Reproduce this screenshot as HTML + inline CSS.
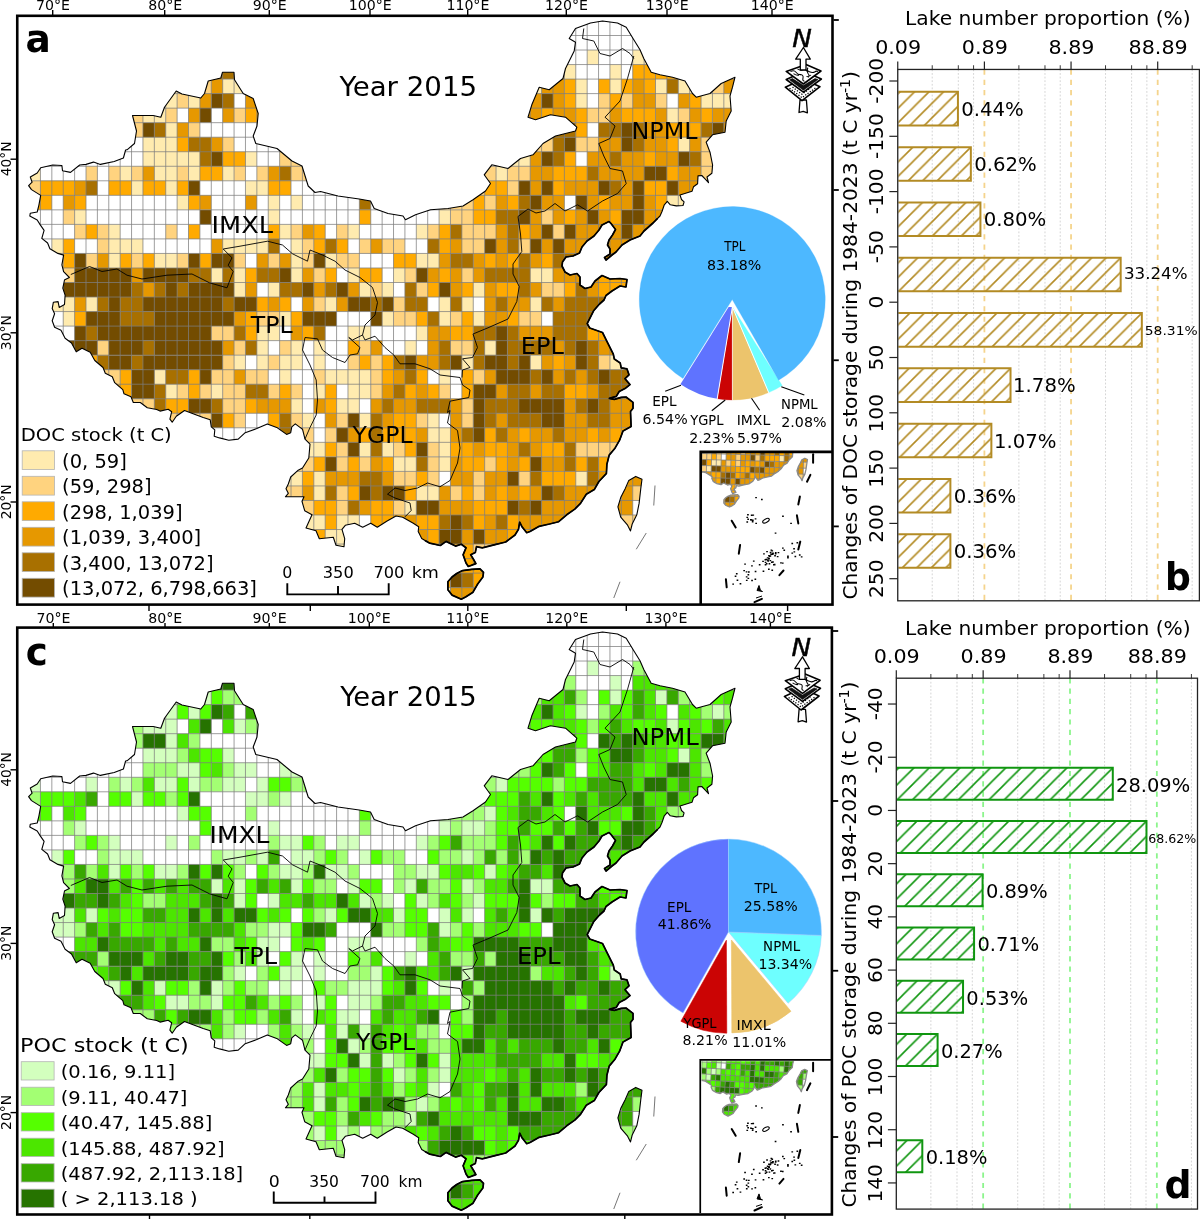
<!DOCTYPE html>
<html><head><meta charset="utf-8"><title>Lake DOC and POC stock maps</title>
<style>html,body{margin:0;padding:0;background:#fff}svg{display:block}text{font-family:"DejaVu Sans","Liberation Sans",sans-serif}</style></head>
<body><svg width="1200" height="1219" viewBox="0 0 1200 1219">
<rect width="1200" height="1219" fill="#fff"/>
<clipPath id="cpa"><path d="M28.6 185.6 L32.1 182.2 L30.3 177.0 L37.2 173.0 L40.7 167.8 L52.7 165.0 L61.9 165.5 L62.5 170.7 L70.5 172.4 L79.7 165.0 L86.0 164.4 L93.5 162.1 L100.4 164.4 L114.2 161.5 L123.4 158.0 L125.6 150.0 L127.0 149.8 L134.5 143.5 L136.5 131.0 L132.5 115.5 L153.2 115.5 L160.8 117.2 L164.5 107.2 L176.2 91.0 L182.0 94.0 L200.8 98.0 L204.5 93.5 L208.2 81.0 L220.8 78.0 L222.5 72.2 L234.0 72.2 L234.5 79.8 L243.2 93.5 L253.2 98.5 L258.2 113.5 L257.0 126.0 L253.2 136.0 L255.8 143.5 L277.0 148.5 L292.0 161.0 L302.0 166.0 L308.2 186.0 L315.0 192.5 L320.5 191.5 L338.0 196.0 L359.2 199.0 L370.5 201.0 L374.2 208.5 L388.0 213.5 L403.0 216.0 L405.5 219.8 L415.5 214.8 L430.5 209.8 L448.0 208.5 L463.0 206.0 L473.0 199.8 L485.5 191.0 L490.5 183.5 L484.2 174.8 L491.8 164.8 L508.0 168.5 L520.5 158.5 L533.0 154.8 L543.0 143.5 L555.5 136.0 L575.5 131.0 L576.8 127.2 L565.5 117.2 L550.5 114.8 L535.5 119.8 L528.0 117.2 L531.8 104.8 L539.2 87.2 L549.2 89.8 L563.0 78.5 L565.5 68.5 L574.2 51.0 L575.5 42.2 L569.2 38.5 L575.5 28.5 L590.5 23.0 L602.5 21.0 L617.5 23.0 L626.2 27.2 L633.8 39.8 L640.0 49.8 L643.8 58.5 L651.2 72.2 L660.0 74.8 L672.5 77.2 L685.0 81.0 L692.5 93.5 L696.2 97.2 L710.0 93.5 L721.2 83.5 L735.0 77.2 L732.5 87.2 L730.0 96.0 L731.2 111.0 L726.2 121.0 L725.0 132.2 L712.5 134.8 L706.2 142.2 L710.0 152.2 L712.6 165.0 L711.9 173.3 L707.0 177.0 L708.5 182.6 L705.5 179.3 L701.8 175.5 L698.0 175.9 L697.6 183.8 L693.5 186.8 L692.0 191.3 L680.0 195.0 L681.5 199.5 L684.1 201.8 L683.0 205.5 L676.3 205.9 L670.3 204.8 L667.3 201.4 L664.3 204.8 L662.0 211.5 L660.0 216.0 L657.5 218.5 L653.0 223.0 L644.0 231.0 L640.0 236.0 L630.0 240.0 L622.0 245.0 L616.0 252.0 L612.0 255.0 L606.0 260.0 L604.5 257.5 L610.0 254.0 L610.0 249.0 L607.5 245.0 L609.0 240.0 L612.5 235.0 L615.5 229.5 L611.0 223.5 L609.0 221.5 L602.0 225.0 L599.0 230.0 L594.0 236.0 L587.0 241.0 L582.0 247.0 L579.5 253.0 L573.0 256.0 L566.0 257.0 L562.5 262.0 L562.0 266.0 L565.0 272.0 L570.0 275.0 L577.0 273.5 L580.0 277.0 L580.0 285.0 L585.0 288.5 L591.0 287.0 L595.0 281.0 L602.0 275.5 L610.0 279.0 L620.0 278.5 L627.0 279.5 L626.0 287.0 L620.0 286.0 L612.0 291.0 L606.0 295.5 L604.0 300.0 L599.5 304.0 L593.6 310.8 L590.7 316.7 L587.2 323.6 L589.7 328.0 L602.5 332.5 L607.4 342.3 L613.3 354.1 L614.3 359.0 L620.2 363.0 L621.2 367.9 L627.0 368.9 L629.0 374.8 L625.0 378.7 L630.0 384.6 L625.0 388.6 L619.2 391.5 L616.3 396.4 L609.4 398.4 L614.3 399.4 L621.2 397.4 L626.0 397.0 L633.0 402.4 L633.0 408.3 L630.5 411.5 L631.1 426.4 L623.0 431.0 L619.6 440.2 L615.0 448.2 L609.2 455.1 L606.9 464.3 L606.4 473.5 L598.9 481.5 L594.3 489.6 L586.3 494.2 L580.5 503.4 L574.8 509.1 L566.7 514.8 L558.7 521.7 L549.5 524.0 L539.2 526.3 L530.0 531.5 L526.7 532.7 L522.0 526.8 L519.7 522.2 L518.5 529.2 L515.0 535.0 L505.7 542.0 L494.0 544.9 L482.3 547.8 L476.5 546.7 L475.3 552.5 L470.7 554.8 L473.6 559.5 L475.9 563.6 L468.3 566.5 L466.0 563.0 L463.1 554.8 L466.0 547.8 L461.3 544.3 L455.5 546.1 L446.2 541.4 L440.3 545.5 L429.8 543.2 L425.0 540.5 L421.7 538.5 L418.2 531.5 L418.7 526.7 L413.3 523.3 L402.7 517.3 L396.0 516.0 L386.7 521.3 L377.3 527.3 L370.7 523.3 L362.7 527.3 L354.7 523.3 L345.3 525.3 L342.0 529.3 L344.7 538.7 L344.0 546.7 L336.0 545.3 L333.3 537.3 L319.3 538.7 L316.0 530.7 L306.0 528.0 L312.0 514.7 L304.7 510.7 L302.0 501.3 L304.0 496.7 L289.5 496.8 L285.4 496.8 L288.3 493.3 L286.0 488.7 L288.3 484.0 L290.7 477.0 L297.7 470.6 L302.5 468.0 L308.8 458.0 L310.0 444.2 L305.0 439.2 L302.5 429.2 L300.0 427.4 L295.3 423.9 L291.8 426.8 L290.7 432.7 L286.6 434.4 L276.7 427.4 L267.3 423.9 L256.8 428.6 L245.2 432.7 L238.2 439.1 L228.8 440.2 L219.5 437.9 L214.2 436.2 L214.8 429.8 L211.3 426.8 L210.2 419.8 L203.2 417.5 L193.8 414.0 L184.5 410.5 L176.3 416.3 L172.2 422.2 L169.9 419.2 L171.7 411.7 L168.2 409.3 L160.0 411.1 L156.7 409.5 L147.3 407.8 L140.3 402.5 L133.3 402.5 L131.0 396.7 L124.0 393.8 L122.8 389.7 L114.7 382.7 L112.3 376.8 L105.3 373.3 L103.0 367.5 L94.8 360.5 L90.2 352.3 L82.0 348.2 L76.2 351.8 L71.5 343.0 L65.1 338.3 L61.0 330.2 L54.6 327.2 L52.2 320.8 L54.6 313.8 L52.2 308.6 L53.4 302.2 L58.1 301.6 L59.2 307.4 L64.5 304.5 L65.1 295.2 L62.8 288.2 L64.5 280.0 L64.8 279.8 L69.4 277.5 L63.6 271.7 L61.9 264.8 L63.6 255.1 L57.9 253.4 L49.9 248.8 L47.6 243.0 L41.8 238.4 L44.1 230.4 L40.1 224.6 L37.2 220.0 L29.8 216.0 L30.3 213.2 L37.2 212.0 L38.9 205.1 L40.7 195.4 L31.5 189.6Z M456.7 573.5 L462.5 570.6 L471.8 569.4 L480.0 568.8 L483.5 572.3 L482.9 577.0 L477.7 584.0 L473.0 592.2 L466.0 596.8 L461.3 599.2 L452.0 595.1 L447.9 589.8 L447.9 581.7 L452.0 577.0Z M635.7 476.4 L642.0 479.2 L640.8 488.4 L639.1 503.4 L636.8 514.8 L632.2 524.0 L630.5 530.9 L627.6 525.2 L620.7 517.1 L617.9 506.8 L620.7 497.6 L625.3 488.4 L628.8 480.4Z"/></clipPath>
<g id="cells_cpa" clip-path="url(#cpa)">
<path fill="#FFEBAF" d="M587.2 50.0h11.4v14.5h-11.4zM632.7 50.0h22.8v14.5h-22.8zM553.0 64.6h22.8v14.5h-22.8zM609.9 64.6h11.4v14.5h-11.4zM165.7 79.1h22.8v14.5h-22.8zM222.7 79.1h22.8v14.5h-22.8zM530.2 79.1h11.4v14.5h-11.4zM575.8 79.1h11.4v14.5h-11.4zM609.9 79.1h11.4v14.5h-11.4zM655.5 79.1h11.4v14.5h-11.4zM678.3 79.1h22.8v14.5h-22.8zM165.7 93.6h11.4v14.5h-11.4zM188.5 93.6h11.4v14.5h-11.4zM575.8 93.6h11.4v14.5h-11.4zM701.1 93.6h34.2v14.5h-34.2zM143.0 108.1h22.8v14.5h-22.8zM666.9 108.1h11.4v14.5h-11.4zM165.7 122.7h11.4v14.5h-11.4zM143.0 137.2h34.2v14.5h-34.2zM678.3 137.2h11.4v14.5h-11.4zM143.0 151.7h57.0v14.5h-57.0zM245.5 151.7h11.4v14.5h-11.4zM507.4 151.7h22.8v14.5h-22.8zM29.1 166.3h11.4v14.5h-11.4zM120.2 166.3h11.4v14.5h-11.4zM154.3 166.3h22.8v14.5h-22.8zM188.5 166.3h11.4v14.5h-11.4zM222.7 166.3h11.4v14.5h-11.4zM496.0 166.3h11.4v14.5h-11.4zM131.6 180.8h11.4v14.5h-11.4zM165.7 180.8h11.4v14.5h-11.4zM245.5 180.8h22.8v14.5h-22.8zM177.1 195.3h11.4v14.5h-11.4zM268.2 195.3h11.4v14.5h-11.4zM291.0 195.3h11.4v14.5h-11.4zM666.9 195.3h22.8v14.5h-22.8zM74.6 209.9h11.4v14.5h-11.4zM268.2 209.9h11.4v14.5h-11.4zM439.1 209.9h11.4v14.5h-11.4zM108.8 224.4h11.4v14.5h-11.4zM279.6 224.4h11.4v14.5h-11.4zM348.0 224.4h11.4v14.5h-11.4zM416.3 224.4h11.4v14.5h-11.4zM51.8 238.9h11.4v14.5h-11.4zM108.8 238.9h34.2v14.5h-34.2zM222.7 238.9h45.6v14.5h-45.6zM291.0 238.9h11.4v14.5h-11.4zM51.8 253.4h11.4v14.5h-11.4zM108.8 253.4h11.4v14.5h-11.4zM154.3 253.4h22.8v14.5h-22.8zM291.0 253.4h11.4v14.5h-11.4zM325.2 253.4h11.4v14.5h-11.4zM416.3 253.4h22.8v14.5h-22.8zM211.3 268.0h11.4v14.5h-11.4zM234.1 268.0h11.4v14.5h-11.4zM291.0 268.0h11.4v14.5h-11.4zM348.0 268.0h11.4v14.5h-11.4zM393.5 268.0h11.4v14.5h-11.4zM530.2 268.0h22.8v14.5h-22.8zM234.1 282.5h11.4v14.5h-11.4zM268.2 282.5h11.4v14.5h-11.4zM359.4 282.5h11.4v14.5h-11.4zM382.1 282.5h11.4v14.5h-11.4zM473.3 282.5h11.4v14.5h-11.4zM51.8 297.0h22.8v14.5h-22.8zM86.0 297.0h11.4v14.5h-11.4zM325.2 297.0h11.4v14.5h-11.4zM439.1 297.0h11.4v14.5h-11.4zM461.9 297.0h11.4v14.5h-11.4zM530.2 297.0h11.4v14.5h-11.4zM63.2 311.6h11.4v14.5h-11.4zM279.6 311.6h11.4v14.5h-11.4zM382.1 311.6h11.4v14.5h-11.4zM439.1 311.6h11.4v14.5h-11.4zM473.3 311.6h11.4v14.5h-11.4zM256.9 326.1h22.8v14.5h-22.8zM348.0 326.1h22.8v14.5h-22.8zM416.3 326.1h11.4v14.5h-11.4zM256.9 340.6h11.4v14.5h-11.4zM291.0 340.6h11.4v14.5h-11.4zM313.8 340.6h11.4v14.5h-11.4zM404.9 340.6h11.4v14.5h-11.4zM484.7 340.6h11.4v14.5h-11.4zM234.1 355.2h11.4v14.5h-11.4zM256.9 355.2h11.4v14.5h-11.4zM279.6 355.2h22.8v14.5h-22.8zM313.8 355.2h11.4v14.5h-11.4zM461.9 355.2h11.4v14.5h-11.4zM530.2 355.2h11.4v14.5h-11.4zM609.9 355.2h22.8v14.5h-22.8zM154.3 369.7h11.4v14.5h-11.4zM279.6 369.7h11.4v14.5h-11.4zM325.2 369.7h45.6v14.5h-45.6zM439.1 369.7h11.4v14.5h-11.4zM165.7 384.2h11.4v14.5h-11.4zM211.3 384.2h11.4v14.5h-11.4zM313.8 384.2h11.4v14.5h-11.4zM348.0 384.2h22.8v14.5h-22.8zM291.0 398.8h11.4v14.5h-11.4zM336.6 398.8h22.8v14.5h-22.8zM302.4 413.3h11.4v14.5h-11.4zM359.4 413.3h11.4v14.5h-11.4zM427.7 413.3h11.4v14.5h-11.4zM427.7 427.8h22.8v14.5h-22.8zM302.4 442.3h22.8v14.5h-22.8zM359.4 442.3h11.4v14.5h-11.4zM382.1 442.3h11.4v14.5h-11.4zM439.1 442.3h11.4v14.5h-11.4zM393.5 456.9h22.8v14.5h-22.8zM439.1 456.9h11.4v14.5h-11.4zM279.6 471.4h22.8v14.5h-22.8zM313.8 471.4h11.4v14.5h-11.4zM575.8 471.4h11.4v14.5h-11.4zM313.8 485.9h11.4v14.5h-11.4zM416.3 485.9h22.8v14.5h-22.8zM404.9 500.5h11.4v14.5h-11.4zM302.4 515.0h22.8v14.5h-22.8zM336.6 515.0h22.8v14.5h-22.8zM325.2 529.5h22.8v14.5h-22.8zM336.6 544.0h11.4v14.5h-11.4zM439.1 587.6h11.4v14.5h-11.4z"/>
<path fill="#FFD37F" d="M199.9 79.1h11.4v14.5h-11.4zM712.5 79.1h11.4v14.5h-11.4zM177.1 93.6h11.4v14.5h-11.4zM598.5 93.6h11.4v14.5h-11.4zM621.3 93.6h11.4v14.5h-11.4zM655.5 93.6h11.4v14.5h-11.4zM131.6 108.1h11.4v14.5h-11.4zM165.7 108.1h11.4v14.5h-11.4zM234.1 108.1h11.4v14.5h-11.4zM587.2 108.1h22.8v14.5h-22.8zM678.3 108.1h11.4v14.5h-11.4zM131.6 122.7h11.4v14.5h-11.4zM188.5 122.7h11.4v14.5h-11.4zM222.7 137.2h11.4v14.5h-11.4zM530.2 137.2h22.8v14.5h-22.8zM575.8 137.2h22.8v14.5h-22.8zM701.1 137.2h11.4v14.5h-11.4zM279.6 151.7h22.8v14.5h-22.8zM701.1 151.7h11.4v14.5h-11.4zM86.0 166.3h11.4v14.5h-11.4zM108.8 166.3h11.4v14.5h-11.4zM131.6 166.3h11.4v14.5h-11.4zM177.1 166.3h11.4v14.5h-11.4zM234.1 166.3h11.4v14.5h-11.4zM256.9 166.3h11.4v14.5h-11.4zM291.0 166.3h22.8v14.5h-22.8zM484.7 166.3h11.4v14.5h-11.4zM507.4 166.3h22.8v14.5h-22.8zM701.1 166.3h11.4v14.5h-11.4zM29.1 180.8h11.4v14.5h-11.4zM473.3 180.8h11.4v14.5h-11.4zM507.4 180.8h11.4v14.5h-11.4zM439.1 195.3h34.2v14.5h-34.2zM484.7 195.3h11.4v14.5h-11.4zM63.2 209.9h11.4v14.5h-11.4zM450.5 209.9h22.8v14.5h-22.8zM541.6 209.9h11.4v14.5h-11.4zM74.6 224.4h11.4v14.5h-11.4zM97.4 224.4h11.4v14.5h-11.4zM165.7 224.4h11.4v14.5h-11.4zM291.0 224.4h11.4v14.5h-11.4zM336.6 224.4h11.4v14.5h-11.4zM427.7 224.4h11.4v14.5h-11.4zM461.9 224.4h34.2v14.5h-34.2zM553.0 224.4h11.4v14.5h-11.4zM97.4 238.9h11.4v14.5h-11.4zM302.4 238.9h11.4v14.5h-11.4zM359.4 238.9h11.4v14.5h-11.4zM382.1 238.9h22.8v14.5h-22.8zM461.9 238.9h22.8v14.5h-22.8zM518.8 238.9h11.4v14.5h-11.4zM86.0 253.4h11.4v14.5h-11.4zM131.6 253.4h11.4v14.5h-11.4zM177.1 253.4h11.4v14.5h-11.4zM234.1 253.4h11.4v14.5h-11.4zM268.2 253.4h11.4v14.5h-11.4zM302.4 253.4h11.4v14.5h-11.4zM336.6 253.4h22.8v14.5h-22.8zM63.2 268.0h11.4v14.5h-11.4zM313.8 268.0h11.4v14.5h-11.4zM404.9 268.0h11.4v14.5h-11.4zM461.9 268.0h11.4v14.5h-11.4zM370.8 282.5h11.4v14.5h-11.4zM416.3 282.5h11.4v14.5h-11.4zM541.6 282.5h22.8v14.5h-22.8zM313.8 297.0h11.4v14.5h-11.4zM393.5 297.0h11.4v14.5h-11.4zM256.9 311.6h22.8v14.5h-22.8zM393.5 311.6h22.8v14.5h-22.8zM450.5 311.6h11.4v14.5h-11.4zM518.8 311.6h22.8v14.5h-22.8zM211.3 326.1h22.8v14.5h-22.8zM97.4 340.6h11.4v14.5h-11.4zM234.1 340.6h11.4v14.5h-11.4zM279.6 340.6h11.4v14.5h-11.4zM359.4 340.6h11.4v14.5h-11.4zM450.5 340.6h22.8v14.5h-22.8zM222.7 355.2h11.4v14.5h-11.4zM268.2 355.2h11.4v14.5h-11.4zM348.0 355.2h11.4v14.5h-11.4zM370.8 355.2h11.4v14.5h-11.4zM598.5 355.2h11.4v14.5h-11.4zM97.4 369.7h22.8v14.5h-22.8zM211.3 369.7h22.8v14.5h-22.8zM245.5 369.7h22.8v14.5h-22.8zM313.8 369.7h11.4v14.5h-11.4zM370.8 369.7h11.4v14.5h-11.4zM473.3 369.7h11.4v14.5h-11.4zM177.1 384.2h11.4v14.5h-11.4zM199.9 384.2h11.4v14.5h-11.4zM222.7 384.2h22.8v14.5h-22.8zM268.2 384.2h11.4v14.5h-11.4zM291.0 384.2h11.4v14.5h-11.4zM370.8 384.2h11.4v14.5h-11.4zM439.1 384.2h11.4v14.5h-11.4zM131.6 398.8h22.8v14.5h-22.8zM222.7 398.8h22.8v14.5h-22.8zM461.9 398.8h11.4v14.5h-11.4zM165.7 413.3h45.6v14.5h-45.6zM234.1 413.3h11.4v14.5h-11.4zM291.0 413.3h11.4v14.5h-11.4zM336.6 413.3h11.4v14.5h-11.4zM416.3 413.3h11.4v14.5h-11.4zM461.9 413.3h11.4v14.5h-11.4zM302.4 427.8h11.4v14.5h-11.4zM325.2 427.8h11.4v14.5h-11.4zM336.6 442.3h11.4v14.5h-11.4zM393.5 442.3h11.4v14.5h-11.4zM427.7 442.3h11.4v14.5h-11.4zM575.8 442.3h45.6v14.5h-45.6zM291.0 456.9h22.8v14.5h-22.8zM336.6 456.9h11.4v14.5h-11.4zM359.4 456.9h11.4v14.5h-11.4zM427.7 456.9h11.4v14.5h-11.4zM484.7 456.9h11.4v14.5h-11.4zM393.5 471.4h22.8v14.5h-22.8zM427.7 471.4h11.4v14.5h-11.4zM473.3 471.4h11.4v14.5h-11.4zM518.8 471.4h11.4v14.5h-11.4zM279.6 485.9h22.8v14.5h-22.8zM336.6 485.9h11.4v14.5h-11.4zM450.5 485.9h11.4v14.5h-11.4zM473.3 485.9h11.4v14.5h-11.4zM632.7 485.9h11.4v14.5h-11.4zM302.4 500.5h11.4v14.5h-11.4zM336.6 500.5h11.4v14.5h-11.4zM393.5 500.5h11.4v14.5h-11.4zM621.3 515.0h22.8v14.5h-22.8zM473.3 544.0h22.8v14.5h-22.8z"/>
<path fill="#FFAA00" d="M632.7 64.6h45.6v14.5h-45.6zM564.4 79.1h11.4v14.5h-11.4zM598.5 79.1h11.4v14.5h-11.4zM621.3 79.1h11.4v14.5h-11.4zM644.1 79.1h11.4v14.5h-11.4zM564.4 93.6h11.4v14.5h-11.4zM609.9 93.6h11.4v14.5h-11.4zM689.7 93.6h11.4v14.5h-11.4zM245.5 108.1h22.8v14.5h-22.8zM541.6 108.1h11.4v14.5h-11.4zM575.8 108.1h11.4v14.5h-11.4zM621.3 108.1h34.2v14.5h-34.2zM701.1 108.1h11.4v14.5h-11.4zM575.8 122.7h11.4v14.5h-11.4zM666.9 122.7h34.2v14.5h-34.2zM177.1 137.2h11.4v14.5h-11.4zM666.9 137.2h11.4v14.5h-11.4zM222.7 151.7h22.8v14.5h-22.8zM564.4 151.7h11.4v14.5h-11.4zM644.1 151.7h11.4v14.5h-11.4zM199.9 166.3h22.8v14.5h-22.8zM553.0 166.3h34.2v14.5h-34.2zM666.9 166.3h11.4v14.5h-11.4zM40.4 180.8h34.2v14.5h-34.2zM108.8 180.8h22.8v14.5h-22.8zM143.0 180.8h22.8v14.5h-22.8zM177.1 180.8h11.4v14.5h-11.4zM268.2 180.8h22.8v14.5h-22.8zM484.7 180.8h22.8v14.5h-22.8zM553.0 180.8h11.4v14.5h-11.4zM644.1 180.8h22.8v14.5h-22.8zM29.1 195.3h22.8v14.5h-22.8zM74.6 195.3h11.4v14.5h-11.4zM188.5 195.3h11.4v14.5h-11.4zM473.3 195.3h11.4v14.5h-11.4zM507.4 195.3h11.4v14.5h-11.4zM598.5 195.3h11.4v14.5h-11.4zM655.5 195.3h11.4v14.5h-11.4zM359.4 209.9h11.4v14.5h-11.4zM473.3 209.9h22.8v14.5h-22.8zM564.4 209.9h11.4v14.5h-11.4zM609.9 209.9h11.4v14.5h-11.4zM86.0 224.4h11.4v14.5h-11.4zM188.5 224.4h11.4v14.5h-11.4zM268.2 224.4h11.4v14.5h-11.4zM313.8 224.4h11.4v14.5h-11.4zM439.1 224.4h11.4v14.5h-11.4zM518.8 224.4h11.4v14.5h-11.4zM63.2 238.9h11.4v14.5h-11.4zM313.8 238.9h11.4v14.5h-11.4zM336.6 238.9h11.4v14.5h-11.4zM439.1 238.9h11.4v14.5h-11.4zM63.2 253.4h11.4v14.5h-11.4zM120.2 253.4h11.4v14.5h-11.4zM143.0 253.4h11.4v14.5h-11.4zM199.9 253.4h11.4v14.5h-11.4zM393.5 253.4h22.8v14.5h-22.8zM484.7 253.4h11.4v14.5h-11.4zM507.4 253.4h11.4v14.5h-11.4zM541.6 253.4h11.4v14.5h-11.4zM245.5 268.0h11.4v14.5h-11.4zM325.2 268.0h11.4v14.5h-11.4zM359.4 268.0h22.8v14.5h-22.8zM439.1 268.0h11.4v14.5h-11.4zM598.5 268.0h34.2v14.5h-34.2zM427.7 282.5h11.4v14.5h-11.4zM461.9 282.5h11.4v14.5h-11.4zM496.0 282.5h22.8v14.5h-22.8zM564.4 282.5h11.4v14.5h-11.4zM598.5 282.5h34.2v14.5h-34.2zM256.9 297.0h11.4v14.5h-11.4zM279.6 297.0h11.4v14.5h-11.4zM74.6 311.6h11.4v14.5h-11.4zM245.5 311.6h11.4v14.5h-11.4zM291.0 311.6h11.4v14.5h-11.4zM416.3 311.6h11.4v14.5h-11.4zM461.9 311.6h11.4v14.5h-11.4zM507.4 311.6h11.4v14.5h-11.4zM245.5 326.1h11.4v14.5h-11.4zM302.4 326.1h11.4v14.5h-11.4zM450.5 326.1h22.8v14.5h-22.8zM587.2 326.1h22.8v14.5h-22.8zM348.0 340.6h11.4v14.5h-11.4zM86.0 355.2h11.4v14.5h-11.4zM359.4 355.2h11.4v14.5h-11.4zM382.1 355.2h11.4v14.5h-11.4zM553.0 355.2h11.4v14.5h-11.4zM120.2 369.7h11.4v14.5h-11.4zM188.5 369.7h11.4v14.5h-11.4zM382.1 369.7h11.4v14.5h-11.4zM416.3 369.7h11.4v14.5h-11.4zM461.9 369.7h11.4v14.5h-11.4zM108.8 384.2h22.8v14.5h-22.8zM188.5 384.2h11.4v14.5h-11.4zM279.6 384.2h11.4v14.5h-11.4zM325.2 384.2h11.4v14.5h-11.4zM404.9 384.2h11.4v14.5h-11.4zM427.7 384.2h11.4v14.5h-11.4zM461.9 384.2h11.4v14.5h-11.4zM564.4 384.2h22.8v14.5h-22.8zM165.7 398.8h22.8v14.5h-22.8zM245.5 398.8h11.4v14.5h-11.4zM325.2 398.8h11.4v14.5h-11.4zM222.7 413.3h11.4v14.5h-11.4zM268.2 413.3h11.4v14.5h-11.4zM393.5 413.3h22.8v14.5h-22.8zM359.4 427.8h11.4v14.5h-11.4zM382.1 427.8h34.2v14.5h-34.2zM484.7 427.8h11.4v14.5h-11.4zM518.8 427.8h11.4v14.5h-11.4zM587.2 427.8h11.4v14.5h-11.4zM609.9 427.8h22.8v14.5h-22.8zM325.2 442.3h11.4v14.5h-11.4zM404.9 442.3h11.4v14.5h-11.4zM450.5 442.3h22.8v14.5h-22.8zM484.7 442.3h22.8v14.5h-22.8zM541.6 442.3h22.8v14.5h-22.8zM313.8 456.9h11.4v14.5h-11.4zM348.0 456.9h11.4v14.5h-11.4zM382.1 456.9h11.4v14.5h-11.4zM461.9 456.9h22.8v14.5h-22.8zM496.0 456.9h11.4v14.5h-11.4zM518.8 456.9h11.4v14.5h-11.4zM575.8 456.9h11.4v14.5h-11.4zM598.5 456.9h11.4v14.5h-11.4zM302.4 471.4h11.4v14.5h-11.4zM416.3 471.4h11.4v14.5h-11.4zM541.6 471.4h34.2v14.5h-34.2zM348.0 485.9h11.4v14.5h-11.4zM404.9 485.9h11.4v14.5h-11.4zM461.9 485.9h11.4v14.5h-11.4zM496.0 485.9h11.4v14.5h-11.4zM518.8 485.9h11.4v14.5h-11.4zM313.8 500.5h22.8v14.5h-22.8zM370.8 500.5h22.8v14.5h-22.8zM473.3 500.5h34.2v14.5h-34.2zM325.2 515.0h11.4v14.5h-11.4zM370.8 515.0h34.2v14.5h-34.2zM416.3 515.0h22.8v14.5h-22.8zM473.3 515.0h11.4v14.5h-11.4zM507.4 515.0h11.4v14.5h-11.4zM313.8 529.5h11.4v14.5h-11.4zM427.7 529.5h11.4v14.5h-11.4zM507.4 529.5h22.8v14.5h-22.8zM450.5 544.0h22.8v14.5h-22.8zM450.5 558.6h34.2v14.5h-34.2zM439.1 573.1h11.4v14.5h-11.4zM473.3 573.1h11.4v14.5h-11.4z"/>
<path fill="#E69800" d="M211.3 79.1h11.4v14.5h-11.4zM541.6 79.1h22.8v14.5h-22.8zM632.7 79.1h11.4v14.5h-11.4zM723.8 79.1h11.4v14.5h-11.4zM199.9 93.6h11.4v14.5h-11.4zM245.5 93.6h11.4v14.5h-11.4zM530.2 93.6h11.4v14.5h-11.4zM553.0 93.6h11.4v14.5h-11.4zM632.7 93.6h22.8v14.5h-22.8zM678.3 93.6h11.4v14.5h-11.4zM188.5 108.1h11.4v14.5h-11.4zM222.7 108.1h11.4v14.5h-11.4zM518.8 108.1h22.8v14.5h-22.8zM553.0 108.1h22.8v14.5h-22.8zM609.9 108.1h11.4v14.5h-11.4zM655.5 108.1h11.4v14.5h-11.4zM689.7 108.1h11.4v14.5h-11.4zM712.5 108.1h22.8v14.5h-22.8zM177.1 122.7h11.4v14.5h-11.4zM644.1 122.7h22.8v14.5h-22.8zM723.8 122.7h11.4v14.5h-11.4zM211.3 137.2h11.4v14.5h-11.4zM598.5 137.2h22.8v14.5h-22.8zM644.1 137.2h22.8v14.5h-22.8zM689.7 137.2h11.4v14.5h-11.4zM530.2 151.7h11.4v14.5h-11.4zM587.2 151.7h22.8v14.5h-22.8zM621.3 151.7h22.8v14.5h-22.8zM655.5 151.7h22.8v14.5h-22.8zM143.0 166.3h11.4v14.5h-11.4zM268.2 166.3h11.4v14.5h-11.4zM530.2 166.3h22.8v14.5h-22.8zM598.5 166.3h45.6v14.5h-45.6zM678.3 166.3h22.8v14.5h-22.8zM74.6 180.8h11.4v14.5h-11.4zM530.2 180.8h11.4v14.5h-11.4zM564.4 180.8h34.2v14.5h-34.2zM621.3 180.8h11.4v14.5h-11.4zM678.3 180.8h22.8v14.5h-22.8zM63.2 195.3h11.4v14.5h-11.4zM199.9 195.3h11.4v14.5h-11.4zM245.5 195.3h11.4v14.5h-11.4zM496.0 195.3h11.4v14.5h-11.4zM541.6 195.3h22.8v14.5h-22.8zM587.2 195.3h11.4v14.5h-11.4zM609.9 195.3h22.8v14.5h-22.8zM644.1 195.3h11.4v14.5h-11.4zM530.2 209.9h11.4v14.5h-11.4zM553.0 209.9h11.4v14.5h-11.4zM575.8 209.9h11.4v14.5h-11.4zM598.5 209.9h11.4v14.5h-11.4zM644.1 209.9h22.8v14.5h-22.8zM302.4 224.4h11.4v14.5h-11.4zM496.0 224.4h11.4v14.5h-11.4zM530.2 224.4h11.4v14.5h-11.4zM575.8 224.4h45.6v14.5h-45.6zM632.7 224.4h22.8v14.5h-22.8zM211.3 238.9h11.4v14.5h-11.4zM370.8 238.9h11.4v14.5h-11.4zM450.5 238.9h11.4v14.5h-11.4zM496.0 238.9h11.4v14.5h-11.4zM541.6 238.9h11.4v14.5h-11.4zM564.4 238.9h22.8v14.5h-22.8zM598.5 238.9h34.2v14.5h-34.2zM97.4 253.4h11.4v14.5h-11.4zM256.9 253.4h11.4v14.5h-11.4zM279.6 253.4h11.4v14.5h-11.4zM439.1 253.4h11.4v14.5h-11.4zM473.3 253.4h11.4v14.5h-11.4zM496.0 253.4h11.4v14.5h-11.4zM530.2 253.4h11.4v14.5h-11.4zM598.5 253.4h22.8v14.5h-22.8zM131.6 268.0h11.4v14.5h-11.4zM302.4 268.0h11.4v14.5h-11.4zM427.7 268.0h11.4v14.5h-11.4zM450.5 268.0h11.4v14.5h-11.4zM473.3 268.0h11.4v14.5h-11.4zM553.0 268.0h45.6v14.5h-45.6zM143.0 282.5h11.4v14.5h-11.4zM245.5 282.5h11.4v14.5h-11.4zM313.8 282.5h11.4v14.5h-11.4zM348.0 282.5h11.4v14.5h-11.4zM450.5 282.5h11.4v14.5h-11.4zM484.7 282.5h11.4v14.5h-11.4zM530.2 282.5h11.4v14.5h-11.4zM587.2 282.5h11.4v14.5h-11.4zM74.6 297.0h11.4v14.5h-11.4zM268.2 297.0h11.4v14.5h-11.4zM302.4 297.0h11.4v14.5h-11.4zM336.6 297.0h11.4v14.5h-11.4zM484.7 297.0h11.4v14.5h-11.4zM507.4 297.0h22.8v14.5h-22.8zM553.0 297.0h11.4v14.5h-11.4zM234.1 311.6h11.4v14.5h-11.4zM484.7 311.6h22.8v14.5h-22.8zM291.0 326.1h11.4v14.5h-11.4zM427.7 326.1h22.8v14.5h-22.8zM518.8 326.1h34.2v14.5h-34.2zM222.7 340.6h11.4v14.5h-11.4zM370.8 340.6h11.4v14.5h-11.4zM427.7 340.6h11.4v14.5h-11.4zM553.0 340.6h11.4v14.5h-11.4zM598.5 340.6h22.8v14.5h-22.8zM416.3 355.2h22.8v14.5h-22.8zM541.6 355.2h11.4v14.5h-11.4zM564.4 355.2h11.4v14.5h-11.4zM234.1 369.7h11.4v14.5h-11.4zM393.5 369.7h11.4v14.5h-11.4zM484.7 369.7h11.4v14.5h-11.4zM553.0 369.7h11.4v14.5h-11.4zM575.8 369.7h11.4v14.5h-11.4zM382.1 384.2h11.4v14.5h-11.4zM416.3 384.2h11.4v14.5h-11.4zM496.0 384.2h11.4v14.5h-11.4zM530.2 384.2h11.4v14.5h-11.4zM587.2 384.2h11.4v14.5h-11.4zM256.9 398.8h34.2v14.5h-34.2zM313.8 398.8h11.4v14.5h-11.4zM370.8 398.8h11.4v14.5h-11.4zM393.5 398.8h22.8v14.5h-22.8zM450.5 398.8h11.4v14.5h-11.4zM564.4 398.8h11.4v14.5h-11.4zM609.9 398.8h22.8v14.5h-22.8zM325.2 413.3h11.4v14.5h-11.4zM382.1 413.3h11.4v14.5h-11.4zM450.5 413.3h11.4v14.5h-11.4zM496.0 413.3h11.4v14.5h-11.4zM564.4 413.3h22.8v14.5h-22.8zM609.9 413.3h22.8v14.5h-22.8zM348.0 427.8h11.4v14.5h-11.4zM416.3 427.8h11.4v14.5h-11.4zM450.5 427.8h11.4v14.5h-11.4zM507.4 427.8h11.4v14.5h-11.4zM530.2 427.8h22.8v14.5h-22.8zM564.4 427.8h22.8v14.5h-22.8zM598.5 427.8h11.4v14.5h-11.4zM473.3 442.3h11.4v14.5h-11.4zM507.4 442.3h11.4v14.5h-11.4zM530.2 442.3h11.4v14.5h-11.4zM370.8 456.9h11.4v14.5h-11.4zM450.5 456.9h11.4v14.5h-11.4zM507.4 456.9h11.4v14.5h-11.4zM541.6 456.9h22.8v14.5h-22.8zM325.2 471.4h34.2v14.5h-34.2zM382.1 471.4h11.4v14.5h-11.4zM450.5 471.4h22.8v14.5h-22.8zM484.7 471.4h22.8v14.5h-22.8zM598.5 471.4h11.4v14.5h-11.4zM621.3 471.4h22.8v14.5h-22.8zM302.4 485.9h11.4v14.5h-11.4zM439.1 485.9h11.4v14.5h-11.4zM484.7 485.9h11.4v14.5h-11.4zM507.4 485.9h11.4v14.5h-11.4zM530.2 485.9h11.4v14.5h-11.4zM564.4 485.9h34.2v14.5h-34.2zM621.3 485.9h11.4v14.5h-11.4zM359.4 500.5h11.4v14.5h-11.4zM439.1 500.5h34.2v14.5h-34.2zM541.6 500.5h45.6v14.5h-45.6zM609.9 500.5h22.8v14.5h-22.8zM404.9 515.0h11.4v14.5h-11.4zM484.7 515.0h11.4v14.5h-11.4zM518.8 515.0h45.6v14.5h-45.6zM416.3 529.5h11.4v14.5h-11.4zM461.9 529.5h11.4v14.5h-11.4zM484.7 529.5h22.8v14.5h-22.8zM450.5 587.6h34.2v14.5h-34.2z"/>
<path fill="#A87000" d="M211.3 64.6h22.8v14.5h-22.8zM666.9 79.1h11.4v14.5h-11.4zM222.7 93.6h11.4v14.5h-11.4zM154.3 122.7h11.4v14.5h-11.4zM553.0 122.7h22.8v14.5h-22.8zM598.5 122.7h22.8v14.5h-22.8zM632.7 122.7h11.4v14.5h-11.4zM701.1 122.7h11.4v14.5h-11.4zM188.5 137.2h22.8v14.5h-22.8zM553.0 137.2h11.4v14.5h-11.4zM632.7 137.2h11.4v14.5h-11.4zM199.9 151.7h11.4v14.5h-11.4zM553.0 151.7h11.4v14.5h-11.4zM609.9 151.7h11.4v14.5h-11.4zM689.7 151.7h11.4v14.5h-11.4zM279.6 166.3h11.4v14.5h-11.4zM587.2 166.3h11.4v14.5h-11.4zM86.0 180.8h11.4v14.5h-11.4zM609.9 180.8h11.4v14.5h-11.4zM359.4 195.3h11.4v14.5h-11.4zM518.8 195.3h11.4v14.5h-11.4zM496.0 209.9h22.8v14.5h-22.8zM450.5 224.4h11.4v14.5h-11.4zM507.4 224.4h11.4v14.5h-11.4zM268.2 238.9h11.4v14.5h-11.4zM325.2 238.9h11.4v14.5h-11.4zM427.7 238.9h11.4v14.5h-11.4zM507.4 238.9h11.4v14.5h-11.4zM450.5 253.4h22.8v14.5h-22.8zM518.8 253.4h11.4v14.5h-11.4zM553.0 253.4h22.8v14.5h-22.8zM188.5 268.0h22.8v14.5h-22.8zM222.7 268.0h11.4v14.5h-11.4zM256.9 268.0h22.8v14.5h-22.8zM484.7 268.0h45.6v14.5h-45.6zM131.6 282.5h11.4v14.5h-11.4zM154.3 282.5h11.4v14.5h-11.4zM177.1 282.5h11.4v14.5h-11.4zM279.6 282.5h22.8v14.5h-22.8zM325.2 282.5h11.4v14.5h-11.4zM404.9 282.5h11.4v14.5h-11.4zM518.8 282.5h11.4v14.5h-11.4zM575.8 282.5h11.4v14.5h-11.4zM97.4 297.0h11.4v14.5h-11.4zM120.2 297.0h22.8v14.5h-22.8zM222.7 297.0h11.4v14.5h-11.4zM370.8 297.0h11.4v14.5h-11.4zM404.9 297.0h22.8v14.5h-22.8zM450.5 297.0h11.4v14.5h-11.4zM496.0 297.0h11.4v14.5h-11.4zM541.6 297.0h11.4v14.5h-11.4zM564.4 297.0h45.6v14.5h-45.6zM120.2 311.6h34.2v14.5h-34.2zM427.7 311.6h11.4v14.5h-11.4zM553.0 311.6h45.6v14.5h-45.6zM86.0 326.1h11.4v14.5h-11.4zM234.1 326.1h11.4v14.5h-11.4zM313.8 326.1h11.4v14.5h-11.4zM473.3 326.1h22.8v14.5h-22.8zM507.4 326.1h11.4v14.5h-11.4zM553.0 326.1h34.2v14.5h-34.2zM143.0 340.6h11.4v14.5h-11.4zM245.5 340.6h11.4v14.5h-11.4zM439.1 340.6h11.4v14.5h-11.4zM473.3 340.6h11.4v14.5h-11.4zM507.4 340.6h45.6v14.5h-45.6zM564.4 340.6h11.4v14.5h-11.4zM587.2 340.6h11.4v14.5h-11.4zM97.4 355.2h11.4v14.5h-11.4zM131.6 355.2h11.4v14.5h-11.4zM393.5 355.2h11.4v14.5h-11.4zM439.1 355.2h11.4v14.5h-11.4zM473.3 355.2h11.4v14.5h-11.4zM507.4 355.2h11.4v14.5h-11.4zM587.2 355.2h11.4v14.5h-11.4zM165.7 369.7h22.8v14.5h-22.8zM404.9 369.7h11.4v14.5h-11.4zM530.2 369.7h11.4v14.5h-11.4zM564.4 369.7h11.4v14.5h-11.4zM587.2 369.7h11.4v14.5h-11.4zM609.9 369.7h22.8v14.5h-22.8zM154.3 384.2h11.4v14.5h-11.4zM245.5 384.2h22.8v14.5h-22.8zM393.5 384.2h11.4v14.5h-11.4zM507.4 384.2h22.8v14.5h-22.8zM541.6 384.2h22.8v14.5h-22.8zM598.5 384.2h34.2v14.5h-34.2zM154.3 398.8h11.4v14.5h-11.4zM211.3 398.8h11.4v14.5h-11.4zM382.1 398.8h11.4v14.5h-11.4zM416.3 398.8h34.2v14.5h-34.2zM484.7 398.8h34.2v14.5h-34.2zM575.8 398.8h11.4v14.5h-11.4zM598.5 398.8h11.4v14.5h-11.4zM279.6 413.3h11.4v14.5h-11.4zM370.8 413.3h11.4v14.5h-11.4zM484.7 413.3h11.4v14.5h-11.4zM507.4 413.3h34.2v14.5h-34.2zM587.2 413.3h22.8v14.5h-22.8zM279.6 427.8h11.4v14.5h-11.4zM370.8 427.8h11.4v14.5h-11.4zM461.9 427.8h11.4v14.5h-11.4zM496.0 427.8h11.4v14.5h-11.4zM553.0 427.8h11.4v14.5h-11.4zM370.8 442.3h11.4v14.5h-11.4zM518.8 442.3h11.4v14.5h-11.4zM564.4 442.3h11.4v14.5h-11.4zM416.3 456.9h11.4v14.5h-11.4zM564.4 456.9h11.4v14.5h-11.4zM587.2 456.9h11.4v14.5h-11.4zM359.4 471.4h22.8v14.5h-22.8zM530.2 471.4h11.4v14.5h-11.4zM587.2 471.4h11.4v14.5h-11.4zM325.2 485.9h11.4v14.5h-11.4zM370.8 485.9h11.4v14.5h-11.4zM553.0 485.9h11.4v14.5h-11.4zM348.0 500.5h11.4v14.5h-11.4zM518.8 500.5h11.4v14.5h-11.4zM439.1 515.0h11.4v14.5h-11.4zM461.9 515.0h11.4v14.5h-11.4zM496.0 515.0h11.4v14.5h-11.4zM461.9 573.1h11.4v14.5h-11.4z"/>
<path fill="#734C00" d="M211.3 93.6h11.4v14.5h-11.4zM541.6 93.6h11.4v14.5h-11.4zM199.9 108.1h11.4v14.5h-11.4zM143.0 122.7h11.4v14.5h-11.4zM621.3 122.7h11.4v14.5h-11.4zM712.5 122.7h11.4v14.5h-11.4zM564.4 137.2h11.4v14.5h-11.4zM621.3 137.2h11.4v14.5h-11.4zM211.3 151.7h11.4v14.5h-11.4zM541.6 151.7h11.4v14.5h-11.4zM678.3 151.7h11.4v14.5h-11.4zM644.1 166.3h22.8v14.5h-22.8zM188.5 180.8h11.4v14.5h-11.4zM518.8 180.8h11.4v14.5h-11.4zM541.6 180.8h11.4v14.5h-11.4zM598.5 180.8h11.4v14.5h-11.4zM632.7 180.8h11.4v14.5h-11.4zM666.9 180.8h11.4v14.5h-11.4zM530.2 195.3h11.4v14.5h-11.4zM575.8 195.3h11.4v14.5h-11.4zM632.7 195.3h11.4v14.5h-11.4zM199.9 209.9h11.4v14.5h-11.4zM518.8 209.9h11.4v14.5h-11.4zM587.2 209.9h11.4v14.5h-11.4zM621.3 209.9h22.8v14.5h-22.8zM541.6 224.4h11.4v14.5h-11.4zM564.4 224.4h11.4v14.5h-11.4zM621.3 224.4h11.4v14.5h-11.4zM484.7 238.9h11.4v14.5h-11.4zM530.2 238.9h11.4v14.5h-11.4zM553.0 238.9h11.4v14.5h-11.4zM74.6 253.4h11.4v14.5h-11.4zM188.5 253.4h11.4v14.5h-11.4zM211.3 253.4h22.8v14.5h-22.8zM313.8 253.4h11.4v14.5h-11.4zM74.6 268.0h57.0v14.5h-57.0zM143.0 268.0h45.6v14.5h-45.6zM279.6 268.0h11.4v14.5h-11.4zM416.3 268.0h11.4v14.5h-11.4zM63.2 282.5h68.3v14.5h-68.3zM165.7 282.5h11.4v14.5h-11.4zM188.5 282.5h45.6v14.5h-45.6zM302.4 282.5h11.4v14.5h-11.4zM336.6 282.5h11.4v14.5h-11.4zM439.1 282.5h11.4v14.5h-11.4zM108.8 297.0h11.4v14.5h-11.4zM143.0 297.0h79.7v14.5h-79.7zM234.1 297.0h22.8v14.5h-22.8zM348.0 297.0h22.8v14.5h-22.8zM382.1 297.0h11.4v14.5h-11.4zM86.0 311.6h34.2v14.5h-34.2zM154.3 311.6h79.7v14.5h-79.7zM302.4 311.6h34.2v14.5h-34.2zM370.8 311.6h11.4v14.5h-11.4zM74.6 326.1h11.4v14.5h-11.4zM97.4 326.1h113.9v14.5h-113.9zM496.0 326.1h11.4v14.5h-11.4zM63.2 340.6h34.2v14.5h-34.2zM108.8 340.6h34.2v14.5h-34.2zM154.3 340.6h68.3v14.5h-68.3zM496.0 340.6h11.4v14.5h-11.4zM575.8 340.6h11.4v14.5h-11.4zM108.8 355.2h22.8v14.5h-22.8zM143.0 355.2h79.7v14.5h-79.7zM404.9 355.2h11.4v14.5h-11.4zM450.5 355.2h11.4v14.5h-11.4zM484.7 355.2h22.8v14.5h-22.8zM518.8 355.2h11.4v14.5h-11.4zM575.8 355.2h11.4v14.5h-11.4zM131.6 369.7h22.8v14.5h-22.8zM199.9 369.7h11.4v14.5h-11.4zM496.0 369.7h34.2v14.5h-34.2zM541.6 369.7h11.4v14.5h-11.4zM598.5 369.7h11.4v14.5h-11.4zM131.6 384.2h22.8v14.5h-22.8zM473.3 384.2h22.8v14.5h-22.8zM188.5 398.8h22.8v14.5h-22.8zM473.3 398.8h11.4v14.5h-11.4zM518.8 398.8h45.6v14.5h-45.6zM587.2 398.8h11.4v14.5h-11.4zM211.3 413.3h11.4v14.5h-11.4zM348.0 413.3h11.4v14.5h-11.4zM473.3 413.3h11.4v14.5h-11.4zM541.6 413.3h22.8v14.5h-22.8zM336.6 427.8h11.4v14.5h-11.4zM473.3 427.8h11.4v14.5h-11.4zM348.0 442.3h11.4v14.5h-11.4zM416.3 442.3h11.4v14.5h-11.4zM325.2 456.9h11.4v14.5h-11.4zM530.2 456.9h11.4v14.5h-11.4zM507.4 471.4h11.4v14.5h-11.4zM359.4 485.9h11.4v14.5h-11.4zM382.1 485.9h22.8v14.5h-22.8zM541.6 485.9h11.4v14.5h-11.4zM416.3 500.5h22.8v14.5h-22.8zM507.4 500.5h11.4v14.5h-11.4zM530.2 500.5h11.4v14.5h-11.4zM450.5 515.0h11.4v14.5h-11.4zM439.1 529.5h22.8v14.5h-22.8zM473.3 529.5h11.4v14.5h-11.4zM450.5 573.1h11.4v14.5h-11.4z"/>
<path fill="none" stroke="#7d7d7d" stroke-width="0.75" vector-effect="non-scaling-stroke" d="M17.66 15.0v600M29.05 15.0v600M40.44 15.0v600M51.83 15.0v600M63.22 15.0v600M74.61 15.0v600M86.00 15.0v600M97.39 15.0v600M108.78 15.0v600M120.17 15.0v600M131.56 15.0v600M142.95 15.0v600M154.34 15.0v600M165.73 15.0v600M177.12 15.0v600M188.51 15.0v600M199.90 15.0v600M211.29 15.0v600M222.68 15.0v600M234.07 15.0v600M245.46 15.0v600M256.85 15.0v600M268.24 15.0v600M279.63 15.0v600M291.02 15.0v600M302.41 15.0v600M313.80 15.0v600M325.19 15.0v600M336.58 15.0v600M347.97 15.0v600M359.36 15.0v600M370.75 15.0v600M382.14 15.0v600M393.53 15.0v600M404.92 15.0v600M416.31 15.0v600M427.70 15.0v600M439.09 15.0v600M450.48 15.0v600M461.87 15.0v600M473.26 15.0v600M484.65 15.0v600M496.04 15.0v600M507.43 15.0v600M518.82 15.0v600M530.21 15.0v600M541.60 15.0v600M552.99 15.0v600M564.38 15.0v600M575.77 15.0v600M587.16 15.0v600M598.55 15.0v600M609.94 15.0v600M621.33 15.0v600M632.72 15.0v600M644.11 15.0v600M655.50 15.0v600M666.89 15.0v600M678.28 15.0v600M689.67 15.0v600M701.06 15.0v600M712.45 15.0v600M723.84 15.0v600M735.23 15.0v600M746.62 15.0v600M758.01 15.0v600M769.40 15.0v600M780.79 15.0v600M792.18 15.0v600M803.57 15.0v600M814.96 15.0v600M826.35 15.0v600M837.74 15.0v600M17 20.97h816M17 35.50h816M17 50.03h816M17 64.56h816M17 79.09h816M17 93.62h816M17 108.15h816M17 122.68h816M17 137.21h816M17 151.74h816M17 166.27h816M17 180.80h816M17 195.33h816M17 209.86h816M17 224.39h816M17 238.92h816M17 253.45h816M17 267.98h816M17 282.51h816M17 297.04h816M17 311.57h816M17 326.10h816M17 340.63h816M17 355.16h816M17 369.69h816M17 384.22h816M17 398.75h816M17 413.28h816M17 427.81h816M17 442.34h816M17 456.87h816M17 471.40h816M17 485.93h816M17 500.46h816M17 514.99h816M17 529.52h816M17 544.05h816M17 558.58h816M17 573.11h816M17 587.64h816M17 602.17h816M17 616.70h816"/>
</g>
<path fill="none" stroke="#000" stroke-width="1.1" stroke-linejoin="round" d="M28.6 185.6 L32.1 182.2 L30.3 177.0 L37.2 173.0 L40.7 167.8 L52.7 165.0 L61.9 165.5 L62.5 170.7 L70.5 172.4 L79.7 165.0 L86.0 164.4 L93.5 162.1 L100.4 164.4 L114.2 161.5 L123.4 158.0 L125.6 150.0 L127.0 149.8 L134.5 143.5 L136.5 131.0 L132.5 115.5 L153.2 115.5 L160.8 117.2 L164.5 107.2 L176.2 91.0 L182.0 94.0 L200.8 98.0 L204.5 93.5 L208.2 81.0 L220.8 78.0 L222.5 72.2 L234.0 72.2 L234.5 79.8 L243.2 93.5 L253.2 98.5 L258.2 113.5 L257.0 126.0 L253.2 136.0 L255.8 143.5 L277.0 148.5 L292.0 161.0 L302.0 166.0 L308.2 186.0 L315.0 192.5 L320.5 191.5 L338.0 196.0 L359.2 199.0 L370.5 201.0 L374.2 208.5 L388.0 213.5 L403.0 216.0 L405.5 219.8 L415.5 214.8 L430.5 209.8 L448.0 208.5 L463.0 206.0 L473.0 199.8 L485.5 191.0 L490.5 183.5 L484.2 174.8 L491.8 164.8 L508.0 168.5 L520.5 158.5 L533.0 154.8 L543.0 143.5 L555.5 136.0 L575.5 131.0 L576.8 127.2 L565.5 117.2 L550.5 114.8 L535.5 119.8 L528.0 117.2 L531.8 104.8 L539.2 87.2 L549.2 89.8 L563.0 78.5 L565.5 68.5 L574.2 51.0 L575.5 42.2 L569.2 38.5 L575.5 28.5 L590.5 23.0 L602.5 21.0 L617.5 23.0 L626.2 27.2 L633.8 39.8 L640.0 49.8 L643.8 58.5 L651.2 72.2 L660.0 74.8 L672.5 77.2 L685.0 81.0 L692.5 93.5 L696.2 97.2 L710.0 93.5 L721.2 83.5 L735.0 77.2 L732.5 87.2 L730.0 96.0 L731.2 111.0 L726.2 121.0 L725.0 132.2 L712.5 134.8 L706.2 142.2 L710.0 152.2 L712.6 165.0 L711.9 173.3 L707.0 177.0 L708.5 182.6 L705.5 179.3 L701.8 175.5 L698.0 175.9 L697.6 183.8 L693.5 186.8 L692.0 191.3 L680.0 195.0 L681.5 199.5 L684.1 201.8 L683.0 205.5 L676.3 205.9 L670.3 204.8 L667.3 201.4 L664.3 204.8 L662.0 211.5 L660.0 216.0 L657.5 218.5 L653.0 223.0 L644.0 231.0 L640.0 236.0 L630.0 240.0 L622.0 245.0 L616.0 252.0 L612.0 255.0 L606.0 260.0 L604.5 257.5 L610.0 254.0 L610.0 249.0 L607.5 245.0 L609.0 240.0 L612.5 235.0 L615.5 229.5 L611.0 223.5 L609.0 221.5 L602.0 225.0 L599.0 230.0 L594.0 236.0 L587.0 241.0 L582.0 247.0 L579.5 253.0 L573.0 256.0 L566.0 257.0 L562.5 262.0 L562.0 266.0 L565.0 272.0 L570.0 275.0 L577.0 273.5 L580.0 277.0 L580.0 285.0 L585.0 288.5 L591.0 287.0 L595.0 281.0 L602.0 275.5 L610.0 279.0 L620.0 278.5 L627.0 279.5 L626.0 287.0 L620.0 286.0 L612.0 291.0 L606.0 295.5 L604.0 300.0 L599.5 304.0 L593.6 310.8 L590.7 316.7 L587.2 323.6 L589.7 328.0 L602.5 332.5 L607.4 342.3 L613.3 354.1 L614.3 359.0 L620.2 363.0 L621.2 367.9 L627.0 368.9 L629.0 374.8 L625.0 378.7 L630.0 384.6 L625.0 388.6 L619.2 391.5 L616.3 396.4 L609.4 398.4 L614.3 399.4 L621.2 397.4 L626.0 397.0 L633.0 402.4 L633.0 408.3 L630.5 411.5 L631.1 426.4 L623.0 431.0 L619.6 440.2 L615.0 448.2 L609.2 455.1 L606.9 464.3 L606.4 473.5 L598.9 481.5 L594.3 489.6 L586.3 494.2 L580.5 503.4 L574.8 509.1 L566.7 514.8 L558.7 521.7 L549.5 524.0 L539.2 526.3 L530.0 531.5 L526.7 532.7 L522.0 526.8 L519.7 522.2 L518.5 529.2 L515.0 535.0 L505.7 542.0 L494.0 544.9 L482.3 547.8 L476.5 546.7 L475.3 552.5 L470.7 554.8 L473.6 559.5 L475.9 563.6 L468.3 566.5 L466.0 563.0 L463.1 554.8 L466.0 547.8 L461.3 544.3 L455.5 546.1 L446.2 541.4 L440.3 545.5 L429.8 543.2 L425.0 540.5 L421.7 538.5 L418.2 531.5 L418.7 526.7 L413.3 523.3 L402.7 517.3 L396.0 516.0 L386.7 521.3 L377.3 527.3 L370.7 523.3 L362.7 527.3 L354.7 523.3 L345.3 525.3 L342.0 529.3 L344.7 538.7 L344.0 546.7 L336.0 545.3 L333.3 537.3 L319.3 538.7 L316.0 530.7 L306.0 528.0 L312.0 514.7 L304.7 510.7 L302.0 501.3 L304.0 496.7 L289.5 496.8 L285.4 496.8 L288.3 493.3 L286.0 488.7 L288.3 484.0 L290.7 477.0 L297.7 470.6 L302.5 468.0 L308.8 458.0 L310.0 444.2 L305.0 439.2 L302.5 429.2 L300.0 427.4 L295.3 423.9 L291.8 426.8 L290.7 432.7 L286.6 434.4 L276.7 427.4 L267.3 423.9 L256.8 428.6 L245.2 432.7 L238.2 439.1 L228.8 440.2 L219.5 437.9 L214.2 436.2 L214.8 429.8 L211.3 426.8 L210.2 419.8 L203.2 417.5 L193.8 414.0 L184.5 410.5 L176.3 416.3 L172.2 422.2 L169.9 419.2 L171.7 411.7 L168.2 409.3 L160.0 411.1 L156.7 409.5 L147.3 407.8 L140.3 402.5 L133.3 402.5 L131.0 396.7 L124.0 393.8 L122.8 389.7 L114.7 382.7 L112.3 376.8 L105.3 373.3 L103.0 367.5 L94.8 360.5 L90.2 352.3 L82.0 348.2 L76.2 351.8 L71.5 343.0 L65.1 338.3 L61.0 330.2 L54.6 327.2 L52.2 320.8 L54.6 313.8 L52.2 308.6 L53.4 302.2 L58.1 301.6 L59.2 307.4 L64.5 304.5 L65.1 295.2 L62.8 288.2 L64.5 280.0 L64.8 279.8 L69.4 277.5 L63.6 271.7 L61.9 264.8 L63.6 255.1 L57.9 253.4 L49.9 248.8 L47.6 243.0 L41.8 238.4 L44.1 230.4 L40.1 224.6 L37.2 220.0 L29.8 216.0 L30.3 213.2 L37.2 212.0 L38.9 205.1 L40.7 195.4 L31.5 189.6Z M456.7 573.5 L462.5 570.6 L471.8 569.4 L480.0 568.8 L483.5 572.3 L482.9 577.0 L477.7 584.0 L473.0 592.2 L466.0 596.8 L461.3 599.2 L452.0 595.1 L447.9 589.8 L447.9 581.7 L452.0 577.0Z M635.7 476.4 L642.0 479.2 L640.8 488.4 L639.1 503.4 L636.8 514.8 L632.2 524.0 L630.5 530.9 L627.6 525.2 L620.7 517.1 L617.9 506.8 L620.7 497.6 L625.3 488.4 L628.8 480.4Z"/>
<path fill="none" stroke="#000" stroke-width="0.9" stroke-linejoin="round" d="M70.8 274.5 L89.5 266.5 L102.0 271.5 L117.0 269.0 L127.0 275.2 L142.0 279.0 L167.0 275.2 L192.0 274.0 L209.5 282.8 L227.0 287.8 L233.2 271.5 L228.2 265.2 L232.0 257.8 L223.2 249.0 L240.0 246.2 L267.5 241.2 L282.5 245.0 L292.5 253.8 L307.5 261.2 L310.0 250.0 L322.5 255.0 L335.0 261.2 L345.0 270.0 L360.0 277.5 L372.5 287.5 L377.5 302.5 L375.0 315.0 L365.0 325.0 L362.5 335.0 L352.5 340.0 L348.8 337.5 L360.0 347.5 L357.5 353.8 L350.0 355.0 L345.0 362.5 L332.5 357.5 L322.5 350.0 L317.5 338.8 L305.0 337.5 L302.5 350.0 L310.0 365.0 L316.2 380.0 L317.5 400.0 L316.2 415.0 L310.0 427.5 L305.0 439.0 M362.5 335.0 L365.0 340.0 L375.0 336.2 L385.0 347.5 L393.8 355.0 L400.0 363.8 L415.0 363.8 L430.0 368.8 L440.0 375.0 L460.0 377.5 L462.5 385.0 L470.0 390.0 L468.8 397.5 L450.0 401.2 L447.5 412.5 L450.0 410.5 L447.5 423.0 L457.5 430.5 L460.0 448.0 L457.5 463.0 L450.0 480.5 L440.0 486.8 L427.5 483.0 L417.5 488.0 L405.0 490.5 L395.0 488.0 L387.5 494.2 L395.0 498.0 L410.0 503.0 L411.2 510.5 L405.0 516.8 M528.0 209.0 L518.0 216.5 L520.5 234.0 L521.8 251.5 L513.0 264.0 L513.0 274.0 L519.2 286.5 L516.8 301.5 L508.0 319.0 L488.0 327.8 L473.0 334.0 L477.5 347.5 L472.5 357.5 L462.5 358.8 L470.0 367.5 L462.5 370.0 L462.0 377.5 M633.8 56.0 L627.5 78.5 L620.0 101.0 L605.0 117.2 L615.0 126.0 L610.0 138.5 L598.8 143.5 L603.8 156.0 L610.0 168.5 L622.5 171.0 L626.2 183.5 L617.5 193.5 L602.5 201.0 L587.5 211.0 L577.5 204.8 L565.0 211.0 L555.0 203.5 L545.0 211.0 L536.0 213.0 L528.0 209.0 M583.8 28.5 L582.5 38.5 L593.8 41.0 L600.0 53.5 L610.0 56.0 L622.5 48.5 L630.0 53.5 L633.8 58.5"/>
<path fill="none" stroke="#000" stroke-width="1.7" stroke-linejoin="round" d="M657.5 218.5 L653.0 223.0 L644.0 231.0 L640.0 236.0 L630.0 240.0 L622.0 245.0 L616.0 252.0 L612.0 255.0 L606.0 260.0 L604.5 257.5 L610.0 254.0 L610.0 249.0 L607.5 245.0 L609.0 240.0 L612.5 235.0 L615.5 229.5 L611.0 223.5 L609.0 221.5 L602.0 225.0 L599.0 230.0 L594.0 236.0 L587.0 241.0 L582.0 247.0 L579.5 253.0 L573.0 256.0 L566.0 257.0 L562.5 262.0 L562.0 266.0 L565.0 272.0 L570.0 275.0 L577.0 273.5 L580.0 277.0 L580.0 285.0 L585.0 288.5 L591.0 287.0 L595.0 281.0 L602.0 275.5 L610.0 279.0 L620.0 278.5 L627.0 279.5 L626.0 287.0 L620.0 286.0 L612.0 291.0 L606.0 295.5 L604.0 300.0 L599.5 304.0 L593.6 310.8 L590.7 316.7 L587.2 323.6 L589.7 328.0 L602.5 332.5 L607.4 342.3 L613.3 354.1 L614.3 359.0 L620.2 363.0 L621.2 367.9 L627.0 368.9 L629.0 374.8 L625.0 378.7 L630.0 384.6 L625.0 388.6 L619.2 391.5 L616.3 396.4 L609.4 398.4 L614.3 399.4 L621.2 397.4 L626.0 397.0 L633.0 402.4 L633.0 408.3 L630.5 411.5 L631.1 426.4 L623.0 431.0 L619.6 440.2 L615.0 448.2 L609.2 455.1 L606.9 464.3 L606.4 473.5 L598.9 481.5 L594.3 489.6 L586.3 494.2 L580.5 503.4 L574.8 509.1 L566.7 514.8 L558.7 521.7 L549.5 524.0 L539.2 526.3 L530.0 531.5 L526.7 532.7 L522.0 526.8 L519.7 522.2 L518.5 529.2 L515.0 535.0 L505.7 542.0 L494.0 544.9 L482.3 547.8 L476.5 546.7 L475.3 552.5 L470.7 554.8 L473.6 559.5 L475.9 563.6 L468.3 566.5 L466.0 563.0 L463.1 554.8 L466.0 547.8 L461.3 544.3 L455.5 546.1 L446.2 541.4 L440.3 545.5 L429.8 543.2 L425.0 540.5 M456.7 573.5 L462.5 570.6 L471.8 569.4 L480.0 568.8 L483.5 572.3 L482.9 577.0 L477.7 584.0 L473.0 592.2 L466.0 596.8 L461.3 599.2 L452.0 595.1 L447.9 589.8 L447.9 581.7 L452.0 577.0Z"/>
<line x1="655.00" y1="485.50" x2="653.75" y2="505.50" stroke="#666" stroke-width="0.90"/>
<line x1="646.25" y1="533.00" x2="636.25" y2="549.25" stroke="#666" stroke-width="0.90"/>
<line x1="620.00" y1="581.75" x2="613.75" y2="598.00" stroke="#666" stroke-width="0.90"/>
<path d="M732.40 307.00 L717.21 398.75 A93.00 93.00 0 0 0 732.40 400.00 Z" fill="#CB0404" stroke="#CB0404" stroke-width="0.30" stroke-linejoin="round"/>
<path d="M732.40 307.00 L732.40 400.00 A93.00 93.00 0 0 0 768.74 392.61 Z" fill="#ECC46C" stroke="#ECC46C" stroke-width="0.30" stroke-linejoin="round"/>
<path d="M732.40 307.00 L768.74 392.61 A93.00 93.00 0 0 0 782.23 385.52 Z" fill="#6EFFFF" stroke="#6EFFFF" stroke-width="0.30" stroke-linejoin="round"/>
<path d="M732.40 307.00 L728.63 307.00 L680.43 384.13 A93.0 93.0 0 0 0 717.21 398.75 Z" fill="#5F73FF"/>
<line x1="732.40" y1="307.00" x2="717.13" y2="399.24" stroke="#fff" stroke-width="1.00"/>
<line x1="732.40" y1="307.00" x2="732.40" y2="400.50" stroke="#fff" stroke-width="0.70"/>
<line x1="732.40" y1="307.00" x2="768.93" y2="393.07" stroke="#fff" stroke-width="1.00"/>
<path d="M732.25 299.60 L778.61 380.22 A93.00 93.00 0 1 0 682.97 378.47 Z" fill="#4DB8FF" stroke="#4DB8FF" stroke-width="0.30" stroke-linejoin="round"/>
<text x="724.31" y="251.00" font-size="13.30" textLength="21.20" lengthAdjust="spacingAndGlyphs" fill="#000">TPL</text>
<text x="707.08" y="269.50" font-size="13.30" textLength="54.18" lengthAdjust="spacingAndGlyphs" fill="#000">83.18%</text>
<text x="652.21" y="405.80" font-size="13.60" textLength="24.32" lengthAdjust="spacingAndGlyphs" fill="#000">EPL</text>
<text x="642.58" y="423.70" font-size="13.60" textLength="45.03" lengthAdjust="spacingAndGlyphs" fill="#000">6.54%</text>
<text x="690.27" y="425.00" font-size="13.60" textLength="33.25" lengthAdjust="spacingAndGlyphs" fill="#000">YGPL</text>
<text x="689.21" y="443.00" font-size="13.60" textLength="45.10" lengthAdjust="spacingAndGlyphs" fill="#000">2.23%</text>
<text x="736.67" y="425.00" font-size="13.60" textLength="33.53" lengthAdjust="spacingAndGlyphs" fill="#000">IMXL</text>
<text x="736.94" y="443.00" font-size="13.60" textLength="44.86" lengthAdjust="spacingAndGlyphs" fill="#000">5.97%</text>
<text x="781.04" y="409.20" font-size="13.60" textLength="36.67" lengthAdjust="spacingAndGlyphs" fill="#000">NPML</text>
<text x="781.30" y="427.00" font-size="13.60" textLength="45.21" lengthAdjust="spacingAndGlyphs" fill="#000">2.08%</text>
<line x1="681.00" y1="385.30" x2="665.20" y2="391.30" stroke="#000" stroke-width="1.10"/>
<line x1="725.20" y1="400.00" x2="711.80" y2="410.80" stroke="#000" stroke-width="1.10"/>
<line x1="751.50" y1="398.30" x2="759.70" y2="410.30" stroke="#000" stroke-width="1.10"/>
<line x1="781.30" y1="386.70" x2="804.30" y2="395.00" stroke="#000" stroke-width="1.10"/>
<rect x="700.70" y="451.80" width="132" height="152.8" fill="#fff" stroke="none"/>
<clipPath id="ibcpa"><rect x="701.70" y="452.80" width="130.5" height="151.5"/></clipPath>
<g clip-path="url(#ibcpa)"><g transform="rotate(1.50 702 453.50) translate(534.750,258.812) scale(0.4250,0.4130)">
<use href="#cells_cpa"/>
<path fill="none" stroke="#8a8a8a" stroke-width="1.3" vector-effect="non-scaling-stroke" stroke-linejoin="round" d="M657.5 218.5 L653.0 223.0 L644.0 231.0 L640.0 236.0 L630.0 240.0 L622.0 245.0 L616.0 252.0 L612.0 255.0 L606.0 260.0 L604.5 257.5 L610.0 254.0 L610.0 249.0 L607.5 245.0 L609.0 240.0 L612.5 235.0 L615.5 229.5 L611.0 223.5 L609.0 221.5 L602.0 225.0 L599.0 230.0 L594.0 236.0 L587.0 241.0 L582.0 247.0 L579.5 253.0 L573.0 256.0 L566.0 257.0 L562.5 262.0 L562.0 266.0 L565.0 272.0 L570.0 275.0 L577.0 273.5 L580.0 277.0 L580.0 285.0 L585.0 288.5 L591.0 287.0 L595.0 281.0 L602.0 275.5 L610.0 279.0 L620.0 278.5 L627.0 279.5 L626.0 287.0 L620.0 286.0 L612.0 291.0 L606.0 295.5 L604.0 300.0 L599.5 304.0 L593.6 310.8 L590.7 316.7 L587.2 323.6 L589.7 328.0 L602.5 332.5 L607.4 342.3 L613.3 354.1 L614.3 359.0 L620.2 363.0 L621.2 367.9 L627.0 368.9 L629.0 374.8 L625.0 378.7 L630.0 384.6 L625.0 388.6 L619.2 391.5 L616.3 396.4 L609.4 398.4 L614.3 399.4 L621.2 397.4 L626.0 397.0 L633.0 402.4 L633.0 408.3 L630.5 411.5 L631.1 426.4 L623.0 431.0 L619.6 440.2 L615.0 448.2 L609.2 455.1 L606.9 464.3 L606.4 473.5 L598.9 481.5 L594.3 489.6 L586.3 494.2 L580.5 503.4 L574.8 509.1 L566.7 514.8 L558.7 521.7 L549.5 524.0 L539.2 526.3 L530.0 531.5 L526.7 532.7 L522.0 526.8 L519.7 522.2 L518.5 529.2 L515.0 535.0 L505.7 542.0 L494.0 544.9 L482.3 547.8 L476.5 546.7 L475.3 552.5 L470.7 554.8 L473.6 559.5 L475.9 563.6 L468.3 566.5 L466.0 563.0 L463.1 554.8 L466.0 547.8 L461.3 544.3 L455.5 546.1 L446.2 541.4 L440.3 545.5 L429.8 543.2 L425.0 540.5 L421.7 538.5 L418.2 531.5 L418.7 526.7 L413.3 523.3 L402.7 517.3 L396.0 516.0 L386.7 521.3 M456.7 573.5 L462.5 570.6 L471.8 569.4 L480.0 568.8 L483.5 572.3 L482.9 577.0 L477.7 584.0 L473.0 592.2 L466.0 596.8 L461.3 599.2 L452.0 595.1 L447.9 589.8 L447.9 581.7 L452.0 577.0Z M635.7 476.4 L642.0 479.2 L640.8 488.4 L639.1 503.4 L636.8 514.8 L632.2 524.0 L630.5 530.9 L627.6 525.2 L620.7 517.1 L617.9 506.8 L620.7 497.6 L625.3 488.4 L628.8 480.4Z"/>
</g></g>
<line x1="813.10" y1="454.30" x2="813.10" y2="462.80" stroke="#000" stroke-width="2.00" stroke-linecap="round"/>
<line x1="810.40" y1="474.90" x2="807.00" y2="481.70" stroke="#000" stroke-width="2.00" stroke-linecap="round"/>
<line x1="799.90" y1="496.50" x2="798.30" y2="504.50" stroke="#000" stroke-width="2.00" stroke-linecap="round"/>
<line x1="796.90" y1="515.30" x2="798.30" y2="523.40" stroke="#000" stroke-width="2.00" stroke-linecap="round"/>
<line x1="800.30" y1="541.60" x2="798.30" y2="549.60" stroke="#000" stroke-width="2.00" stroke-linecap="round"/>
<line x1="783.50" y1="570.50" x2="779.40" y2="575.20" stroke="#000" stroke-width="2.00" stroke-linecap="round"/>
<line x1="731.70" y1="520.70" x2="735.70" y2="527.40" stroke="#000" stroke-width="2.00" stroke-linecap="round"/>
<line x1="740.10" y1="544.90" x2="738.80" y2="553.70" stroke="#000" stroke-width="2.00" stroke-linecap="round"/>
<line x1="725.90" y1="579.20" x2="726.70" y2="587.30" stroke="#000" stroke-width="2.00" stroke-linecap="round"/>
<line x1="754.50" y1="602.10" x2="761.90" y2="598.80" stroke="#000" stroke-width="2.00" stroke-linecap="round"/>
<path fill="#000" d="M755.2 496.9h1.7v1.4h-1.7zM761.0 498.8h1.7v1.4h-1.7zM782.1 515.6h1.7v1.4h-1.7zM790.2 522.7h1.7v1.4h-1.7zM774.7 532.4h1.7v1.4h-1.7zM750.0 519.0h1.7v1.4h-1.7zM754.7 518.2h1.7v1.4h-1.7zM750.6 519.3h1.7v1.4h-1.7zM747.3 518.6h1.7v1.4h-1.7zM751.8 521.1h1.7v1.4h-1.7zM746.4 516.7h1.7v1.4h-1.7zM746.4 521.3h1.7v1.4h-1.7zM752.4 514.4h1.7v1.4h-1.7zM755.3 522.7h1.7v1.4h-1.7zM752.0 519.5h1.7v1.4h-1.7zM747.1 514.1h1.7v1.4h-1.7zM750.8 514.5h1.7v1.4h-1.7zM744.2 563.4h1.7v1.4h-1.7zM762.6 570.6h1.7v1.4h-1.7zM768.6 563.0h1.7v1.4h-1.7zM774.2 555.1h1.7v1.4h-1.7zM800.8 556.2h1.7v1.4h-1.7zM774.8 553.0h1.7v1.4h-1.7zM747.5 574.0h1.7v1.4h-1.7zM764.7 564.1h1.7v1.4h-1.7zM796.5 542.1h1.7v1.4h-1.7zM754.7 570.8h1.7v1.4h-1.7zM791.4 542.8h1.7v1.4h-1.7zM776.8 555.9h1.7v1.4h-1.7zM739.6 583.0h1.7v1.4h-1.7zM774.9 552.0h1.7v1.4h-1.7zM736.6 579.6h1.7v1.4h-1.7zM748.0 571.3h1.7v1.4h-1.7zM751.1 565.2h1.7v1.4h-1.7zM768.3 558.2h1.7v1.4h-1.7zM745.9 579.7h1.7v1.4h-1.7zM780.1 562.2h1.7v1.4h-1.7zM747.5 577.7h1.7v1.4h-1.7zM768.0 568.5h1.7v1.4h-1.7zM745.8 576.2h1.7v1.4h-1.7zM752.9 560.4h1.7v1.4h-1.7zM743.3 569.9h1.7v1.4h-1.7zM769.5 559.9h1.7v1.4h-1.7zM791.4 552.4h1.7v1.4h-1.7zM782.0 547.4h1.7v1.4h-1.7zM793.2 548.0h1.7v1.4h-1.7zM751.2 579.8h1.7v1.4h-1.7zM754.5 578.6h1.7v1.4h-1.7zM770.3 553.6h1.7v1.4h-1.7zM745.7 571.2h1.7v1.4h-1.7zM773.8 563.8h1.7v1.4h-1.7zM768.1 555.1h1.7v1.4h-1.7zM772.0 552.7h1.7v1.4h-1.7zM773.8 564.0h1.7v1.4h-1.7zM758.8 564.1h1.7v1.4h-1.7zM734.7 575.6h1.7v1.4h-1.7zM735.9 573.0h1.7v1.4h-1.7zM764.5 559.1h1.7v1.4h-1.7zM794.5 555.8h1.7v1.4h-1.7zM777.6 551.9h1.7v1.4h-1.7zM732.3 583.4h1.7v1.4h-1.7zM783.4 549.5h1.7v1.4h-1.7zM773.0 564.0h1.7v1.4h-1.7zM762.2 560.7h1.7v1.4h-1.7zM771.4 569.5h1.7v1.4h-1.7zM781.9 562.4h1.7v1.4h-1.7zM787.1 555.6h1.7v1.4h-1.7zM793.5 551.2h1.7v1.4h-1.7zM787.1 557.0h1.7v1.4h-1.7zM771.0 561.6h1.7v1.4h-1.7zM765.8 563.1h1.7v1.4h-1.7zM798.9 554.3h1.7v1.4h-1.7zM766.9 559.3h1.7v1.4h-1.7zM768.8 555.2h1.7v1.4h-1.7zM771.4 550.2h1.7v1.4h-1.7zM770.5 549.4h1.7v1.4h-1.7zM769.0 555.7h1.7v1.4h-1.7zM765.3 558.8h1.7v1.4h-1.7zM768.0 557.6h1.7v1.4h-1.7zM772.2 552.6h1.7v1.4h-1.7zM763.1 553.2h1.7v1.4h-1.7zM769.8 551.8h1.7v1.4h-1.7zM764.7 561.7h1.7v1.4h-1.7zM769.6 555.2h1.7v1.4h-1.7zM771.9 553.6h1.7v1.4h-1.7zM769.7 551.8h1.7v1.4h-1.7zM767.3 560.3h1.7v1.4h-1.7zM772.1 561.3h1.7v1.4h-1.7zM766.8 557.2h1.7v1.4h-1.7zM766.2 550.9h1.7v1.4h-1.7z"/>
<ellipse cx="766" cy="520.7" rx="3.6" ry="1.7" transform="rotate(-28 766 520.7)" fill="none" stroke="#000" stroke-width="1.1"/>
<path d="M757 590.5 l2 -5 l1.5 5 l2 1z M756 598.0 l6 -2" fill="#000" stroke="#000" stroke-width="1"/>
<path d="M700.70 604.50V451.90H832.5" fill="none" stroke="#000" stroke-width="2.60"/>
<rect x="17.25" y="15.80" width="815.25" height="588.80" fill="none" stroke="#000" stroke-width="2.6"/>
<line x1="52.70" y1="10.00" x2="52.70" y2="15.00" stroke="#000" stroke-width="1.40"/>
<line x1="164.70" y1="10.00" x2="164.70" y2="15.00" stroke="#000" stroke-width="1.40"/>
<line x1="269.30" y1="10.00" x2="269.30" y2="15.00" stroke="#000" stroke-width="1.40"/>
<line x1="370.00" y1="10.00" x2="370.00" y2="15.00" stroke="#000" stroke-width="1.40"/>
<line x1="467.70" y1="10.00" x2="467.70" y2="15.00" stroke="#000" stroke-width="1.40"/>
<line x1="566.30" y1="10.00" x2="566.30" y2="15.00" stroke="#000" stroke-width="1.40"/>
<line x1="667.00" y1="10.00" x2="667.00" y2="15.00" stroke="#000" stroke-width="1.40"/>
<line x1="772.00" y1="10.00" x2="772.00" y2="15.00" stroke="#000" stroke-width="1.40"/>
<text x="36.07" y="10.20" font-size="13.20" textLength="33.97" lengthAdjust="spacingAndGlyphs" fill="#000">70°E</text>
<text x="148.18" y="10.20" font-size="13.20" textLength="33.97" lengthAdjust="spacingAndGlyphs" fill="#000">80°E</text>
<text x="252.81" y="10.20" font-size="13.20" textLength="33.97" lengthAdjust="spacingAndGlyphs" fill="#000">90°E</text>
<text x="348.71" y="10.20" font-size="13.20" textLength="42.96" lengthAdjust="spacingAndGlyphs" fill="#000">100°E</text>
<text x="446.41" y="10.20" font-size="13.20" textLength="42.96" lengthAdjust="spacingAndGlyphs" fill="#000">110°E</text>
<text x="545.01" y="10.20" font-size="13.20" textLength="42.96" lengthAdjust="spacingAndGlyphs" fill="#000">120°E</text>
<text x="645.71" y="10.20" font-size="13.20" textLength="42.96" lengthAdjust="spacingAndGlyphs" fill="#000">130°E</text>
<text x="750.71" y="10.20" font-size="13.20" textLength="42.96" lengthAdjust="spacingAndGlyphs" fill="#000">140°E</text>
<line x1="149.00" y1="605.00" x2="149.00" y2="611.00" stroke="#000" stroke-width="1.40"/>
<line x1="310.30" y1="605.00" x2="310.30" y2="611.00" stroke="#000" stroke-width="1.40"/>
<line x1="467.80" y1="605.00" x2="467.80" y2="611.00" stroke="#000" stroke-width="1.40"/>
<line x1="626.30" y1="605.00" x2="626.30" y2="611.00" stroke="#000" stroke-width="1.40"/>
<line x1="787.60" y1="605.00" x2="787.60" y2="611.00" stroke="#000" stroke-width="1.40"/>
<line x1="10.50" y1="159.20" x2="16.50" y2="159.20" stroke="#000" stroke-width="1.40"/>
<text transform="translate(11.40,176.22) rotate(-90)" font-size="13.20" textLength="34.74" lengthAdjust="spacingAndGlyphs">40°N</text>
<line x1="10.50" y1="332.80" x2="16.50" y2="332.80" stroke="#000" stroke-width="1.40"/>
<text transform="translate(11.40,350.25) rotate(-90)" font-size="13.20" textLength="35.18" lengthAdjust="spacingAndGlyphs">30°N</text>
<line x1="10.50" y1="502.00" x2="16.50" y2="502.00" stroke="#000" stroke-width="1.40"/>
<text transform="translate(11.40,519.37) rotate(-90)" font-size="13.20" textLength="35.11" lengthAdjust="spacingAndGlyphs">20°N</text>
<line x1="833.50" y1="20.00" x2="838.80" y2="20.00" stroke="#000" stroke-width="1.80"/>
<line x1="833.50" y1="190.00" x2="838.80" y2="190.00" stroke="#000" stroke-width="1.80"/>
<line x1="833.50" y1="360.25" x2="838.80" y2="360.25" stroke="#000" stroke-width="1.80"/>
<line x1="833.50" y1="526.40" x2="838.80" y2="526.40" stroke="#000" stroke-width="1.80"/>
<text x="25.50" y="52.00" font-size="39.00" textLength="25.31" lengthAdjust="spacingAndGlyphs" font-weight="bold" fill="#000">a</text>
<text x="339.44" y="96.30" font-size="27.40" textLength="137.61" lengthAdjust="spacingAndGlyphs" fill="#000">Year 2015</text>
<text x="211.57" y="232.70" font-size="22.90" textLength="61.43" lengthAdjust="spacingAndGlyphs" fill="#000">IMXL</text>
<text x="250.82" y="332.70" font-size="22.90" textLength="41.91" lengthAdjust="spacingAndGlyphs" fill="#000">TPL</text>
<text x="352.62" y="443.00" font-size="22.90" textLength="59.90" lengthAdjust="spacingAndGlyphs" fill="#000">YGPL</text>
<text x="520.72" y="353.50" font-size="22.90" textLength="43.08" lengthAdjust="spacingAndGlyphs" fill="#000">EPL</text>
<text x="631.49" y="139.25" font-size="22.90" textLength="66.04" lengthAdjust="spacingAndGlyphs" fill="#000">NPML</text>
<text x="20.75" y="441.10" font-size="17.60" textLength="150.99" lengthAdjust="spacingAndGlyphs" fill="#000">DOC stock (t C)</text>
<rect x="22.2" y="450.8" width="32.3" height="18.8" fill="#FFEBAF" stroke="#b4b4b4" stroke-width="0.8"/>
<rect x="22.2" y="476.3" width="32.3" height="18.8" fill="#FFD37F" stroke="#b4b4b4" stroke-width="0.8"/>
<rect x="22.2" y="501.8" width="32.3" height="18.8" fill="#FFAA00" stroke="#b4b4b4" stroke-width="0.8"/>
<rect x="22.2" y="527.3" width="32.3" height="18.8" fill="#E69800" stroke="#b4b4b4" stroke-width="0.8"/>
<rect x="22.2" y="552.8" width="32.3" height="18.8" fill="#A87000" stroke="#b4b4b4" stroke-width="0.8"/>
<rect x="22.2" y="578.3" width="32.3" height="18.8" fill="#734C00" stroke="#b4b4b4" stroke-width="0.8"/>
<text x="62.09" y="467.90" font-size="19.10" textLength="64.76" lengthAdjust="spacingAndGlyphs" fill="#000">(0, 59]</text>
<text x="62.09" y="493.30" font-size="19.10" textLength="89.54" lengthAdjust="spacingAndGlyphs" fill="#000">(59, 298]</text>
<text x="62.09" y="518.70" font-size="19.10" textLength="120.52" lengthAdjust="spacingAndGlyphs" fill="#000">(298, 1,039]</text>
<text x="62.09" y="544.10" font-size="19.10" textLength="139.11" lengthAdjust="spacingAndGlyphs" fill="#000">(1,039, 3,400]</text>
<text x="62.09" y="569.50" font-size="19.10" textLength="151.50" lengthAdjust="spacingAndGlyphs" fill="#000">(3,400, 13,072]</text>
<text x="62.09" y="594.90" font-size="19.10" textLength="194.87" lengthAdjust="spacingAndGlyphs" fill="#000">(13,072, 6,798,663]</text>
<path d="M287.3 583.3V594.4H388.7V583.3 M338.0 586.0V594.4" fill="none" stroke="#000" stroke-width="1.9"/>
<text x="282.27" y="577.50" font-size="15.80" textLength="10.08" lengthAdjust="spacingAndGlyphs" fill="#000">0</text>
<text x="322.78" y="577.50" font-size="15.80" textLength="30.95" lengthAdjust="spacingAndGlyphs" fill="#000">350</text>
<text x="373.40" y="577.50" font-size="15.80" textLength="30.93" lengthAdjust="spacingAndGlyphs" fill="#000">700</text>
<text x="411.72" y="577.50" font-size="15.80" textLength="27.24" lengthAdjust="spacingAndGlyphs" fill="#000">km</text>
<g transform="translate(0,0.00)" stroke="#000" fill="#fff" stroke-linejoin="round">
<path d="M800 100 L799 112.5 L803.2 111.3 L807.4 112.8 L806.4 100Z" stroke-width="1.3"/>
<path d="M785.3 87.2 L803 79 L820 86.7 L802 100.7Z" stroke-width="1.6"/>
<path d="M789.5 88.2 L802 97.6 L816 87.6 M792.5 87 L802 94.3 L812.5 86.6" fill="none" stroke-width="1.2" stroke-dasharray="1.3 1.5"/>
<path d="M786.2 79.5 L804 71.5 L821.4 79 L803.4 92.1Z" stroke-width="1.6"/>
<path d="M789.5 79.8 L803.4 90.2 L818 79.6 L815 78.6 L803.4 85.6 L792.5 78.6Z" fill="#111" stroke-width="0.6"/>
<path d="M786.2 71.4 L806 64.6 L821 71 L803.4 84Z" stroke-width="1.6"/>
<path d="M790.5 71.6 Q794 69.6 796 72.2 T800.5 74.6 Q803.8 75.2 803 78 T804.5 81.2 M808 67.6 Q806.2 70.4 809.4 71.8 T814.6 72 Q816.5 70.5 818 71.5 M797.5 68.8 Q800 70.8 803.5 69.8 T808 73.5 Q810 75.5 808 77.5 M793.5 73.6 Q796.5 75.8 799 75.2 M811 75 Q809.5 76.5 806.5 76.5" fill="none" stroke-width="1.05"/>
<path d="M803.4 47.5 L810.3 59.2 L806 59.2 L806 70 L800.3 70 L800.3 59.2 L795.7 59.2Z" stroke-width="1.3"/>
</g>
<text x="792.3" y="46.90" font-size="24.5" font-style="italic" textLength="19.6" lengthAdjust="spacingAndGlyphs" stroke="#000" stroke-width="0.45">N</text>
<clipPath id="cpc"><path d="M28.6 796.6 L32.1 793.2 L30.3 788.0 L37.2 784.0 L40.7 778.8 L52.7 776.0 L61.9 776.5 L62.5 781.7 L70.5 783.4 L79.7 776.0 L86.0 775.4 L93.5 773.1 L100.4 775.4 L114.2 772.5 L123.4 769.0 L125.6 761.0 L127.0 760.8 L134.5 754.5 L136.5 742.0 L132.5 726.5 L153.2 726.5 L160.8 728.2 L164.5 718.2 L176.2 702.0 L182.0 705.0 L200.8 709.0 L204.5 704.5 L208.2 692.0 L220.8 689.0 L222.5 683.2 L234.0 683.2 L234.5 690.8 L243.2 704.5 L253.2 709.5 L258.2 724.5 L257.0 737.0 L253.2 747.0 L255.8 754.5 L277.0 759.5 L292.0 772.0 L302.0 777.0 L308.2 797.0 L315.0 803.5 L320.5 802.5 L338.0 807.0 L359.2 810.0 L370.5 812.0 L374.2 819.5 L388.0 824.5 L403.0 827.0 L405.5 830.8 L415.5 825.8 L430.5 820.8 L448.0 819.5 L463.0 817.0 L473.0 810.8 L485.5 802.0 L490.5 794.5 L484.2 785.8 L491.8 775.8 L508.0 779.5 L520.5 769.5 L533.0 765.8 L543.0 754.5 L555.5 747.0 L575.5 742.0 L576.8 738.2 L565.5 728.2 L550.5 725.8 L535.5 730.8 L528.0 728.2 L531.8 715.8 L539.2 698.2 L549.2 700.8 L563.0 689.5 L565.5 679.5 L574.2 662.0 L575.5 653.2 L569.2 649.5 L575.5 639.5 L590.5 634.0 L602.5 632.0 L617.5 634.0 L626.2 638.2 L633.8 650.8 L640.0 660.8 L643.8 669.5 L651.2 683.2 L660.0 685.8 L672.5 688.2 L685.0 692.0 L692.5 704.5 L696.2 708.2 L710.0 704.5 L721.2 694.5 L735.0 688.2 L732.5 698.2 L730.0 707.0 L731.2 722.0 L726.2 732.0 L725.0 743.2 L712.5 745.8 L706.2 753.2 L710.0 763.2 L712.6 776.0 L711.9 784.3 L707.0 788.0 L708.5 793.6 L705.5 790.3 L701.8 786.5 L698.0 786.9 L697.6 794.8 L693.5 797.8 L692.0 802.3 L680.0 806.0 L681.5 810.5 L684.1 812.8 L683.0 816.5 L676.3 816.9 L670.3 815.8 L667.3 812.4 L664.3 815.8 L662.0 822.5 L660.0 827.0 L657.5 829.5 L653.0 834.0 L644.0 842.0 L640.0 847.0 L630.0 851.0 L622.0 856.0 L616.0 863.0 L612.0 866.0 L606.0 871.0 L604.5 868.5 L610.0 865.0 L610.0 860.0 L607.5 856.0 L609.0 851.0 L612.5 846.0 L615.5 840.5 L611.0 834.5 L609.0 832.5 L602.0 836.0 L599.0 841.0 L594.0 847.0 L587.0 852.0 L582.0 858.0 L579.5 864.0 L573.0 867.0 L566.0 868.0 L562.5 873.0 L562.0 877.0 L565.0 883.0 L570.0 886.0 L577.0 884.5 L580.0 888.0 L580.0 896.0 L585.0 899.5 L591.0 898.0 L595.0 892.0 L602.0 886.5 L610.0 890.0 L620.0 889.5 L627.0 890.5 L626.0 898.0 L620.0 897.0 L612.0 902.0 L606.0 906.5 L604.0 911.0 L599.5 915.0 L593.6 921.8 L590.7 927.7 L587.2 934.6 L589.7 939.0 L602.5 943.5 L607.4 953.3 L613.3 965.1 L614.3 970.0 L620.2 974.0 L621.2 978.9 L627.0 979.9 L629.0 985.8 L625.0 989.7 L630.0 995.6 L625.0 999.6 L619.2 1002.5 L616.3 1007.4 L609.4 1009.4 L614.3 1010.4 L621.2 1008.4 L626.0 1008.0 L633.0 1013.4 L633.0 1019.3 L630.5 1022.5 L631.1 1037.4 L623.0 1042.0 L619.6 1051.2 L615.0 1059.2 L609.2 1066.1 L606.9 1075.3 L606.4 1084.5 L598.9 1092.5 L594.3 1100.6 L586.3 1105.2 L580.5 1114.4 L574.8 1120.1 L566.7 1125.8 L558.7 1132.7 L549.5 1135.0 L539.2 1137.3 L530.0 1142.5 L526.7 1143.7 L522.0 1137.8 L519.7 1133.2 L518.5 1140.2 L515.0 1146.0 L505.7 1153.0 L494.0 1155.9 L482.3 1158.8 L476.5 1157.7 L475.3 1163.5 L470.7 1165.8 L473.6 1170.5 L475.9 1174.6 L468.3 1177.5 L466.0 1174.0 L463.1 1165.8 L466.0 1158.8 L461.3 1155.3 L455.5 1157.1 L446.2 1152.4 L440.3 1156.5 L429.8 1154.2 L425.0 1151.5 L421.7 1149.5 L418.2 1142.5 L418.7 1137.7 L413.3 1134.3 L402.7 1128.3 L396.0 1127.0 L386.7 1132.3 L377.3 1138.3 L370.7 1134.3 L362.7 1138.3 L354.7 1134.3 L345.3 1136.3 L342.0 1140.3 L344.7 1149.7 L344.0 1157.7 L336.0 1156.3 L333.3 1148.3 L319.3 1149.7 L316.0 1141.7 L306.0 1139.0 L312.0 1125.7 L304.7 1121.7 L302.0 1112.3 L304.0 1107.7 L289.5 1107.8 L285.4 1107.8 L288.3 1104.3 L286.0 1099.7 L288.3 1095.0 L290.7 1088.0 L297.7 1081.6 L302.5 1079.0 L308.8 1069.0 L310.0 1055.2 L305.0 1050.2 L302.5 1040.2 L300.0 1038.4 L295.3 1034.9 L291.8 1037.8 L290.7 1043.7 L286.6 1045.4 L276.7 1038.4 L267.3 1034.9 L256.8 1039.6 L245.2 1043.7 L238.2 1050.1 L228.8 1051.2 L219.5 1048.9 L214.2 1047.2 L214.8 1040.8 L211.3 1037.8 L210.2 1030.8 L203.2 1028.5 L193.8 1025.0 L184.5 1021.5 L176.3 1027.3 L172.2 1033.2 L169.9 1030.2 L171.7 1022.7 L168.2 1020.3 L160.0 1022.1 L156.7 1020.5 L147.3 1018.8 L140.3 1013.5 L133.3 1013.5 L131.0 1007.7 L124.0 1004.8 L122.8 1000.7 L114.7 993.7 L112.3 987.8 L105.3 984.3 L103.0 978.5 L94.8 971.5 L90.2 963.3 L82.0 959.2 L76.2 962.8 L71.5 954.0 L65.1 949.3 L61.0 941.2 L54.6 938.2 L52.2 931.8 L54.6 924.8 L52.2 919.6 L53.4 913.2 L58.1 912.6 L59.2 918.4 L64.5 915.5 L65.1 906.2 L62.8 899.2 L64.5 891.0 L64.8 890.8 L69.4 888.5 L63.6 882.7 L61.9 875.8 L63.6 866.1 L57.9 864.4 L49.9 859.8 L47.6 854.0 L41.8 849.4 L44.1 841.4 L40.1 835.6 L37.2 831.0 L29.8 827.0 L30.3 824.2 L37.2 823.0 L38.9 816.1 L40.7 806.4 L31.5 800.6Z M456.7 1184.5 L462.5 1181.6 L471.8 1180.4 L480.0 1179.8 L483.5 1183.3 L482.9 1188.0 L477.7 1195.0 L473.0 1203.2 L466.0 1207.8 L461.3 1210.2 L452.0 1206.1 L447.9 1200.8 L447.9 1192.7 L452.0 1188.0Z M635.7 1087.4 L642.0 1090.2 L640.8 1099.4 L639.1 1114.4 L636.8 1125.8 L632.2 1135.0 L630.5 1141.9 L627.6 1136.2 L620.7 1128.1 L617.9 1117.8 L620.7 1108.6 L625.3 1099.4 L628.8 1091.4Z"/></clipPath>
<g id="cells_cpc" clip-path="url(#cpc)">
<path fill="#D3FFBE" d="M587.2 661.0h11.4v14.5h-11.4zM609.9 675.6h11.4v14.5h-11.4zM165.7 690.1h22.8v14.5h-22.8zM199.9 690.1h11.4v14.5h-11.4zM609.9 690.1h11.4v14.5h-11.4zM655.5 690.1h11.4v14.5h-11.4zM165.7 704.6h11.4v14.5h-11.4zM188.5 704.6h11.4v14.5h-11.4zM575.8 704.6h11.4v14.5h-11.4zM712.5 704.6h11.4v14.5h-11.4zM143.0 719.1h34.2v14.5h-34.2zM234.1 719.1h11.4v14.5h-11.4zM666.9 719.1h11.4v14.5h-11.4zM165.7 733.7h11.4v14.5h-11.4zM143.0 748.2h34.2v14.5h-34.2zM222.7 748.2h11.4v14.5h-11.4zM678.3 748.2h11.4v14.5h-11.4zM177.1 762.7h22.8v14.5h-22.8zM234.1 762.7h22.8v14.5h-22.8zM279.6 762.7h22.8v14.5h-22.8zM29.1 777.3h11.4v14.5h-11.4zM86.0 777.3h11.4v14.5h-11.4zM120.2 777.3h11.4v14.5h-11.4zM154.3 777.3h22.8v14.5h-22.8zM188.5 777.3h11.4v14.5h-11.4zM222.7 777.3h22.8v14.5h-22.8zM256.9 777.3h11.4v14.5h-11.4zM496.0 777.3h11.4v14.5h-11.4zM131.6 791.8h11.4v14.5h-11.4zM245.5 791.8h22.8v14.5h-22.8zM279.6 791.8h11.4v14.5h-11.4zM177.1 806.3h11.4v14.5h-11.4zM484.7 806.3h11.4v14.5h-11.4zM74.6 820.9h11.4v14.5h-11.4zM268.2 820.9h11.4v14.5h-11.4zM439.1 820.9h11.4v14.5h-11.4zM461.9 820.9h22.8v14.5h-22.8zM108.8 835.4h11.4v14.5h-11.4zM165.7 835.4h11.4v14.5h-11.4zM279.6 835.4h22.8v14.5h-22.8zM336.6 835.4h22.8v14.5h-22.8zM416.3 835.4h11.4v14.5h-11.4zM51.8 849.9h11.4v14.5h-11.4zM108.8 849.9h34.2v14.5h-34.2zM222.7 849.9h22.8v14.5h-22.8zM256.9 849.9h11.4v14.5h-11.4zM291.0 849.9h22.8v14.5h-22.8zM359.4 849.9h11.4v14.5h-11.4zM461.9 849.9h11.4v14.5h-11.4zM51.8 864.5h11.4v14.5h-11.4zM108.8 864.5h11.4v14.5h-11.4zM154.3 864.5h22.8v14.5h-22.8zM279.6 864.5h22.8v14.5h-22.8zM325.2 864.5h22.8v14.5h-22.8zM416.3 864.5h22.8v14.5h-22.8zM484.7 864.5h11.4v14.5h-11.4zM211.3 879.0h11.4v14.5h-11.4zM234.1 879.0h11.4v14.5h-11.4zM291.0 879.0h11.4v14.5h-11.4zM348.0 879.0h11.4v14.5h-11.4zM404.9 879.0h11.4v14.5h-11.4zM461.9 879.0h11.4v14.5h-11.4zM530.2 879.0h22.8v14.5h-22.8zM234.1 893.5h11.4v14.5h-11.4zM268.2 893.5h11.4v14.5h-11.4zM359.4 893.5h11.4v14.5h-11.4zM382.1 893.5h11.4v14.5h-11.4zM416.3 893.5h11.4v14.5h-11.4zM473.3 893.5h11.4v14.5h-11.4zM51.8 908.0h22.8v14.5h-22.8zM86.0 908.0h11.4v14.5h-11.4zM325.2 908.0h11.4v14.5h-11.4zM393.5 908.0h11.4v14.5h-11.4zM439.1 908.0h11.4v14.5h-11.4zM461.9 908.0h11.4v14.5h-11.4zM530.2 908.0h11.4v14.5h-11.4zM51.8 922.6h22.8v14.5h-22.8zM268.2 922.6h22.8v14.5h-22.8zM439.1 922.6h11.4v14.5h-11.4zM256.9 937.1h22.8v14.5h-22.8zM348.0 937.1h22.8v14.5h-22.8zM256.9 951.6h11.4v14.5h-11.4zM291.0 951.6h11.4v14.5h-11.4zM313.8 951.6h11.4v14.5h-11.4zM404.9 951.6h11.4v14.5h-11.4zM234.1 966.2h11.4v14.5h-11.4zM279.6 966.2h22.8v14.5h-22.8zM313.8 966.2h11.4v14.5h-11.4zM370.8 966.2h11.4v14.5h-11.4zM461.9 966.2h11.4v14.5h-11.4zM609.9 966.2h22.8v14.5h-22.8zM97.4 980.7h22.8v14.5h-22.8zM154.3 980.7h11.4v14.5h-11.4zM211.3 980.7h11.4v14.5h-11.4zM279.6 980.7h11.4v14.5h-11.4zM348.0 980.7h34.2v14.5h-34.2zM439.1 980.7h11.4v14.5h-11.4zM165.7 995.2h22.8v14.5h-22.8zM211.3 995.2h11.4v14.5h-11.4zM313.8 995.2h11.4v14.5h-11.4zM348.0 995.2h22.8v14.5h-22.8zM291.0 1009.8h11.4v14.5h-11.4zM336.6 1009.8h22.8v14.5h-22.8zM234.1 1024.3h11.4v14.5h-11.4zM302.4 1024.3h11.4v14.5h-11.4zM336.6 1024.3h11.4v14.5h-11.4zM359.4 1024.3h11.4v14.5h-11.4zM348.0 1038.8h11.4v14.5h-11.4zM302.4 1053.3h22.8v14.5h-22.8zM359.4 1053.3h11.4v14.5h-11.4zM382.1 1053.3h11.4v14.5h-11.4zM439.1 1053.3h11.4v14.5h-11.4zM393.5 1067.9h11.4v14.5h-11.4zM439.1 1067.9h11.4v14.5h-11.4zM313.8 1082.4h11.4v14.5h-11.4zM427.7 1082.4h11.4v14.5h-11.4zM313.8 1096.9h11.4v14.5h-11.4zM416.3 1096.9h11.4v14.5h-11.4zM404.9 1111.5h11.4v14.5h-11.4zM313.8 1126.0h11.4v14.5h-11.4zM336.6 1126.0h11.4v14.5h-11.4z"/>
<path fill="#A3FF73" d="M632.7 661.0h22.8v14.5h-22.8zM553.0 675.6h22.8v14.5h-22.8zM222.7 690.1h22.8v14.5h-22.8zM530.2 690.1h11.4v14.5h-11.4zM575.8 690.1h11.4v14.5h-11.4zM678.3 690.1h22.8v14.5h-22.8zM598.5 704.6h11.4v14.5h-11.4zM701.1 704.6h11.4v14.5h-11.4zM723.8 704.6h11.4v14.5h-11.4zM131.6 719.1h11.4v14.5h-11.4zM245.5 719.1h22.8v14.5h-22.8zM587.2 719.1h11.4v14.5h-11.4zM131.6 733.7h11.4v14.5h-11.4zM188.5 733.7h11.4v14.5h-11.4zM177.1 748.2h11.4v14.5h-11.4zM575.8 748.2h11.4v14.5h-11.4zM701.1 748.2h11.4v14.5h-11.4zM143.0 762.7h34.2v14.5h-34.2zM222.7 762.7h11.4v14.5h-11.4zM507.4 762.7h22.8v14.5h-22.8zM701.1 762.7h11.4v14.5h-11.4zM108.8 777.3h11.4v14.5h-11.4zM131.6 777.3h11.4v14.5h-11.4zM199.9 777.3h22.8v14.5h-22.8zM291.0 777.3h22.8v14.5h-22.8zM484.7 777.3h11.4v14.5h-11.4zM553.0 777.3h11.4v14.5h-11.4zM29.1 791.8h11.4v14.5h-11.4zM165.7 791.8h11.4v14.5h-11.4zM268.2 791.8h11.4v14.5h-11.4zM473.3 791.8h11.4v14.5h-11.4zM245.5 806.3h11.4v14.5h-11.4zM439.1 806.3h45.6v14.5h-45.6zM666.9 806.3h22.8v14.5h-22.8zM63.2 820.9h11.4v14.5h-11.4zM359.4 820.9h11.4v14.5h-11.4zM450.5 820.9h11.4v14.5h-11.4zM484.7 820.9h11.4v14.5h-11.4zM74.6 835.4h11.4v14.5h-11.4zM97.4 835.4h11.4v14.5h-11.4zM188.5 835.4h11.4v14.5h-11.4zM268.2 835.4h11.4v14.5h-11.4zM313.8 835.4h11.4v14.5h-11.4zM427.7 835.4h11.4v14.5h-11.4zM461.9 835.4h34.2v14.5h-34.2zM97.4 849.9h11.4v14.5h-11.4zM211.3 849.9h11.4v14.5h-11.4zM245.5 849.9h11.4v14.5h-11.4zM313.8 849.9h11.4v14.5h-11.4zM336.6 849.9h11.4v14.5h-11.4zM382.1 849.9h22.8v14.5h-22.8zM439.1 849.9h22.8v14.5h-22.8zM473.3 849.9h11.4v14.5h-11.4zM496.0 849.9h11.4v14.5h-11.4zM518.8 849.9h11.4v14.5h-11.4zM63.2 864.5h11.4v14.5h-11.4zM86.0 864.5h11.4v14.5h-11.4zM131.6 864.5h11.4v14.5h-11.4zM177.1 864.5h11.4v14.5h-11.4zM234.1 864.5h11.4v14.5h-11.4zM268.2 864.5h11.4v14.5h-11.4zM302.4 864.5h11.4v14.5h-11.4zM348.0 864.5h11.4v14.5h-11.4zM393.5 864.5h22.8v14.5h-22.8zM63.2 879.0h11.4v14.5h-11.4zM313.8 879.0h22.8v14.5h-22.8zM393.5 879.0h11.4v14.5h-11.4zM427.7 879.0h22.8v14.5h-22.8zM473.3 879.0h11.4v14.5h-11.4zM143.0 893.5h22.8v14.5h-22.8zM370.8 893.5h11.4v14.5h-11.4zM427.7 893.5h11.4v14.5h-11.4zM461.9 893.5h11.4v14.5h-11.4zM541.6 893.5h11.4v14.5h-11.4zM313.8 908.0h11.4v14.5h-11.4zM74.6 922.6h11.4v14.5h-11.4zM245.5 922.6h22.8v14.5h-22.8zM382.1 922.6h22.8v14.5h-22.8zM450.5 922.6h11.4v14.5h-11.4zM473.3 922.6h11.4v14.5h-11.4zM211.3 937.1h22.8v14.5h-22.8zM416.3 937.1h11.4v14.5h-11.4zM97.4 951.6h11.4v14.5h-11.4zM234.1 951.6h11.4v14.5h-11.4zM359.4 951.6h11.4v14.5h-11.4zM450.5 951.6h22.8v14.5h-22.8zM484.7 951.6h11.4v14.5h-11.4zM222.7 966.2h11.4v14.5h-11.4zM256.9 966.2h11.4v14.5h-11.4zM348.0 966.2h22.8v14.5h-22.8zM530.2 966.2h11.4v14.5h-11.4zM188.5 980.7h11.4v14.5h-11.4zM222.7 980.7h11.4v14.5h-11.4zM245.5 980.7h22.8v14.5h-22.8zM325.2 980.7h22.8v14.5h-22.8zM473.3 980.7h11.4v14.5h-11.4zM188.5 995.2h22.8v14.5h-22.8zM268.2 995.2h11.4v14.5h-11.4zM291.0 995.2h11.4v14.5h-11.4zM370.8 995.2h11.4v14.5h-11.4zM461.9 995.2h11.4v14.5h-11.4zM131.6 1009.8h22.8v14.5h-22.8zM222.7 1009.8h11.4v14.5h-11.4zM256.9 1009.8h11.4v14.5h-11.4zM461.9 1009.8h11.4v14.5h-11.4zM165.7 1024.3h45.6v14.5h-45.6zM222.7 1024.3h11.4v14.5h-11.4zM268.2 1024.3h11.4v14.5h-11.4zM291.0 1024.3h11.4v14.5h-11.4zM416.3 1024.3h22.8v14.5h-22.8zM302.4 1038.8h11.4v14.5h-11.4zM359.4 1038.8h11.4v14.5h-11.4zM427.7 1038.8h22.8v14.5h-22.8zM393.5 1053.3h11.4v14.5h-11.4zM291.0 1067.9h22.8v14.5h-22.8zM336.6 1067.9h11.4v14.5h-11.4zM404.9 1067.9h11.4v14.5h-11.4zM427.7 1067.9h11.4v14.5h-11.4zM279.6 1082.4h22.8v14.5h-22.8zM393.5 1082.4h11.4v14.5h-11.4zM575.8 1082.4h11.4v14.5h-11.4zM279.6 1096.9h22.8v14.5h-22.8zM336.6 1096.9h11.4v14.5h-11.4zM404.9 1096.9h11.4v14.5h-11.4zM427.7 1096.9h11.4v14.5h-11.4zM632.7 1096.9h11.4v14.5h-11.4zM302.4 1111.5h11.4v14.5h-11.4zM336.6 1111.5h11.4v14.5h-11.4zM382.1 1111.5h22.8v14.5h-22.8zM302.4 1126.0h11.4v14.5h-11.4zM348.0 1126.0h11.4v14.5h-11.4zM370.8 1126.0h34.2v14.5h-34.2zM621.3 1126.0h22.8v14.5h-22.8zM313.8 1140.5h34.2v14.5h-34.2zM416.3 1140.5h11.4v14.5h-11.4zM336.6 1155.0h11.4v14.5h-11.4zM473.3 1155.0h22.8v14.5h-22.8z"/>
<path fill="#55FF00" d="M211.3 690.1h11.4v14.5h-11.4zM598.5 690.1h11.4v14.5h-11.4zM621.3 690.1h11.4v14.5h-11.4zM712.5 690.1h11.4v14.5h-11.4zM177.1 704.6h11.4v14.5h-11.4zM199.9 704.6h11.4v14.5h-11.4zM564.4 704.6h11.4v14.5h-11.4zM621.3 704.6h11.4v14.5h-11.4zM655.5 704.6h11.4v14.5h-11.4zM689.7 704.6h11.4v14.5h-11.4zM518.8 719.1h34.2v14.5h-34.2zM575.8 719.1h11.4v14.5h-11.4zM598.5 719.1h11.4v14.5h-11.4zM632.7 719.1h22.8v14.5h-22.8zM678.3 719.1h11.4v14.5h-11.4zM701.1 719.1h11.4v14.5h-11.4zM575.8 733.7h11.4v14.5h-11.4zM666.9 733.7h22.8v14.5h-22.8zM199.9 748.2h22.8v14.5h-22.8zM530.2 748.2h22.8v14.5h-22.8zM587.2 748.2h11.4v14.5h-11.4zM666.9 748.2h11.4v14.5h-11.4zM199.9 762.7h11.4v14.5h-11.4zM530.2 762.7h11.4v14.5h-11.4zM564.4 762.7h11.4v14.5h-11.4zM587.2 762.7h11.4v14.5h-11.4zM644.1 762.7h11.4v14.5h-11.4zM177.1 777.3h11.4v14.5h-11.4zM268.2 777.3h22.8v14.5h-22.8zM507.4 777.3h45.6v14.5h-45.6zM564.4 777.3h22.8v14.5h-22.8zM701.1 777.3h11.4v14.5h-11.4zM40.4 791.8h34.2v14.5h-34.2zM108.8 791.8h22.8v14.5h-22.8zM143.0 791.8h22.8v14.5h-22.8zM177.1 791.8h11.4v14.5h-11.4zM484.7 791.8h34.2v14.5h-34.2zM553.0 791.8h11.4v14.5h-11.4zM29.1 806.3h22.8v14.5h-22.8zM74.6 806.3h11.4v14.5h-11.4zM188.5 806.3h22.8v14.5h-22.8zM359.4 806.3h11.4v14.5h-11.4zM496.0 806.3h11.4v14.5h-11.4zM553.0 806.3h11.4v14.5h-11.4zM621.3 806.3h11.4v14.5h-11.4zM199.9 820.9h11.4v14.5h-11.4zM496.0 820.9h22.8v14.5h-22.8zM530.2 820.9h22.8v14.5h-22.8zM564.4 820.9h11.4v14.5h-11.4zM598.5 820.9h22.8v14.5h-22.8zM86.0 835.4h11.4v14.5h-11.4zM302.4 835.4h11.4v14.5h-11.4zM439.1 835.4h11.4v14.5h-11.4zM496.0 835.4h11.4v14.5h-11.4zM518.8 835.4h11.4v14.5h-11.4zM553.0 835.4h11.4v14.5h-11.4zM63.2 849.9h11.4v14.5h-11.4zM325.2 849.9h11.4v14.5h-11.4zM370.8 849.9h11.4v14.5h-11.4zM427.7 849.9h11.4v14.5h-11.4zM120.2 864.5h11.4v14.5h-11.4zM143.0 864.5h11.4v14.5h-11.4zM199.9 864.5h11.4v14.5h-11.4zM222.7 864.5h11.4v14.5h-11.4zM256.9 864.5h11.4v14.5h-11.4zM439.1 864.5h11.4v14.5h-11.4zM473.3 864.5h11.4v14.5h-11.4zM496.0 864.5h11.4v14.5h-11.4zM131.6 879.0h11.4v14.5h-11.4zM245.5 879.0h11.4v14.5h-11.4zM302.4 879.0h11.4v14.5h-11.4zM359.4 879.0h22.8v14.5h-22.8zM450.5 879.0h11.4v14.5h-11.4zM598.5 879.0h11.4v14.5h-11.4zM131.6 893.5h11.4v14.5h-11.4zM245.5 893.5h11.4v14.5h-11.4zM404.9 893.5h11.4v14.5h-11.4zM450.5 893.5h11.4v14.5h-11.4zM484.7 893.5h34.2v14.5h-34.2zM530.2 893.5h11.4v14.5h-11.4zM553.0 893.5h22.8v14.5h-22.8zM609.9 893.5h22.8v14.5h-22.8zM97.4 908.0h11.4v14.5h-11.4zM120.2 908.0h22.8v14.5h-22.8zM256.9 908.0h11.4v14.5h-11.4zM279.6 908.0h11.4v14.5h-11.4zM302.4 908.0h11.4v14.5h-11.4zM336.6 908.0h11.4v14.5h-11.4zM404.9 908.0h22.8v14.5h-22.8zM120.2 922.6h22.8v14.5h-22.8zM291.0 922.6h11.4v14.5h-11.4zM404.9 922.6h22.8v14.5h-22.8zM461.9 922.6h11.4v14.5h-11.4zM518.8 922.6h22.8v14.5h-22.8zM245.5 937.1h11.4v14.5h-11.4zM291.0 937.1h11.4v14.5h-11.4zM313.8 937.1h11.4v14.5h-11.4zM450.5 937.1h22.8v14.5h-22.8zM598.5 937.1h11.4v14.5h-11.4zM222.7 951.6h11.4v14.5h-11.4zM279.6 951.6h11.4v14.5h-11.4zM348.0 951.6h11.4v14.5h-11.4zM86.0 966.2h11.4v14.5h-11.4zM268.2 966.2h11.4v14.5h-11.4zM382.1 966.2h11.4v14.5h-11.4zM598.5 966.2h11.4v14.5h-11.4zM120.2 980.7h11.4v14.5h-11.4zM165.7 980.7h22.8v14.5h-22.8zM234.1 980.7h11.4v14.5h-11.4zM313.8 980.7h11.4v14.5h-11.4zM382.1 980.7h11.4v14.5h-11.4zM416.3 980.7h11.4v14.5h-11.4zM154.3 995.2h11.4v14.5h-11.4zM222.7 995.2h22.8v14.5h-22.8zM279.6 995.2h11.4v14.5h-11.4zM325.2 995.2h11.4v14.5h-11.4zM427.7 995.2h22.8v14.5h-22.8zM575.8 995.2h11.4v14.5h-11.4zM165.7 1009.8h11.4v14.5h-11.4zM234.1 1009.8h22.8v14.5h-22.8zM325.2 1009.8h11.4v14.5h-11.4zM450.5 1009.8h11.4v14.5h-11.4zM393.5 1024.3h11.4v14.5h-11.4zM450.5 1024.3h22.8v14.5h-22.8zM325.2 1038.8h11.4v14.5h-11.4zM382.1 1038.8h34.2v14.5h-34.2zM609.9 1038.8h22.8v14.5h-22.8zM325.2 1053.3h22.8v14.5h-22.8zM404.9 1053.3h11.4v14.5h-11.4zM427.7 1053.3h11.4v14.5h-11.4zM575.8 1053.3h22.8v14.5h-22.8zM348.0 1067.9h22.8v14.5h-22.8zM382.1 1067.9h11.4v14.5h-11.4zM484.7 1067.9h11.4v14.5h-11.4zM348.0 1082.4h11.4v14.5h-11.4zM404.9 1082.4h11.4v14.5h-11.4zM473.3 1082.4h11.4v14.5h-11.4zM348.0 1096.9h11.4v14.5h-11.4zM450.5 1096.9h11.4v14.5h-11.4zM473.3 1096.9h11.4v14.5h-11.4zM313.8 1111.5h22.8v14.5h-22.8zM370.8 1111.5h11.4v14.5h-11.4zM325.2 1126.0h11.4v14.5h-11.4zM416.3 1126.0h11.4v14.5h-11.4zM473.3 1126.0h22.8v14.5h-22.8zM507.4 1126.0h11.4v14.5h-11.4zM484.7 1140.5h11.4v14.5h-11.4zM507.4 1140.5h22.8v14.5h-22.8zM450.5 1155.0h22.8v14.5h-22.8zM439.1 1198.6h11.4v14.5h-11.4z"/>
<path fill="#4CE600" d="M632.7 675.6h45.6v14.5h-45.6zM541.6 690.1h22.8v14.5h-22.8zM644.1 690.1h11.4v14.5h-11.4zM723.8 690.1h11.4v14.5h-11.4zM530.2 704.6h11.4v14.5h-11.4zM553.0 704.6h11.4v14.5h-11.4zM609.9 704.6h11.4v14.5h-11.4zM644.1 704.6h11.4v14.5h-11.4zM678.3 704.6h11.4v14.5h-11.4zM188.5 719.1h11.4v14.5h-11.4zM222.7 719.1h11.4v14.5h-11.4zM553.0 719.1h22.8v14.5h-22.8zM621.3 719.1h11.4v14.5h-11.4zM655.5 719.1h11.4v14.5h-11.4zM689.7 719.1h11.4v14.5h-11.4zM723.8 719.1h11.4v14.5h-11.4zM177.1 733.7h11.4v14.5h-11.4zM644.1 733.7h22.8v14.5h-22.8zM689.7 733.7h11.4v14.5h-11.4zM723.8 733.7h11.4v14.5h-11.4zM188.5 748.2h11.4v14.5h-11.4zM598.5 748.2h11.4v14.5h-11.4zM644.1 748.2h22.8v14.5h-22.8zM689.7 748.2h11.4v14.5h-11.4zM211.3 762.7h11.4v14.5h-11.4zM598.5 762.7h11.4v14.5h-11.4zM632.7 762.7h11.4v14.5h-11.4zM655.5 762.7h11.4v14.5h-11.4zM689.7 762.7h11.4v14.5h-11.4zM143.0 777.3h11.4v14.5h-11.4zM632.7 777.3h11.4v14.5h-11.4zM666.9 777.3h11.4v14.5h-11.4zM689.7 777.3h11.4v14.5h-11.4zM74.6 791.8h11.4v14.5h-11.4zM530.2 791.8h11.4v14.5h-11.4zM564.4 791.8h11.4v14.5h-11.4zM587.2 791.8h11.4v14.5h-11.4zM644.1 791.8h22.8v14.5h-22.8zM678.3 791.8h22.8v14.5h-22.8zM63.2 806.3h11.4v14.5h-11.4zM507.4 806.3h11.4v14.5h-11.4zM541.6 806.3h11.4v14.5h-11.4zM587.2 806.3h34.2v14.5h-34.2zM655.5 806.3h11.4v14.5h-11.4zM655.5 820.9h11.4v14.5h-11.4zM530.2 835.4h11.4v14.5h-11.4zM598.5 849.9h34.2v14.5h-34.2zM97.4 864.5h11.4v14.5h-11.4zM450.5 864.5h22.8v14.5h-22.8zM507.4 864.5h11.4v14.5h-11.4zM541.6 864.5h11.4v14.5h-11.4zM598.5 864.5h22.8v14.5h-22.8zM74.6 879.0h11.4v14.5h-11.4zM108.8 879.0h11.4v14.5h-11.4zM154.3 879.0h11.4v14.5h-11.4zM177.1 879.0h11.4v14.5h-11.4zM222.7 879.0h11.4v14.5h-11.4zM268.2 879.0h11.4v14.5h-11.4zM484.7 879.0h22.8v14.5h-22.8zM587.2 879.0h11.4v14.5h-11.4zM609.9 879.0h22.8v14.5h-22.8zM120.2 893.5h11.4v14.5h-11.4zM165.7 893.5h34.2v14.5h-34.2zM279.6 893.5h22.8v14.5h-22.8zM313.8 893.5h22.8v14.5h-22.8zM348.0 893.5h11.4v14.5h-11.4zM439.1 893.5h11.4v14.5h-11.4zM598.5 893.5h11.4v14.5h-11.4zM74.6 908.0h11.4v14.5h-11.4zM108.8 908.0h11.4v14.5h-11.4zM165.7 908.0h22.8v14.5h-22.8zM199.9 908.0h11.4v14.5h-11.4zM222.7 908.0h11.4v14.5h-11.4zM268.2 908.0h11.4v14.5h-11.4zM370.8 908.0h22.8v14.5h-22.8zM450.5 908.0h11.4v14.5h-11.4zM484.7 908.0h11.4v14.5h-11.4zM507.4 908.0h11.4v14.5h-11.4zM97.4 922.6h11.4v14.5h-11.4zM143.0 922.6h45.6v14.5h-45.6zM234.1 922.6h11.4v14.5h-11.4zM484.7 922.6h34.2v14.5h-34.2zM74.6 937.1h22.8v14.5h-22.8zM154.3 937.1h11.4v14.5h-11.4zM177.1 937.1h22.8v14.5h-22.8zM234.1 937.1h11.4v14.5h-11.4zM302.4 937.1h11.4v14.5h-11.4zM439.1 937.1h11.4v14.5h-11.4zM587.2 937.1h11.4v14.5h-11.4zM143.0 951.6h11.4v14.5h-11.4zM245.5 951.6h11.4v14.5h-11.4zM370.8 951.6h11.4v14.5h-11.4zM427.7 951.6h11.4v14.5h-11.4zM598.5 951.6h22.8v14.5h-22.8zM97.4 966.2h11.4v14.5h-11.4zM131.6 966.2h11.4v14.5h-11.4zM416.3 966.2h22.8v14.5h-22.8zM541.6 966.2h22.8v14.5h-22.8zM143.0 980.7h11.4v14.5h-11.4zM393.5 980.7h11.4v14.5h-11.4zM143.0 995.2h11.4v14.5h-11.4zM256.9 995.2h11.4v14.5h-11.4zM404.9 995.2h22.8v14.5h-22.8zM564.4 995.2h11.4v14.5h-11.4zM211.3 1009.8h11.4v14.5h-11.4zM268.2 1009.8h11.4v14.5h-11.4zM313.8 1009.8h11.4v14.5h-11.4zM370.8 1009.8h11.4v14.5h-11.4zM393.5 1009.8h22.8v14.5h-22.8zM211.3 1024.3h11.4v14.5h-11.4zM279.6 1024.3h11.4v14.5h-11.4zM325.2 1024.3h11.4v14.5h-11.4zM382.1 1024.3h11.4v14.5h-11.4zM404.9 1024.3h11.4v14.5h-11.4zM279.6 1038.8h11.4v14.5h-11.4zM416.3 1038.8h11.4v14.5h-11.4zM450.5 1038.8h11.4v14.5h-11.4zM484.7 1038.8h11.4v14.5h-11.4zM507.4 1038.8h11.4v14.5h-11.4zM587.2 1038.8h11.4v14.5h-11.4zM450.5 1053.3h45.6v14.5h-45.6zM541.6 1053.3h22.8v14.5h-22.8zM598.5 1053.3h22.8v14.5h-22.8zM313.8 1067.9h11.4v14.5h-11.4zM416.3 1067.9h11.4v14.5h-11.4zM450.5 1067.9h34.2v14.5h-34.2zM496.0 1067.9h11.4v14.5h-11.4zM518.8 1067.9h11.4v14.5h-11.4zM302.4 1082.4h11.4v14.5h-11.4zM325.2 1082.4h22.8v14.5h-22.8zM359.4 1082.4h11.4v14.5h-11.4zM382.1 1082.4h11.4v14.5h-11.4zM416.3 1082.4h11.4v14.5h-11.4zM461.9 1082.4h11.4v14.5h-11.4zM518.8 1082.4h11.4v14.5h-11.4zM541.6 1082.4h34.2v14.5h-34.2zM302.4 1096.9h11.4v14.5h-11.4zM439.1 1096.9h11.4v14.5h-11.4zM461.9 1096.9h11.4v14.5h-11.4zM496.0 1096.9h11.4v14.5h-11.4zM518.8 1096.9h22.8v14.5h-22.8zM575.8 1096.9h22.8v14.5h-22.8zM359.4 1111.5h11.4v14.5h-11.4zM439.1 1111.5h68.3v14.5h-68.3zM404.9 1126.0h11.4v14.5h-11.4zM427.7 1126.0h11.4v14.5h-11.4zM496.0 1126.0h11.4v14.5h-11.4zM496.0 1140.5h11.4v14.5h-11.4zM450.5 1169.6h34.2v14.5h-34.2zM439.1 1184.1h11.4v14.5h-11.4zM473.3 1184.1h11.4v14.5h-11.4zM450.5 1198.6h34.2v14.5h-34.2z"/>
<path fill="#38A800" d="M564.4 690.1h11.4v14.5h-11.4zM632.7 690.1h11.4v14.5h-11.4zM666.9 690.1h11.4v14.5h-11.4zM222.7 704.6h11.4v14.5h-11.4zM245.5 704.6h11.4v14.5h-11.4zM632.7 704.6h11.4v14.5h-11.4zM609.9 719.1h11.4v14.5h-11.4zM712.5 719.1h11.4v14.5h-11.4zM553.0 733.7h22.8v14.5h-22.8zM609.9 733.7h11.4v14.5h-11.4zM632.7 733.7h11.4v14.5h-11.4zM553.0 748.2h22.8v14.5h-22.8zM632.7 748.2h11.4v14.5h-11.4zM553.0 762.7h11.4v14.5h-11.4zM609.9 762.7h22.8v14.5h-22.8zM587.2 777.3h45.6v14.5h-45.6zM678.3 777.3h11.4v14.5h-11.4zM86.0 791.8h11.4v14.5h-11.4zM518.8 791.8h11.4v14.5h-11.4zM575.8 791.8h11.4v14.5h-11.4zM598.5 791.8h34.2v14.5h-34.2zM518.8 806.3h22.8v14.5h-22.8zM644.1 806.3h11.4v14.5h-11.4zM518.8 820.9h11.4v14.5h-11.4zM553.0 820.9h11.4v14.5h-11.4zM575.8 820.9h11.4v14.5h-11.4zM644.1 820.9h11.4v14.5h-11.4zM450.5 835.4h11.4v14.5h-11.4zM507.4 835.4h11.4v14.5h-11.4zM575.8 835.4h45.6v14.5h-45.6zM632.7 835.4h22.8v14.5h-22.8zM268.2 849.9h11.4v14.5h-11.4zM484.7 849.9h11.4v14.5h-11.4zM507.4 849.9h11.4v14.5h-11.4zM541.6 849.9h11.4v14.5h-11.4zM564.4 849.9h22.8v14.5h-22.8zM74.6 864.5h11.4v14.5h-11.4zM518.8 864.5h22.8v14.5h-22.8zM120.2 879.0h11.4v14.5h-11.4zM143.0 879.0h11.4v14.5h-11.4zM165.7 879.0h11.4v14.5h-11.4zM188.5 879.0h22.8v14.5h-22.8zM256.9 879.0h11.4v14.5h-11.4zM279.6 879.0h11.4v14.5h-11.4zM416.3 879.0h11.4v14.5h-11.4zM507.4 879.0h11.4v14.5h-11.4zM553.0 879.0h34.2v14.5h-34.2zM74.6 893.5h22.8v14.5h-22.8zM108.8 893.5h11.4v14.5h-11.4zM199.9 893.5h11.4v14.5h-11.4zM222.7 893.5h11.4v14.5h-11.4zM302.4 893.5h11.4v14.5h-11.4zM575.8 893.5h22.8v14.5h-22.8zM143.0 908.0h22.8v14.5h-22.8zM496.0 908.0h11.4v14.5h-11.4zM553.0 908.0h11.4v14.5h-11.4zM86.0 922.6h11.4v14.5h-11.4zM108.8 922.6h11.4v14.5h-11.4zM188.5 922.6h45.6v14.5h-45.6zM325.2 922.6h11.4v14.5h-11.4zM427.7 922.6h11.4v14.5h-11.4zM587.2 922.6h11.4v14.5h-11.4zM108.8 937.1h45.6v14.5h-45.6zM165.7 937.1h11.4v14.5h-11.4zM427.7 937.1h11.4v14.5h-11.4zM518.8 937.1h34.2v14.5h-34.2zM63.2 951.6h34.2v14.5h-34.2zM154.3 951.6h11.4v14.5h-11.4zM188.5 951.6h22.8v14.5h-22.8zM439.1 951.6h11.4v14.5h-11.4zM473.3 951.6h11.4v14.5h-11.4zM530.2 951.6h34.2v14.5h-34.2zM587.2 951.6h11.4v14.5h-11.4zM108.8 966.2h11.4v14.5h-11.4zM188.5 966.2h11.4v14.5h-11.4zM393.5 966.2h11.4v14.5h-11.4zM439.1 966.2h11.4v14.5h-11.4zM564.4 966.2h11.4v14.5h-11.4zM587.2 966.2h11.4v14.5h-11.4zM461.9 980.7h11.4v14.5h-11.4zM553.0 980.7h11.4v14.5h-11.4zM575.8 980.7h22.8v14.5h-22.8zM609.9 980.7h22.8v14.5h-22.8zM108.8 995.2h34.2v14.5h-34.2zM245.5 995.2h11.4v14.5h-11.4zM382.1 995.2h22.8v14.5h-22.8zM587.2 995.2h45.6v14.5h-45.6zM154.3 1009.8h11.4v14.5h-11.4zM177.1 1009.8h11.4v14.5h-11.4zM279.6 1009.8h11.4v14.5h-11.4zM382.1 1009.8h11.4v14.5h-11.4zM416.3 1009.8h11.4v14.5h-11.4zM496.0 1009.8h11.4v14.5h-11.4zM564.4 1009.8h11.4v14.5h-11.4zM609.9 1009.8h22.8v14.5h-22.8zM348.0 1024.3h11.4v14.5h-11.4zM370.8 1024.3h11.4v14.5h-11.4zM484.7 1024.3h22.8v14.5h-22.8zM564.4 1024.3h22.8v14.5h-22.8zM598.5 1024.3h34.2v14.5h-34.2zM370.8 1038.8h11.4v14.5h-11.4zM496.0 1038.8h11.4v14.5h-11.4zM518.8 1038.8h34.2v14.5h-34.2zM564.4 1038.8h22.8v14.5h-22.8zM370.8 1053.3h11.4v14.5h-11.4zM496.0 1053.3h45.6v14.5h-45.6zM370.8 1067.9h11.4v14.5h-11.4zM507.4 1067.9h11.4v14.5h-11.4zM541.6 1067.9h22.8v14.5h-22.8zM575.8 1067.9h11.4v14.5h-11.4zM598.5 1067.9h11.4v14.5h-11.4zM370.8 1082.4h11.4v14.5h-11.4zM450.5 1082.4h11.4v14.5h-11.4zM484.7 1082.4h22.8v14.5h-22.8zM598.5 1082.4h11.4v14.5h-11.4zM621.3 1082.4h22.8v14.5h-22.8zM325.2 1096.9h11.4v14.5h-11.4zM370.8 1096.9h11.4v14.5h-11.4zM484.7 1096.9h11.4v14.5h-11.4zM564.4 1096.9h11.4v14.5h-11.4zM621.3 1096.9h11.4v14.5h-11.4zM348.0 1111.5h11.4v14.5h-11.4zM416.3 1111.5h11.4v14.5h-11.4zM541.6 1111.5h45.6v14.5h-45.6zM609.9 1111.5h22.8v14.5h-22.8zM439.1 1126.0h11.4v14.5h-11.4zM461.9 1126.0h11.4v14.5h-11.4zM518.8 1126.0h45.6v14.5h-45.6zM427.7 1140.5h11.4v14.5h-11.4zM461.9 1184.1h11.4v14.5h-11.4z"/>
<path fill="#267300" d="M211.3 675.6h22.8v14.5h-22.8zM211.3 704.6h11.4v14.5h-11.4zM541.6 704.6h11.4v14.5h-11.4zM199.9 719.1h11.4v14.5h-11.4zM143.0 733.7h22.8v14.5h-22.8zM598.5 733.7h11.4v14.5h-11.4zM621.3 733.7h11.4v14.5h-11.4zM701.1 733.7h22.8v14.5h-22.8zM609.9 748.2h22.8v14.5h-22.8zM541.6 762.7h11.4v14.5h-11.4zM666.9 762.7h22.8v14.5h-22.8zM644.1 777.3h22.8v14.5h-22.8zM188.5 791.8h11.4v14.5h-11.4zM541.6 791.8h11.4v14.5h-11.4zM632.7 791.8h11.4v14.5h-11.4zM666.9 791.8h11.4v14.5h-11.4zM575.8 806.3h11.4v14.5h-11.4zM632.7 806.3h11.4v14.5h-11.4zM587.2 820.9h11.4v14.5h-11.4zM621.3 820.9h22.8v14.5h-22.8zM541.6 835.4h11.4v14.5h-11.4zM564.4 835.4h11.4v14.5h-11.4zM621.3 835.4h11.4v14.5h-11.4zM530.2 849.9h11.4v14.5h-11.4zM553.0 849.9h11.4v14.5h-11.4zM188.5 864.5h11.4v14.5h-11.4zM211.3 864.5h11.4v14.5h-11.4zM313.8 864.5h11.4v14.5h-11.4zM553.0 864.5h22.8v14.5h-22.8zM86.0 879.0h22.8v14.5h-22.8zM518.8 879.0h11.4v14.5h-11.4zM63.2 893.5h11.4v14.5h-11.4zM97.4 893.5h11.4v14.5h-11.4zM211.3 893.5h11.4v14.5h-11.4zM336.6 893.5h11.4v14.5h-11.4zM518.8 893.5h11.4v14.5h-11.4zM188.5 908.0h11.4v14.5h-11.4zM211.3 908.0h11.4v14.5h-11.4zM234.1 908.0h22.8v14.5h-22.8zM348.0 908.0h22.8v14.5h-22.8zM518.8 908.0h11.4v14.5h-11.4zM541.6 908.0h11.4v14.5h-11.4zM564.4 908.0h45.6v14.5h-45.6zM302.4 922.6h22.8v14.5h-22.8zM370.8 922.6h11.4v14.5h-11.4zM553.0 922.6h34.2v14.5h-34.2zM97.4 937.1h11.4v14.5h-11.4zM199.9 937.1h11.4v14.5h-11.4zM473.3 937.1h45.6v14.5h-45.6zM553.0 937.1h34.2v14.5h-34.2zM108.8 951.6h34.2v14.5h-34.2zM165.7 951.6h22.8v14.5h-22.8zM211.3 951.6h11.4v14.5h-11.4zM496.0 951.6h34.2v14.5h-34.2zM564.4 951.6h22.8v14.5h-22.8zM120.2 966.2h11.4v14.5h-11.4zM143.0 966.2h45.6v14.5h-45.6zM199.9 966.2h22.8v14.5h-22.8zM404.9 966.2h11.4v14.5h-11.4zM450.5 966.2h11.4v14.5h-11.4zM473.3 966.2h57.0v14.5h-57.0zM575.8 966.2h11.4v14.5h-11.4zM131.6 980.7h11.4v14.5h-11.4zM199.9 980.7h11.4v14.5h-11.4zM404.9 980.7h11.4v14.5h-11.4zM484.7 980.7h68.3v14.5h-68.3zM564.4 980.7h11.4v14.5h-11.4zM598.5 980.7h11.4v14.5h-11.4zM473.3 995.2h91.1v14.5h-91.1zM188.5 1009.8h22.8v14.5h-22.8zM427.7 1009.8h11.4v14.5h-11.4zM473.3 1009.8h22.8v14.5h-22.8zM507.4 1009.8h57.0v14.5h-57.0zM575.8 1009.8h34.2v14.5h-34.2zM473.3 1024.3h11.4v14.5h-11.4zM507.4 1024.3h57.0v14.5h-57.0zM587.2 1024.3h11.4v14.5h-11.4zM336.6 1038.8h11.4v14.5h-11.4zM461.9 1038.8h22.8v14.5h-22.8zM553.0 1038.8h11.4v14.5h-11.4zM598.5 1038.8h11.4v14.5h-11.4zM348.0 1053.3h11.4v14.5h-11.4zM416.3 1053.3h11.4v14.5h-11.4zM564.4 1053.3h11.4v14.5h-11.4zM325.2 1067.9h11.4v14.5h-11.4zM530.2 1067.9h11.4v14.5h-11.4zM564.4 1067.9h11.4v14.5h-11.4zM587.2 1067.9h11.4v14.5h-11.4zM507.4 1082.4h11.4v14.5h-11.4zM530.2 1082.4h11.4v14.5h-11.4zM587.2 1082.4h11.4v14.5h-11.4zM359.4 1096.9h11.4v14.5h-11.4zM382.1 1096.9h22.8v14.5h-22.8zM507.4 1096.9h11.4v14.5h-11.4zM541.6 1096.9h22.8v14.5h-22.8zM427.7 1111.5h11.4v14.5h-11.4zM507.4 1111.5h34.2v14.5h-34.2zM450.5 1126.0h11.4v14.5h-11.4zM439.1 1140.5h45.6v14.5h-45.6zM450.5 1184.1h11.4v14.5h-11.4z"/>
<path fill="none" stroke="#7d7d7d" stroke-width="0.75" vector-effect="non-scaling-stroke" d="M17.66 626.0v600M29.05 626.0v600M40.44 626.0v600M51.83 626.0v600M63.22 626.0v600M74.61 626.0v600M86.00 626.0v600M97.39 626.0v600M108.78 626.0v600M120.17 626.0v600M131.56 626.0v600M142.95 626.0v600M154.34 626.0v600M165.73 626.0v600M177.12 626.0v600M188.51 626.0v600M199.90 626.0v600M211.29 626.0v600M222.68 626.0v600M234.07 626.0v600M245.46 626.0v600M256.85 626.0v600M268.24 626.0v600M279.63 626.0v600M291.02 626.0v600M302.41 626.0v600M313.80 626.0v600M325.19 626.0v600M336.58 626.0v600M347.97 626.0v600M359.36 626.0v600M370.75 626.0v600M382.14 626.0v600M393.53 626.0v600M404.92 626.0v600M416.31 626.0v600M427.70 626.0v600M439.09 626.0v600M450.48 626.0v600M461.87 626.0v600M473.26 626.0v600M484.65 626.0v600M496.04 626.0v600M507.43 626.0v600M518.82 626.0v600M530.21 626.0v600M541.60 626.0v600M552.99 626.0v600M564.38 626.0v600M575.77 626.0v600M587.16 626.0v600M598.55 626.0v600M609.94 626.0v600M621.33 626.0v600M632.72 626.0v600M644.11 626.0v600M655.50 626.0v600M666.89 626.0v600M678.28 626.0v600M689.67 626.0v600M701.06 626.0v600M712.45 626.0v600M723.84 626.0v600M735.23 626.0v600M746.62 626.0v600M758.01 626.0v600M769.40 626.0v600M780.79 626.0v600M792.18 626.0v600M803.57 626.0v600M814.96 626.0v600M826.35 626.0v600M837.74 626.0v600M17 631.97h816M17 646.50h816M17 661.03h816M17 675.56h816M17 690.09h816M17 704.62h816M17 719.15h816M17 733.68h816M17 748.21h816M17 762.74h816M17 777.27h816M17 791.80h816M17 806.33h816M17 820.86h816M17 835.39h816M17 849.92h816M17 864.45h816M17 878.98h816M17 893.51h816M17 908.04h816M17 922.57h816M17 937.10h816M17 951.63h816M17 966.16h816M17 980.69h816M17 995.22h816M17 1009.75h816M17 1024.28h816M17 1038.81h816M17 1053.34h816M17 1067.87h816M17 1082.40h816M17 1096.93h816M17 1111.46h816M17 1125.99h816M17 1140.52h816M17 1155.05h816M17 1169.58h816M17 1184.11h816M17 1198.64h816M17 1213.17h816M17 1227.70h816"/>
</g>
<path fill="none" stroke="#000" stroke-width="1.1" stroke-linejoin="round" d="M28.6 796.6 L32.1 793.2 L30.3 788.0 L37.2 784.0 L40.7 778.8 L52.7 776.0 L61.9 776.5 L62.5 781.7 L70.5 783.4 L79.7 776.0 L86.0 775.4 L93.5 773.1 L100.4 775.4 L114.2 772.5 L123.4 769.0 L125.6 761.0 L127.0 760.8 L134.5 754.5 L136.5 742.0 L132.5 726.5 L153.2 726.5 L160.8 728.2 L164.5 718.2 L176.2 702.0 L182.0 705.0 L200.8 709.0 L204.5 704.5 L208.2 692.0 L220.8 689.0 L222.5 683.2 L234.0 683.2 L234.5 690.8 L243.2 704.5 L253.2 709.5 L258.2 724.5 L257.0 737.0 L253.2 747.0 L255.8 754.5 L277.0 759.5 L292.0 772.0 L302.0 777.0 L308.2 797.0 L315.0 803.5 L320.5 802.5 L338.0 807.0 L359.2 810.0 L370.5 812.0 L374.2 819.5 L388.0 824.5 L403.0 827.0 L405.5 830.8 L415.5 825.8 L430.5 820.8 L448.0 819.5 L463.0 817.0 L473.0 810.8 L485.5 802.0 L490.5 794.5 L484.2 785.8 L491.8 775.8 L508.0 779.5 L520.5 769.5 L533.0 765.8 L543.0 754.5 L555.5 747.0 L575.5 742.0 L576.8 738.2 L565.5 728.2 L550.5 725.8 L535.5 730.8 L528.0 728.2 L531.8 715.8 L539.2 698.2 L549.2 700.8 L563.0 689.5 L565.5 679.5 L574.2 662.0 L575.5 653.2 L569.2 649.5 L575.5 639.5 L590.5 634.0 L602.5 632.0 L617.5 634.0 L626.2 638.2 L633.8 650.8 L640.0 660.8 L643.8 669.5 L651.2 683.2 L660.0 685.8 L672.5 688.2 L685.0 692.0 L692.5 704.5 L696.2 708.2 L710.0 704.5 L721.2 694.5 L735.0 688.2 L732.5 698.2 L730.0 707.0 L731.2 722.0 L726.2 732.0 L725.0 743.2 L712.5 745.8 L706.2 753.2 L710.0 763.2 L712.6 776.0 L711.9 784.3 L707.0 788.0 L708.5 793.6 L705.5 790.3 L701.8 786.5 L698.0 786.9 L697.6 794.8 L693.5 797.8 L692.0 802.3 L680.0 806.0 L681.5 810.5 L684.1 812.8 L683.0 816.5 L676.3 816.9 L670.3 815.8 L667.3 812.4 L664.3 815.8 L662.0 822.5 L660.0 827.0 L657.5 829.5 L653.0 834.0 L644.0 842.0 L640.0 847.0 L630.0 851.0 L622.0 856.0 L616.0 863.0 L612.0 866.0 L606.0 871.0 L604.5 868.5 L610.0 865.0 L610.0 860.0 L607.5 856.0 L609.0 851.0 L612.5 846.0 L615.5 840.5 L611.0 834.5 L609.0 832.5 L602.0 836.0 L599.0 841.0 L594.0 847.0 L587.0 852.0 L582.0 858.0 L579.5 864.0 L573.0 867.0 L566.0 868.0 L562.5 873.0 L562.0 877.0 L565.0 883.0 L570.0 886.0 L577.0 884.5 L580.0 888.0 L580.0 896.0 L585.0 899.5 L591.0 898.0 L595.0 892.0 L602.0 886.5 L610.0 890.0 L620.0 889.5 L627.0 890.5 L626.0 898.0 L620.0 897.0 L612.0 902.0 L606.0 906.5 L604.0 911.0 L599.5 915.0 L593.6 921.8 L590.7 927.7 L587.2 934.6 L589.7 939.0 L602.5 943.5 L607.4 953.3 L613.3 965.1 L614.3 970.0 L620.2 974.0 L621.2 978.9 L627.0 979.9 L629.0 985.8 L625.0 989.7 L630.0 995.6 L625.0 999.6 L619.2 1002.5 L616.3 1007.4 L609.4 1009.4 L614.3 1010.4 L621.2 1008.4 L626.0 1008.0 L633.0 1013.4 L633.0 1019.3 L630.5 1022.5 L631.1 1037.4 L623.0 1042.0 L619.6 1051.2 L615.0 1059.2 L609.2 1066.1 L606.9 1075.3 L606.4 1084.5 L598.9 1092.5 L594.3 1100.6 L586.3 1105.2 L580.5 1114.4 L574.8 1120.1 L566.7 1125.8 L558.7 1132.7 L549.5 1135.0 L539.2 1137.3 L530.0 1142.5 L526.7 1143.7 L522.0 1137.8 L519.7 1133.2 L518.5 1140.2 L515.0 1146.0 L505.7 1153.0 L494.0 1155.9 L482.3 1158.8 L476.5 1157.7 L475.3 1163.5 L470.7 1165.8 L473.6 1170.5 L475.9 1174.6 L468.3 1177.5 L466.0 1174.0 L463.1 1165.8 L466.0 1158.8 L461.3 1155.3 L455.5 1157.1 L446.2 1152.4 L440.3 1156.5 L429.8 1154.2 L425.0 1151.5 L421.7 1149.5 L418.2 1142.5 L418.7 1137.7 L413.3 1134.3 L402.7 1128.3 L396.0 1127.0 L386.7 1132.3 L377.3 1138.3 L370.7 1134.3 L362.7 1138.3 L354.7 1134.3 L345.3 1136.3 L342.0 1140.3 L344.7 1149.7 L344.0 1157.7 L336.0 1156.3 L333.3 1148.3 L319.3 1149.7 L316.0 1141.7 L306.0 1139.0 L312.0 1125.7 L304.7 1121.7 L302.0 1112.3 L304.0 1107.7 L289.5 1107.8 L285.4 1107.8 L288.3 1104.3 L286.0 1099.7 L288.3 1095.0 L290.7 1088.0 L297.7 1081.6 L302.5 1079.0 L308.8 1069.0 L310.0 1055.2 L305.0 1050.2 L302.5 1040.2 L300.0 1038.4 L295.3 1034.9 L291.8 1037.8 L290.7 1043.7 L286.6 1045.4 L276.7 1038.4 L267.3 1034.9 L256.8 1039.6 L245.2 1043.7 L238.2 1050.1 L228.8 1051.2 L219.5 1048.9 L214.2 1047.2 L214.8 1040.8 L211.3 1037.8 L210.2 1030.8 L203.2 1028.5 L193.8 1025.0 L184.5 1021.5 L176.3 1027.3 L172.2 1033.2 L169.9 1030.2 L171.7 1022.7 L168.2 1020.3 L160.0 1022.1 L156.7 1020.5 L147.3 1018.8 L140.3 1013.5 L133.3 1013.5 L131.0 1007.7 L124.0 1004.8 L122.8 1000.7 L114.7 993.7 L112.3 987.8 L105.3 984.3 L103.0 978.5 L94.8 971.5 L90.2 963.3 L82.0 959.2 L76.2 962.8 L71.5 954.0 L65.1 949.3 L61.0 941.2 L54.6 938.2 L52.2 931.8 L54.6 924.8 L52.2 919.6 L53.4 913.2 L58.1 912.6 L59.2 918.4 L64.5 915.5 L65.1 906.2 L62.8 899.2 L64.5 891.0 L64.8 890.8 L69.4 888.5 L63.6 882.7 L61.9 875.8 L63.6 866.1 L57.9 864.4 L49.9 859.8 L47.6 854.0 L41.8 849.4 L44.1 841.4 L40.1 835.6 L37.2 831.0 L29.8 827.0 L30.3 824.2 L37.2 823.0 L38.9 816.1 L40.7 806.4 L31.5 800.6Z M456.7 1184.5 L462.5 1181.6 L471.8 1180.4 L480.0 1179.8 L483.5 1183.3 L482.9 1188.0 L477.7 1195.0 L473.0 1203.2 L466.0 1207.8 L461.3 1210.2 L452.0 1206.1 L447.9 1200.8 L447.9 1192.7 L452.0 1188.0Z M635.7 1087.4 L642.0 1090.2 L640.8 1099.4 L639.1 1114.4 L636.8 1125.8 L632.2 1135.0 L630.5 1141.9 L627.6 1136.2 L620.7 1128.1 L617.9 1117.8 L620.7 1108.6 L625.3 1099.4 L628.8 1091.4Z"/>
<path fill="none" stroke="#000" stroke-width="0.9" stroke-linejoin="round" d="M70.8 885.5 L89.5 877.5 L102.0 882.5 L117.0 880.0 L127.0 886.2 L142.0 890.0 L167.0 886.2 L192.0 885.0 L209.5 893.8 L227.0 898.8 L233.2 882.5 L228.2 876.2 L232.0 868.8 L223.2 860.0 L240.0 857.2 L267.5 852.2 L282.5 856.0 L292.5 864.8 L307.5 872.2 L310.0 861.0 L322.5 866.0 L335.0 872.2 L345.0 881.0 L360.0 888.5 L372.5 898.5 L377.5 913.5 L375.0 926.0 L365.0 936.0 L362.5 946.0 L352.5 951.0 L348.8 948.5 L360.0 958.5 L357.5 964.8 L350.0 966.0 L345.0 973.5 L332.5 968.5 L322.5 961.0 L317.5 949.8 L305.0 948.5 L302.5 961.0 L310.0 976.0 L316.2 991.0 L317.5 1011.0 L316.2 1026.0 L310.0 1038.5 L305.0 1050.0 M362.5 946.0 L365.0 951.0 L375.0 947.2 L385.0 958.5 L393.8 966.0 L400.0 974.8 L415.0 974.8 L430.0 979.8 L440.0 986.0 L460.0 988.5 L462.5 996.0 L470.0 1001.0 L468.8 1008.5 L450.0 1012.2 L447.5 1023.5 L450.0 1021.5 L447.5 1034.0 L457.5 1041.5 L460.0 1059.0 L457.5 1074.0 L450.0 1091.5 L440.0 1097.8 L427.5 1094.0 L417.5 1099.0 L405.0 1101.5 L395.0 1099.0 L387.5 1105.2 L395.0 1109.0 L410.0 1114.0 L411.2 1121.5 L405.0 1127.8 M528.0 820.0 L518.0 827.5 L520.5 845.0 L521.8 862.5 L513.0 875.0 L513.0 885.0 L519.2 897.5 L516.8 912.5 L508.0 930.0 L488.0 938.8 L473.0 945.0 L477.5 958.5 L472.5 968.5 L462.5 969.8 L470.0 978.5 L462.5 981.0 L462.0 988.5 M633.8 667.0 L627.5 689.5 L620.0 712.0 L605.0 728.2 L615.0 737.0 L610.0 749.5 L598.8 754.5 L603.8 767.0 L610.0 779.5 L622.5 782.0 L626.2 794.5 L617.5 804.5 L602.5 812.0 L587.5 822.0 L577.5 815.8 L565.0 822.0 L555.0 814.5 L545.0 822.0 L536.0 824.0 L528.0 820.0 M583.8 639.5 L582.5 649.5 L593.8 652.0 L600.0 664.5 L610.0 667.0 L622.5 659.5 L630.0 664.5 L633.8 669.5"/>
<path fill="none" stroke="#000" stroke-width="1.7" stroke-linejoin="round" d="M657.5 829.5 L653.0 834.0 L644.0 842.0 L640.0 847.0 L630.0 851.0 L622.0 856.0 L616.0 863.0 L612.0 866.0 L606.0 871.0 L604.5 868.5 L610.0 865.0 L610.0 860.0 L607.5 856.0 L609.0 851.0 L612.5 846.0 L615.5 840.5 L611.0 834.5 L609.0 832.5 L602.0 836.0 L599.0 841.0 L594.0 847.0 L587.0 852.0 L582.0 858.0 L579.5 864.0 L573.0 867.0 L566.0 868.0 L562.5 873.0 L562.0 877.0 L565.0 883.0 L570.0 886.0 L577.0 884.5 L580.0 888.0 L580.0 896.0 L585.0 899.5 L591.0 898.0 L595.0 892.0 L602.0 886.5 L610.0 890.0 L620.0 889.5 L627.0 890.5 L626.0 898.0 L620.0 897.0 L612.0 902.0 L606.0 906.5 L604.0 911.0 L599.5 915.0 L593.6 921.8 L590.7 927.7 L587.2 934.6 L589.7 939.0 L602.5 943.5 L607.4 953.3 L613.3 965.1 L614.3 970.0 L620.2 974.0 L621.2 978.9 L627.0 979.9 L629.0 985.8 L625.0 989.7 L630.0 995.6 L625.0 999.6 L619.2 1002.5 L616.3 1007.4 L609.4 1009.4 L614.3 1010.4 L621.2 1008.4 L626.0 1008.0 L633.0 1013.4 L633.0 1019.3 L630.5 1022.5 L631.1 1037.4 L623.0 1042.0 L619.6 1051.2 L615.0 1059.2 L609.2 1066.1 L606.9 1075.3 L606.4 1084.5 L598.9 1092.5 L594.3 1100.6 L586.3 1105.2 L580.5 1114.4 L574.8 1120.1 L566.7 1125.8 L558.7 1132.7 L549.5 1135.0 L539.2 1137.3 L530.0 1142.5 L526.7 1143.7 L522.0 1137.8 L519.7 1133.2 L518.5 1140.2 L515.0 1146.0 L505.7 1153.0 L494.0 1155.9 L482.3 1158.8 L476.5 1157.7 L475.3 1163.5 L470.7 1165.8 L473.6 1170.5 L475.9 1174.6 L468.3 1177.5 L466.0 1174.0 L463.1 1165.8 L466.0 1158.8 L461.3 1155.3 L455.5 1157.1 L446.2 1152.4 L440.3 1156.5 L429.8 1154.2 L425.0 1151.5 M456.7 1184.5 L462.5 1181.6 L471.8 1180.4 L480.0 1179.8 L483.5 1183.3 L482.9 1188.0 L477.7 1195.0 L473.0 1203.2 L466.0 1207.8 L461.3 1210.2 L452.0 1206.1 L447.9 1200.8 L447.9 1192.7 L452.0 1188.0Z"/>
<line x1="655.00" y1="1096.50" x2="653.75" y2="1116.50" stroke="#666" stroke-width="0.90"/>
<line x1="646.25" y1="1144.00" x2="636.25" y2="1160.25" stroke="#666" stroke-width="0.90"/>
<line x1="620.00" y1="1192.75" x2="613.75" y2="1209.00" stroke="#666" stroke-width="0.90"/>
<path d="M728.50 932.00 L728.50 839.10 A92.90 92.90 0 0 0 683.03 1013.01 Z" fill="#5F73FF" stroke="#9fd0ff" stroke-width="0.50" stroke-linejoin="round"/>
<path d="M726.37 940.23 L680.90 1021.24 A92.90 92.90 0 0 0 726.78 1033.13 Z" fill="#CB0404" stroke="#CB0404" stroke-width="0.60" stroke-linejoin="round"/>
<path d="M731.42 939.98 L731.83 1032.88 A92.90 92.90 0 0 0 790.99 1011.27 Z" fill="#ECC46C" stroke="#ECC46C" stroke-width="0.60" stroke-linejoin="round"/>
<path d="M728.50 932.00 L788.08 1003.28 A92.90 92.90 0 0 0 821.34 935.38 Z" fill="#6EFFFF" stroke="#9fd0ff" stroke-width="0.50" stroke-linejoin="round"/>
<path d="M728.50 932.00 L821.34 935.38 A92.90 92.90 0 0 0 728.50 839.10 Z" fill="#4DB8FF" stroke="#9fd0ff" stroke-width="0.50" stroke-linejoin="round"/>
<text x="667.11" y="912.10" font-size="13.20" textLength="24.32" lengthAdjust="spacingAndGlyphs" fill="#000">EPL</text>
<text x="657.87" y="929.20" font-size="13.20" textLength="53.58" lengthAdjust="spacingAndGlyphs" fill="#000">41.86%</text>
<text x="754.46" y="892.80" font-size="13.20" textLength="22.75" lengthAdjust="spacingAndGlyphs" fill="#000">TPL</text>
<text x="743.71" y="910.50" font-size="13.20" textLength="53.94" lengthAdjust="spacingAndGlyphs" fill="#000">25.58%</text>
<text x="763.13" y="950.90" font-size="13.20" textLength="37.08" lengthAdjust="spacingAndGlyphs" fill="#000">NPML</text>
<text x="758.42" y="968.60" font-size="13.20" textLength="53.83" lengthAdjust="spacingAndGlyphs" fill="#000">13.34%</text>
<text x="683.56" y="1027.80" font-size="13.20" textLength="33.05" lengthAdjust="spacingAndGlyphs" fill="#000">YGPL</text>
<text x="682.58" y="1045.00" font-size="13.20" textLength="45.03" lengthAdjust="spacingAndGlyphs" fill="#000">8.21%</text>
<text x="736.55" y="1030.20" font-size="13.20" textLength="34.15" lengthAdjust="spacingAndGlyphs" fill="#000">IMXL</text>
<text x="732.21" y="1047.30" font-size="13.20" textLength="54.04" lengthAdjust="spacingAndGlyphs" fill="#000">11.01%</text>
<rect x="700.70" y="1060.20" width="132" height="152.8" fill="#fff" stroke="none"/>
<clipPath id="ibcpc"><rect x="701.70" y="1061.20" width="130.5" height="151.5"/></clipPath>
<g clip-path="url(#ibcpc)"><g transform="rotate(3.00 702 1061.90) translate(534.750,614.869) scale(0.4250,0.4130)">
<use href="#cells_cpc"/>
<path fill="none" stroke="#8a8a8a" stroke-width="1.3" vector-effect="non-scaling-stroke" stroke-linejoin="round" d="M657.5 829.5 L653.0 834.0 L644.0 842.0 L640.0 847.0 L630.0 851.0 L622.0 856.0 L616.0 863.0 L612.0 866.0 L606.0 871.0 L604.5 868.5 L610.0 865.0 L610.0 860.0 L607.5 856.0 L609.0 851.0 L612.5 846.0 L615.5 840.5 L611.0 834.5 L609.0 832.5 L602.0 836.0 L599.0 841.0 L594.0 847.0 L587.0 852.0 L582.0 858.0 L579.5 864.0 L573.0 867.0 L566.0 868.0 L562.5 873.0 L562.0 877.0 L565.0 883.0 L570.0 886.0 L577.0 884.5 L580.0 888.0 L580.0 896.0 L585.0 899.5 L591.0 898.0 L595.0 892.0 L602.0 886.5 L610.0 890.0 L620.0 889.5 L627.0 890.5 L626.0 898.0 L620.0 897.0 L612.0 902.0 L606.0 906.5 L604.0 911.0 L599.5 915.0 L593.6 921.8 L590.7 927.7 L587.2 934.6 L589.7 939.0 L602.5 943.5 L607.4 953.3 L613.3 965.1 L614.3 970.0 L620.2 974.0 L621.2 978.9 L627.0 979.9 L629.0 985.8 L625.0 989.7 L630.0 995.6 L625.0 999.6 L619.2 1002.5 L616.3 1007.4 L609.4 1009.4 L614.3 1010.4 L621.2 1008.4 L626.0 1008.0 L633.0 1013.4 L633.0 1019.3 L630.5 1022.5 L631.1 1037.4 L623.0 1042.0 L619.6 1051.2 L615.0 1059.2 L609.2 1066.1 L606.9 1075.3 L606.4 1084.5 L598.9 1092.5 L594.3 1100.6 L586.3 1105.2 L580.5 1114.4 L574.8 1120.1 L566.7 1125.8 L558.7 1132.7 L549.5 1135.0 L539.2 1137.3 L530.0 1142.5 L526.7 1143.7 L522.0 1137.8 L519.7 1133.2 L518.5 1140.2 L515.0 1146.0 L505.7 1153.0 L494.0 1155.9 L482.3 1158.8 L476.5 1157.7 L475.3 1163.5 L470.7 1165.8 L473.6 1170.5 L475.9 1174.6 L468.3 1177.5 L466.0 1174.0 L463.1 1165.8 L466.0 1158.8 L461.3 1155.3 L455.5 1157.1 L446.2 1152.4 L440.3 1156.5 L429.8 1154.2 L425.0 1151.5 L421.7 1149.5 L418.2 1142.5 L418.7 1137.7 L413.3 1134.3 L402.7 1128.3 L396.0 1127.0 L386.7 1132.3 M456.7 1184.5 L462.5 1181.6 L471.8 1180.4 L480.0 1179.8 L483.5 1183.3 L482.9 1188.0 L477.7 1195.0 L473.0 1203.2 L466.0 1207.8 L461.3 1210.2 L452.0 1206.1 L447.9 1200.8 L447.9 1192.7 L452.0 1188.0Z M635.7 1087.4 L642.0 1090.2 L640.8 1099.4 L639.1 1114.4 L636.8 1125.8 L632.2 1135.0 L630.5 1141.9 L627.6 1136.2 L620.7 1128.1 L617.9 1117.8 L620.7 1108.6 L625.3 1099.4 L628.8 1091.4Z"/>
</g></g>
<line x1="813.10" y1="1062.70" x2="813.10" y2="1071.20" stroke="#000" stroke-width="2.00" stroke-linecap="round"/>
<line x1="810.40" y1="1083.30" x2="807.00" y2="1090.10" stroke="#000" stroke-width="2.00" stroke-linecap="round"/>
<line x1="799.90" y1="1104.90" x2="798.30" y2="1112.90" stroke="#000" stroke-width="2.00" stroke-linecap="round"/>
<line x1="796.90" y1="1123.70" x2="798.30" y2="1131.80" stroke="#000" stroke-width="2.00" stroke-linecap="round"/>
<line x1="800.30" y1="1150.00" x2="798.30" y2="1158.00" stroke="#000" stroke-width="2.00" stroke-linecap="round"/>
<line x1="783.50" y1="1178.90" x2="779.40" y2="1183.60" stroke="#000" stroke-width="2.00" stroke-linecap="round"/>
<line x1="731.70" y1="1129.10" x2="735.70" y2="1135.80" stroke="#000" stroke-width="2.00" stroke-linecap="round"/>
<line x1="740.10" y1="1153.30" x2="738.80" y2="1162.10" stroke="#000" stroke-width="2.00" stroke-linecap="round"/>
<line x1="725.90" y1="1187.60" x2="726.70" y2="1195.70" stroke="#000" stroke-width="2.00" stroke-linecap="round"/>
<line x1="754.50" y1="1210.50" x2="761.90" y2="1207.20" stroke="#000" stroke-width="2.00" stroke-linecap="round"/>
<path fill="#000" d="M755.2 1105.3h1.7v1.4h-1.7zM761.0 1107.2h1.7v1.4h-1.7zM782.1 1124.0h1.7v1.4h-1.7zM790.2 1131.1h1.7v1.4h-1.7zM774.7 1140.8h1.7v1.4h-1.7zM750.0 1127.4h1.7v1.4h-1.7zM754.7 1126.6h1.7v1.4h-1.7zM750.6 1127.7h1.7v1.4h-1.7zM747.3 1127.0h1.7v1.4h-1.7zM751.8 1129.5h1.7v1.4h-1.7zM746.4 1125.1h1.7v1.4h-1.7zM746.4 1129.7h1.7v1.4h-1.7zM752.4 1122.8h1.7v1.4h-1.7zM755.3 1131.1h1.7v1.4h-1.7zM752.0 1127.9h1.7v1.4h-1.7zM747.1 1122.5h1.7v1.4h-1.7zM750.8 1122.9h1.7v1.4h-1.7zM744.2 1171.8h1.7v1.4h-1.7zM762.6 1179.0h1.7v1.4h-1.7zM768.6 1171.4h1.7v1.4h-1.7zM774.2 1163.5h1.7v1.4h-1.7zM800.8 1164.6h1.7v1.4h-1.7zM774.8 1161.4h1.7v1.4h-1.7zM747.5 1182.4h1.7v1.4h-1.7zM764.7 1172.5h1.7v1.4h-1.7zM796.5 1150.5h1.7v1.4h-1.7zM754.7 1179.2h1.7v1.4h-1.7zM791.4 1151.2h1.7v1.4h-1.7zM776.8 1164.3h1.7v1.4h-1.7zM739.6 1191.4h1.7v1.4h-1.7zM774.9 1160.4h1.7v1.4h-1.7zM736.6 1188.0h1.7v1.4h-1.7zM748.0 1179.7h1.7v1.4h-1.7zM751.1 1173.6h1.7v1.4h-1.7zM768.3 1166.6h1.7v1.4h-1.7zM745.9 1188.1h1.7v1.4h-1.7zM780.1 1170.6h1.7v1.4h-1.7zM747.5 1186.1h1.7v1.4h-1.7zM768.0 1176.9h1.7v1.4h-1.7zM745.8 1184.6h1.7v1.4h-1.7zM752.9 1168.8h1.7v1.4h-1.7zM743.3 1178.3h1.7v1.4h-1.7zM769.5 1168.3h1.7v1.4h-1.7zM791.4 1160.8h1.7v1.4h-1.7zM782.0 1155.8h1.7v1.4h-1.7zM793.2 1156.4h1.7v1.4h-1.7zM751.2 1188.2h1.7v1.4h-1.7zM754.5 1187.0h1.7v1.4h-1.7zM770.3 1162.0h1.7v1.4h-1.7zM745.7 1179.6h1.7v1.4h-1.7zM773.8 1172.2h1.7v1.4h-1.7zM768.1 1163.5h1.7v1.4h-1.7zM772.0 1161.1h1.7v1.4h-1.7zM773.8 1172.4h1.7v1.4h-1.7zM758.8 1172.5h1.7v1.4h-1.7zM734.7 1184.0h1.7v1.4h-1.7zM735.9 1181.4h1.7v1.4h-1.7zM764.5 1167.5h1.7v1.4h-1.7zM794.5 1164.2h1.7v1.4h-1.7zM777.6 1160.3h1.7v1.4h-1.7zM732.3 1191.8h1.7v1.4h-1.7zM783.4 1157.9h1.7v1.4h-1.7zM773.0 1172.4h1.7v1.4h-1.7zM762.2 1169.1h1.7v1.4h-1.7zM771.4 1177.9h1.7v1.4h-1.7zM781.9 1170.8h1.7v1.4h-1.7zM787.1 1164.0h1.7v1.4h-1.7zM793.5 1159.6h1.7v1.4h-1.7zM787.1 1165.4h1.7v1.4h-1.7zM771.0 1170.0h1.7v1.4h-1.7zM765.8 1171.5h1.7v1.4h-1.7zM798.9 1162.7h1.7v1.4h-1.7zM766.9 1167.7h1.7v1.4h-1.7zM768.8 1163.6h1.7v1.4h-1.7zM771.4 1158.6h1.7v1.4h-1.7zM770.5 1157.8h1.7v1.4h-1.7zM769.0 1164.1h1.7v1.4h-1.7zM765.3 1167.2h1.7v1.4h-1.7zM768.0 1166.0h1.7v1.4h-1.7zM772.2 1161.0h1.7v1.4h-1.7zM763.1 1161.6h1.7v1.4h-1.7zM769.8 1160.2h1.7v1.4h-1.7zM764.7 1170.1h1.7v1.4h-1.7zM769.6 1163.6h1.7v1.4h-1.7zM771.9 1162.0h1.7v1.4h-1.7zM769.7 1160.2h1.7v1.4h-1.7zM767.3 1168.7h1.7v1.4h-1.7zM772.1 1169.7h1.7v1.4h-1.7zM766.8 1165.6h1.7v1.4h-1.7zM766.2 1159.3h1.7v1.4h-1.7z"/>
<ellipse cx="766" cy="1129.1" rx="3.6" ry="1.7" transform="rotate(-28 766 1129.1)" fill="none" stroke="#000" stroke-width="1.1"/>
<path d="M757 1198.9 l2 -5 l1.5 5 l2 1z M756 1206.4 l6 -2" fill="#000" stroke="#000" stroke-width="1"/>
<path d="M700.25 1212.90V1059.85H832.5" fill="none" stroke="#000" stroke-width="1.70"/>
<rect x="17.25" y="627.60" width="814.65" height="586.90" fill="none" stroke="#000" stroke-width="2.6"/>
<line x1="53.30" y1="623.00" x2="53.30" y2="627.50" stroke="#000" stroke-width="1.40"/>
<line x1="165.00" y1="623.00" x2="165.00" y2="627.50" stroke="#000" stroke-width="1.40"/>
<line x1="269.30" y1="623.00" x2="269.30" y2="627.50" stroke="#000" stroke-width="1.40"/>
<line x1="369.30" y1="623.00" x2="369.30" y2="627.50" stroke="#000" stroke-width="1.40"/>
<line x1="467.80" y1="623.00" x2="467.80" y2="627.50" stroke="#000" stroke-width="1.40"/>
<line x1="566.80" y1="623.00" x2="566.80" y2="627.50" stroke="#000" stroke-width="1.40"/>
<line x1="665.90" y1="623.00" x2="665.90" y2="627.50" stroke="#000" stroke-width="1.40"/>
<line x1="770.40" y1="623.00" x2="770.40" y2="627.50" stroke="#000" stroke-width="1.40"/>
<text x="36.47" y="622.80" font-size="13.20" textLength="33.97" lengthAdjust="spacingAndGlyphs" fill="#000">70°E</text>
<text x="148.28" y="622.80" font-size="13.20" textLength="33.97" lengthAdjust="spacingAndGlyphs" fill="#000">80°E</text>
<text x="252.61" y="622.80" font-size="13.20" textLength="33.97" lengthAdjust="spacingAndGlyphs" fill="#000">90°E</text>
<text x="347.81" y="622.80" font-size="13.20" textLength="42.96" lengthAdjust="spacingAndGlyphs" fill="#000">100°E</text>
<text x="446.31" y="622.80" font-size="13.20" textLength="42.96" lengthAdjust="spacingAndGlyphs" fill="#000">110°E</text>
<text x="545.31" y="622.80" font-size="13.20" textLength="42.96" lengthAdjust="spacingAndGlyphs" fill="#000">120°E</text>
<text x="644.41" y="622.80" font-size="13.20" textLength="42.96" lengthAdjust="spacingAndGlyphs" fill="#000">130°E</text>
<text x="748.91" y="622.80" font-size="13.20" textLength="42.96" lengthAdjust="spacingAndGlyphs" fill="#000">140°E</text>
<line x1="149.50" y1="1215.00" x2="149.50" y2="1219.00" stroke="#000" stroke-width="1.40"/>
<line x1="309.80" y1="1215.00" x2="309.80" y2="1219.00" stroke="#000" stroke-width="1.40"/>
<line x1="468.00" y1="1215.00" x2="468.00" y2="1219.00" stroke="#000" stroke-width="1.40"/>
<line x1="624.80" y1="1215.00" x2="624.80" y2="1219.00" stroke="#000" stroke-width="1.40"/>
<line x1="785.00" y1="1215.00" x2="785.00" y2="1219.00" stroke="#000" stroke-width="1.40"/>
<line x1="10.50" y1="769.80" x2="16.50" y2="769.80" stroke="#000" stroke-width="1.40"/>
<text transform="translate(11.40,786.82) rotate(-90)" font-size="13.20" textLength="34.74" lengthAdjust="spacingAndGlyphs">40°N</text>
<line x1="10.50" y1="943.40" x2="16.50" y2="943.40" stroke="#000" stroke-width="1.40"/>
<text transform="translate(11.40,960.85) rotate(-90)" font-size="13.20" textLength="35.18" lengthAdjust="spacingAndGlyphs">30°N</text>
<line x1="10.50" y1="1112.60" x2="16.50" y2="1112.60" stroke="#000" stroke-width="1.40"/>
<text transform="translate(11.40,1129.97) rotate(-90)" font-size="13.20" textLength="35.11" lengthAdjust="spacingAndGlyphs">20°N</text>
<line x1="832.80" y1="631.00" x2="838.20" y2="631.00" stroke="#000" stroke-width="1.80"/>
<line x1="832.80" y1="801.00" x2="838.20" y2="801.00" stroke="#000" stroke-width="1.80"/>
<line x1="832.80" y1="970.75" x2="838.20" y2="970.75" stroke="#000" stroke-width="1.80"/>
<line x1="832.80" y1="1137.00" x2="838.20" y2="1137.00" stroke="#000" stroke-width="1.80"/>
<text x="25.81" y="665.00" font-size="39.00" textLength="22.02" lengthAdjust="spacingAndGlyphs" font-weight="bold" fill="#000">c</text>
<text x="340.14" y="706.25" font-size="27.40" textLength="136.45" lengthAdjust="spacingAndGlyphs" fill="#000">Year 2015</text>
<text x="209.63" y="843.00" font-size="22.90" textLength="59.87" lengthAdjust="spacingAndGlyphs" fill="#000">IMXL</text>
<text x="234.62" y="963.75" font-size="22.90" textLength="42.40" lengthAdjust="spacingAndGlyphs" fill="#000">TPL</text>
<text x="356.37" y="1050.25" font-size="22.90" textLength="58.66" lengthAdjust="spacingAndGlyphs" fill="#000">YGPL</text>
<text x="516.94" y="963.75" font-size="22.90" textLength="43.61" lengthAdjust="spacingAndGlyphs" fill="#000">EPL</text>
<text x="631.44" y="744.50" font-size="22.90" textLength="67.33" lengthAdjust="spacingAndGlyphs" fill="#000">NPML</text>
<text x="20.08" y="1051.90" font-size="20.00" textLength="168.65" lengthAdjust="spacingAndGlyphs" fill="#000">POC stock (t C)</text>
<rect x="21.2" y="1061.7" width="32.9" height="18.3" fill="#D3FFBE" stroke="#b4b4b4" stroke-width="0.8"/>
<rect x="21.2" y="1087.2" width="32.9" height="18.3" fill="#A3FF73" stroke="#b4b4b4" stroke-width="0.8"/>
<rect x="21.2" y="1112.7" width="32.9" height="18.3" fill="#55FF00" stroke="#b4b4b4" stroke-width="0.8"/>
<rect x="21.2" y="1138.2" width="32.9" height="18.3" fill="#4CE600" stroke="#b4b4b4" stroke-width="0.8"/>
<rect x="21.2" y="1163.7" width="32.9" height="18.3" fill="#38A800" stroke="#b4b4b4" stroke-width="0.8"/>
<rect x="21.2" y="1189.2" width="32.9" height="18.3" fill="#267300" stroke="#b4b4b4" stroke-width="0.8"/>
<text x="60.74" y="1078.30" font-size="17.70" textLength="114.33" lengthAdjust="spacingAndGlyphs" fill="#000">(0.16, 9.11]</text>
<text x="60.74" y="1103.70" font-size="17.70" textLength="126.72" lengthAdjust="spacingAndGlyphs" fill="#000">(9.11, 40.47]</text>
<text x="60.74" y="1129.10" font-size="17.70" textLength="151.50" lengthAdjust="spacingAndGlyphs" fill="#000">(40.47, 145.88]</text>
<text x="60.74" y="1154.50" font-size="17.70" textLength="163.90" lengthAdjust="spacingAndGlyphs" fill="#000">(145.88, 487.92]</text>
<text x="60.74" y="1179.90" font-size="17.70" textLength="182.48" lengthAdjust="spacingAndGlyphs" fill="#000">(487.92, 2,113.18]</text>
<text x="60.74" y="1205.30" font-size="17.70" textLength="136.84" lengthAdjust="spacingAndGlyphs" fill="#000">( &gt; 2,113.18 )</text>
<path d="M273.75 1191.4V1202.75H375.5V1191.4 M324.5 1196.4V1202.75" fill="none" stroke="#000" stroke-width="1.9"/>
<text x="268.87" y="1186.80" font-size="15.60" textLength="11.02" lengthAdjust="spacingAndGlyphs" fill="#000">0</text>
<text x="309.33" y="1186.80" font-size="15.60" textLength="29.66" lengthAdjust="spacingAndGlyphs" fill="#000">350</text>
<text x="360.00" y="1186.80" font-size="15.60" textLength="29.74" lengthAdjust="spacingAndGlyphs" fill="#000">700</text>
<text x="398.61" y="1186.80" font-size="15.60" textLength="23.92" lengthAdjust="spacingAndGlyphs" fill="#000">km</text>
<g transform="translate(-0.9,0)">
<g transform="translate(0,609.30)" stroke="#000" fill="#fff" stroke-linejoin="round">
<path d="M800 100 L799 112.5 L803.2 111.3 L807.4 112.8 L806.4 100Z" stroke-width="1.3"/>
<path d="M785.3 87.2 L803 79 L820 86.7 L802 100.7Z" stroke-width="1.6"/>
<path d="M789.5 88.2 L802 97.6 L816 87.6 M792.5 87 L802 94.3 L812.5 86.6" fill="none" stroke-width="1.2" stroke-dasharray="1.3 1.5"/>
<path d="M786.2 79.5 L804 71.5 L821.4 79 L803.4 92.1Z" stroke-width="1.6"/>
<path d="M789.5 79.8 L803.4 90.2 L818 79.6 L815 78.6 L803.4 85.6 L792.5 78.6Z" fill="#111" stroke-width="0.6"/>
<path d="M786.2 71.4 L806 64.6 L821 71 L803.4 84Z" stroke-width="1.6"/>
<path d="M790.5 71.6 Q794 69.6 796 72.2 T800.5 74.6 Q803.8 75.2 803 78 T804.5 81.2 M808 67.6 Q806.2 70.4 809.4 71.8 T814.6 72 Q816.5 70.5 818 71.5 M797.5 68.8 Q800 70.8 803.5 69.8 T808 73.5 Q810 75.5 808 77.5 M793.5 73.6 Q796.5 75.8 799 75.2 M811 75 Q809.5 76.5 806.5 76.5" fill="none" stroke-width="1.05"/>
<path d="M803.4 47.5 L810.3 59.2 L806 59.2 L806 70 L800.3 70 L800.3 59.2 L795.7 59.2Z" stroke-width="1.3"/>
</g>
<text x="792.3" y="656.20" font-size="24.5" font-style="italic" textLength="19.6" lengthAdjust="spacingAndGlyphs" stroke="#000" stroke-width="0.45">N</text>
</g>
<line x1="932.23" y1="69.45" x2="932.23" y2="600.80" stroke="#d0d0d0" stroke-width="0.90" stroke-dasharray="1.8 1.8"/>
<line x1="958.32" y1="69.45" x2="958.32" y2="600.80" stroke="#d0d0d0" stroke-width="0.90" stroke-dasharray="1.8 1.8"/>
<line x1="973.57" y1="69.45" x2="973.57" y2="600.80" stroke="#d0d0d0" stroke-width="0.90" stroke-dasharray="1.8 1.8"/>
<line x1="1018.88" y1="69.45" x2="1018.88" y2="600.80" stroke="#d0d0d0" stroke-width="0.90" stroke-dasharray="1.8 1.8"/>
<line x1="1044.97" y1="69.45" x2="1044.97" y2="600.80" stroke="#d0d0d0" stroke-width="0.90" stroke-dasharray="1.8 1.8"/>
<line x1="1060.22" y1="69.45" x2="1060.22" y2="600.80" stroke="#d0d0d0" stroke-width="0.90" stroke-dasharray="1.8 1.8"/>
<line x1="984.40" y1="69.45" x2="984.40" y2="600.80" stroke="#F5D48C" stroke-width="1.80" stroke-dasharray="5.2 5.1"/>
<line x1="1105.53" y1="69.45" x2="1105.53" y2="600.80" stroke="#d0d0d0" stroke-width="0.90" stroke-dasharray="1.8 1.8"/>
<line x1="1131.62" y1="69.45" x2="1131.62" y2="600.80" stroke="#d0d0d0" stroke-width="0.90" stroke-dasharray="1.8 1.8"/>
<line x1="1146.87" y1="69.45" x2="1146.87" y2="600.80" stroke="#d0d0d0" stroke-width="0.90" stroke-dasharray="1.8 1.8"/>
<line x1="1071.05" y1="69.45" x2="1071.05" y2="600.80" stroke="#F5D48C" stroke-width="1.80" stroke-dasharray="5.2 5.1"/>
<line x1="1192.18" y1="69.45" x2="1192.18" y2="600.80" stroke="#d0d0d0" stroke-width="0.90" stroke-dasharray="1.8 1.8"/>
<line x1="1157.70" y1="69.45" x2="1157.70" y2="600.80" stroke="#F5D48C" stroke-width="1.80" stroke-dasharray="5.2 5.1"/>
<pattern id="hb0" patternUnits="userSpaceOnUse" width="14.50" height="14.50" x="957.93" y="91.85"><path d="M-2 16.50L16.50 -2M-2 2L2 -2M12.50 16.50L16.50 12.50" stroke="#B38B24" stroke-width="1.6" fill="none"/></pattern>
<path d="M898.35 91.85H957.93V125.45H898.35" fill="url(#hb0)" stroke="#B38B24" stroke-width="2"/>
<text x="961.25" y="115.70" font-size="19.20" textLength="62.60" lengthAdjust="spacingAndGlyphs" fill="#000">0.44%</text>
<pattern id="hb1" patternUnits="userSpaceOnUse" width="14.50" height="14.50" x="970.84" y="147.15"><path d="M-2 16.50L16.50 -2M-2 2L2 -2M12.50 16.50L16.50 12.50" stroke="#B38B24" stroke-width="1.6" fill="none"/></pattern>
<path d="M898.35 147.15H970.84V180.75H898.35" fill="url(#hb1)" stroke="#B38B24" stroke-width="2"/>
<text x="974.16" y="171.00" font-size="19.20" textLength="62.60" lengthAdjust="spacingAndGlyphs" fill="#000">0.62%</text>
<pattern id="hb2" patternUnits="userSpaceOnUse" width="14.50" height="14.50" x="980.43" y="202.45"><path d="M-2 16.50L16.50 -2M-2 2L2 -2M12.50 16.50L16.50 12.50" stroke="#B38B24" stroke-width="1.6" fill="none"/></pattern>
<path d="M898.35 202.45H980.43V236.05H898.35" fill="url(#hb2)" stroke="#B38B24" stroke-width="2"/>
<text x="983.75" y="226.30" font-size="19.20" textLength="62.60" lengthAdjust="spacingAndGlyphs" fill="#000">0.80%</text>
<pattern id="hb3" patternUnits="userSpaceOnUse" width="14.50" height="14.50" x="1120.68" y="257.75"><path d="M-2 16.50L16.50 -2M-2 2L2 -2M12.50 16.50L16.50 12.50" stroke="#B38B24" stroke-width="1.6" fill="none"/></pattern>
<path d="M898.35 257.75H1120.68V291.35H898.35" fill="url(#hb3)" stroke="#B38B24" stroke-width="2"/>
<text x="1123.93" y="279.35" font-size="15.40" textLength="63.64" lengthAdjust="spacingAndGlyphs" fill="#000">33.24%</text>
<pattern id="hb4" patternUnits="userSpaceOnUse" width="14.50" height="14.50" x="1141.83" y="313.05"><path d="M-2 16.50L16.50 -2M-2 2L2 -2M12.50 16.50L16.50 12.50" stroke="#B38B24" stroke-width="1.6" fill="none"/></pattern>
<path d="M898.35 313.05H1141.83V346.65H898.35" fill="url(#hb4)" stroke="#B38B24" stroke-width="2"/>
<text x="1144.74" y="334.95" font-size="12.90" textLength="52.93" lengthAdjust="spacingAndGlyphs" fill="#000">58.31%</text>
<pattern id="hb5" patternUnits="userSpaceOnUse" width="14.50" height="14.50" x="1010.53" y="368.35"><path d="M-2 16.50L16.50 -2M-2 2L2 -2M12.50 16.50L16.50 12.50" stroke="#B38B24" stroke-width="1.6" fill="none"/></pattern>
<path d="M898.35 368.35H1010.53V401.95H898.35" fill="url(#hb5)" stroke="#B38B24" stroke-width="2"/>
<text x="1013.06" y="392.20" font-size="19.20" textLength="62.60" lengthAdjust="spacingAndGlyphs" fill="#000">1.78%</text>
<pattern id="hb6" patternUnits="userSpaceOnUse" width="14.50" height="14.50" x="991.37" y="423.65"><path d="M-2 16.50L16.50 -2M-2 2L2 -2M12.50 16.50L16.50 12.50" stroke="#B38B24" stroke-width="1.6" fill="none"/></pattern>
<path d="M898.35 423.65H991.37V457.25H898.35" fill="url(#hb6)" stroke="#B38B24" stroke-width="2"/>
<text x="993.90" y="447.50" font-size="19.20" textLength="62.60" lengthAdjust="spacingAndGlyphs" fill="#000">1.07%</text>
<pattern id="hb7" patternUnits="userSpaceOnUse" width="14.50" height="14.50" x="950.38" y="478.95"><path d="M-2 16.50L16.50 -2M-2 2L2 -2M12.50 16.50L16.50 12.50" stroke="#B38B24" stroke-width="1.6" fill="none"/></pattern>
<path d="M898.35 478.95H950.38V512.55H898.35" fill="url(#hb7)" stroke="#B38B24" stroke-width="2"/>
<text x="953.70" y="502.80" font-size="19.20" textLength="62.60" lengthAdjust="spacingAndGlyphs" fill="#000">0.36%</text>
<pattern id="hb8" patternUnits="userSpaceOnUse" width="14.50" height="14.50" x="950.38" y="534.25"><path d="M-2 16.50L16.50 -2M-2 2L2 -2M12.50 16.50L16.50 12.50" stroke="#B38B24" stroke-width="1.6" fill="none"/></pattern>
<path d="M898.35 534.25H950.38V567.85H898.35" fill="url(#hb8)" stroke="#B38B24" stroke-width="2"/>
<text x="953.70" y="558.10" font-size="19.20" textLength="62.60" lengthAdjust="spacingAndGlyphs" fill="#000">0.36%</text>
<rect x="897.75" y="69.45" width="301.65" height="531.35" fill="none" stroke="#222" stroke-width="1.3"/>
<line x1="897.75" y1="61.45" x2="897.75" y2="69.45" stroke="#222" stroke-width="1.20"/>
<line x1="932.23" y1="65.25" x2="932.23" y2="69.45" stroke="#222" stroke-width="0.90"/>
<line x1="958.32" y1="65.25" x2="958.32" y2="69.45" stroke="#222" stroke-width="0.90"/>
<line x1="973.57" y1="65.25" x2="973.57" y2="69.45" stroke="#222" stroke-width="0.90"/>
<line x1="984.40" y1="61.45" x2="984.40" y2="69.45" stroke="#222" stroke-width="1.20"/>
<line x1="1018.88" y1="65.25" x2="1018.88" y2="69.45" stroke="#222" stroke-width="0.90"/>
<line x1="1044.97" y1="65.25" x2="1044.97" y2="69.45" stroke="#222" stroke-width="0.90"/>
<line x1="1060.22" y1="65.25" x2="1060.22" y2="69.45" stroke="#222" stroke-width="0.90"/>
<line x1="1071.05" y1="61.45" x2="1071.05" y2="69.45" stroke="#222" stroke-width="1.20"/>
<line x1="1105.53" y1="65.25" x2="1105.53" y2="69.45" stroke="#222" stroke-width="0.90"/>
<line x1="1131.62" y1="65.25" x2="1131.62" y2="69.45" stroke="#222" stroke-width="0.90"/>
<line x1="1146.87" y1="65.25" x2="1146.87" y2="69.45" stroke="#222" stroke-width="0.90"/>
<line x1="1157.70" y1="61.45" x2="1157.70" y2="69.45" stroke="#222" stroke-width="1.20"/>
<line x1="1192.18" y1="65.25" x2="1192.18" y2="69.45" stroke="#222" stroke-width="0.90"/>
<text x="875.16" y="53.50" font-size="19.50" textLength="46.02" lengthAdjust="spacingAndGlyphs" fill="#000">0.09</text>
<text x="961.81" y="53.50" font-size="19.50" textLength="46.02" lengthAdjust="spacingAndGlyphs" fill="#000">0.89</text>
<text x="1048.46" y="53.50" font-size="19.50" textLength="46.02" lengthAdjust="spacingAndGlyphs" fill="#000">8.89</text>
<text x="1128.54" y="53.50" font-size="19.50" textLength="59.17" lengthAdjust="spacingAndGlyphs" fill="#000">88.89</text>
<text x="904.98" y="24.70" font-size="19.60" textLength="285.74" lengthAdjust="spacingAndGlyphs" fill="#000">Lake number proportion (%)</text>
<line x1="889.35" y1="81.00" x2="897.75" y2="81.00" stroke="#222" stroke-width="1.20"/>
<text transform="translate(883.45,103.71) rotate(-90)" font-size="19.60" textLength="45.82" lengthAdjust="spacingAndGlyphs">-200</text>
<line x1="889.35" y1="136.30" x2="897.75" y2="136.30" stroke="#222" stroke-width="1.20"/>
<text transform="translate(883.45,159.01) rotate(-90)" font-size="19.60" textLength="45.82" lengthAdjust="spacingAndGlyphs">-150</text>
<line x1="889.35" y1="191.60" x2="897.75" y2="191.60" stroke="#222" stroke-width="1.20"/>
<text transform="translate(883.45,214.31) rotate(-90)" font-size="19.60" textLength="45.82" lengthAdjust="spacingAndGlyphs">-100</text>
<line x1="889.35" y1="246.90" x2="897.75" y2="246.90" stroke="#222" stroke-width="1.20"/>
<text transform="translate(883.45,263.15) rotate(-90)" font-size="19.60" textLength="32.97" lengthAdjust="spacingAndGlyphs">-50</text>
<line x1="889.35" y1="302.20" x2="897.75" y2="302.20" stroke="#222" stroke-width="1.20"/>
<text transform="translate(883.45,308.61) rotate(-90)" font-size="19.60" textLength="12.84" lengthAdjust="spacingAndGlyphs">0</text>
<line x1="889.35" y1="357.50" x2="897.75" y2="357.50" stroke="#222" stroke-width="1.20"/>
<text transform="translate(883.45,370.42) rotate(-90)" font-size="19.60" textLength="25.69" lengthAdjust="spacingAndGlyphs">50</text>
<line x1="889.35" y1="412.80" x2="897.75" y2="412.80" stroke="#222" stroke-width="1.20"/>
<text transform="translate(883.45,432.48) rotate(-90)" font-size="19.60" textLength="38.53" lengthAdjust="spacingAndGlyphs">100</text>
<line x1="889.35" y1="468.10" x2="897.75" y2="468.10" stroke="#222" stroke-width="1.20"/>
<text transform="translate(883.45,487.78) rotate(-90)" font-size="19.60" textLength="38.53" lengthAdjust="spacingAndGlyphs">150</text>
<line x1="889.35" y1="523.40" x2="897.75" y2="523.40" stroke="#222" stroke-width="1.20"/>
<text transform="translate(883.45,542.73) rotate(-90)" font-size="19.60" textLength="38.53" lengthAdjust="spacingAndGlyphs">200</text>
<line x1="889.35" y1="578.70" x2="897.75" y2="578.70" stroke="#222" stroke-width="1.20"/>
<text transform="translate(883.45,598.03) rotate(-90)" font-size="19.60" textLength="38.53" lengthAdjust="spacingAndGlyphs">250</text>
<text transform="translate(857.40,599.61) rotate(-90) scale(0.9958,1)" font-size="20.30">Changes of DOC storage during 1984-2023 (t C yr<tspan font-size="14.21" dy="-7.5">-1</tspan><tspan dy="7.5">)</tspan></text>
<text x="1165.11" y="589.70" font-size="36.50" textLength="25.87" lengthAdjust="spacingAndGlyphs" font-weight="bold" fill="#000">b</text>
<line x1="930.86" y1="678.20" x2="930.86" y2="1209.10" stroke="#d0d0d0" stroke-width="0.90" stroke-dasharray="1.8 1.8"/>
<line x1="957.01" y1="678.20" x2="957.01" y2="1209.10" stroke="#d0d0d0" stroke-width="0.90" stroke-dasharray="1.8 1.8"/>
<line x1="972.30" y1="678.20" x2="972.30" y2="1209.10" stroke="#d0d0d0" stroke-width="0.90" stroke-dasharray="1.8 1.8"/>
<line x1="1017.71" y1="678.20" x2="1017.71" y2="1209.10" stroke="#d0d0d0" stroke-width="0.90" stroke-dasharray="1.8 1.8"/>
<line x1="1043.86" y1="678.20" x2="1043.86" y2="1209.10" stroke="#d0d0d0" stroke-width="0.90" stroke-dasharray="1.8 1.8"/>
<line x1="1059.15" y1="678.20" x2="1059.15" y2="1209.10" stroke="#d0d0d0" stroke-width="0.90" stroke-dasharray="1.8 1.8"/>
<line x1="983.15" y1="678.20" x2="983.15" y2="1209.10" stroke="#8CF58C" stroke-width="1.80" stroke-dasharray="5.2 5.1"/>
<line x1="1104.56" y1="678.20" x2="1104.56" y2="1209.10" stroke="#d0d0d0" stroke-width="0.90" stroke-dasharray="1.8 1.8"/>
<line x1="1130.71" y1="678.20" x2="1130.71" y2="1209.10" stroke="#d0d0d0" stroke-width="0.90" stroke-dasharray="1.8 1.8"/>
<line x1="1146.00" y1="678.20" x2="1146.00" y2="1209.10" stroke="#d0d0d0" stroke-width="0.90" stroke-dasharray="1.8 1.8"/>
<line x1="1070.00" y1="678.20" x2="1070.00" y2="1209.10" stroke="#8CF58C" stroke-width="1.80" stroke-dasharray="5.2 5.1"/>
<line x1="1191.41" y1="678.20" x2="1191.41" y2="1209.10" stroke="#d0d0d0" stroke-width="0.90" stroke-dasharray="1.8 1.8"/>
<line x1="1156.85" y1="678.20" x2="1156.85" y2="1209.10" stroke="#8CF58C" stroke-width="1.80" stroke-dasharray="5.2 5.1"/>
<pattern id="hd0" patternUnits="userSpaceOnUse" width="15.30" height="15.30" x="1112.79" y="767.84"><path d="M-2 17.30L17.30 -2M-2 2L2 -2M13.30 17.30L17.30 13.30" stroke="#109610" stroke-width="1.6" fill="none"/></pattern>
<path d="M896.90 767.84H1112.79V799.84H896.90" fill="url(#hd0)" stroke="#109610" stroke-width="2"/>
<text x="1116.03" y="791.69" font-size="19.00" textLength="74.09" lengthAdjust="spacingAndGlyphs" fill="#000">28.09%</text>
<pattern id="hd1" patternUnits="userSpaceOnUse" width="15.30" height="15.30" x="1146.48" y="821.06"><path d="M-2 17.30L17.30 -2M-2 2L2 -2M13.30 17.30L17.30 13.30" stroke="#109610" stroke-width="1.6" fill="none"/></pattern>
<path d="M896.90 821.06H1146.48V853.06H896.90" fill="url(#hd1)" stroke="#109610" stroke-width="2"/>
<text x="1148.16" y="842.91" font-size="12.00" textLength="48.09" lengthAdjust="spacingAndGlyphs" fill="#000">68.62%</text>
<pattern id="hd2" patternUnits="userSpaceOnUse" width="15.30" height="15.30" x="982.59" y="874.27"><path d="M-2 17.30L17.30 -2M-2 2L2 -2M13.30 17.30L17.30 13.30" stroke="#109610" stroke-width="1.6" fill="none"/></pattern>
<path d="M896.90 874.27H982.59V906.27H896.90" fill="url(#hd2)" stroke="#109610" stroke-width="2"/>
<text x="985.93" y="898.12" font-size="19.00" textLength="61.73" lengthAdjust="spacingAndGlyphs" fill="#000">0.89%</text>
<pattern id="hd3" patternUnits="userSpaceOnUse" width="15.30" height="15.30" x="974.07" y="927.48"><path d="M-2 17.30L17.30 -2M-2 2L2 -2M13.30 17.30L17.30 13.30" stroke="#109610" stroke-width="1.6" fill="none"/></pattern>
<path d="M896.90 927.48H974.07V959.48H896.90" fill="url(#hd3)" stroke="#109610" stroke-width="2"/>
<text x="977.41" y="951.33" font-size="19.00" textLength="61.73" lengthAdjust="spacingAndGlyphs" fill="#000">0.71%</text>
<pattern id="hd4" patternUnits="userSpaceOnUse" width="15.30" height="15.30" x="963.04" y="980.69"><path d="M-2 17.30L17.30 -2M-2 2L2 -2M13.30 17.30L17.30 13.30" stroke="#109610" stroke-width="1.6" fill="none"/></pattern>
<path d="M896.90 980.69H963.04V1012.69H896.90" fill="url(#hd4)" stroke="#109610" stroke-width="2"/>
<text x="966.38" y="1004.54" font-size="19.00" textLength="61.73" lengthAdjust="spacingAndGlyphs" fill="#000">0.53%</text>
<pattern id="hd5" patternUnits="userSpaceOnUse" width="15.30" height="15.30" x="937.60" y="1033.90"><path d="M-2 17.30L17.30 -2M-2 2L2 -2M13.30 17.30L17.30 13.30" stroke="#109610" stroke-width="1.6" fill="none"/></pattern>
<path d="M896.90 1033.90H937.60V1065.90H896.90" fill="url(#hd5)" stroke="#109610" stroke-width="2"/>
<text x="940.94" y="1057.75" font-size="19.00" textLength="61.73" lengthAdjust="spacingAndGlyphs" fill="#000">0.27%</text>
<pattern id="hd6" patternUnits="userSpaceOnUse" width="15.30" height="15.30" x="922.31" y="1140.33"><path d="M-2 17.30L17.30 -2M-2 2L2 -2M13.30 17.30L17.30 13.30" stroke="#109610" stroke-width="1.6" fill="none"/></pattern>
<path d="M896.90 1140.33H922.31V1172.33H896.90" fill="url(#hd6)" stroke="#109610" stroke-width="2"/>
<text x="925.65" y="1164.18" font-size="19.00" textLength="61.73" lengthAdjust="spacingAndGlyphs" fill="#000">0.18%</text>
<rect x="896.30" y="678.20" width="301.20" height="530.90" fill="none" stroke="#222" stroke-width="1.3"/>
<line x1="896.30" y1="670.20" x2="896.30" y2="678.20" stroke="#222" stroke-width="1.20"/>
<line x1="930.86" y1="674.00" x2="930.86" y2="678.20" stroke="#222" stroke-width="0.90"/>
<line x1="957.01" y1="674.00" x2="957.01" y2="678.20" stroke="#222" stroke-width="0.90"/>
<line x1="972.30" y1="674.00" x2="972.30" y2="678.20" stroke="#222" stroke-width="0.90"/>
<line x1="983.15" y1="670.20" x2="983.15" y2="678.20" stroke="#222" stroke-width="1.20"/>
<line x1="1017.71" y1="674.00" x2="1017.71" y2="678.20" stroke="#222" stroke-width="0.90"/>
<line x1="1043.86" y1="674.00" x2="1043.86" y2="678.20" stroke="#222" stroke-width="0.90"/>
<line x1="1059.15" y1="674.00" x2="1059.15" y2="678.20" stroke="#222" stroke-width="0.90"/>
<line x1="1070.00" y1="670.20" x2="1070.00" y2="678.20" stroke="#222" stroke-width="1.20"/>
<line x1="1104.56" y1="674.00" x2="1104.56" y2="678.20" stroke="#222" stroke-width="0.90"/>
<line x1="1130.71" y1="674.00" x2="1130.71" y2="678.20" stroke="#222" stroke-width="0.90"/>
<line x1="1146.00" y1="674.00" x2="1146.00" y2="678.20" stroke="#222" stroke-width="0.90"/>
<line x1="1156.85" y1="670.20" x2="1156.85" y2="678.20" stroke="#222" stroke-width="1.20"/>
<line x1="1191.41" y1="674.00" x2="1191.41" y2="678.20" stroke="#222" stroke-width="0.90"/>
<text x="873.71" y="662.90" font-size="19.50" textLength="46.02" lengthAdjust="spacingAndGlyphs" fill="#000">0.09</text>
<text x="960.56" y="662.90" font-size="19.50" textLength="46.02" lengthAdjust="spacingAndGlyphs" fill="#000">0.89</text>
<text x="1047.41" y="662.90" font-size="19.50" textLength="46.02" lengthAdjust="spacingAndGlyphs" fill="#000">8.89</text>
<text x="1127.69" y="662.90" font-size="19.50" textLength="59.17" lengthAdjust="spacingAndGlyphs" fill="#000">88.89</text>
<text x="904.98" y="634.50" font-size="19.60" textLength="285.74" lengthAdjust="spacingAndGlyphs" fill="#000">Lake number proportion (%)</text>
<line x1="887.90" y1="704.03" x2="896.30" y2="704.03" stroke="#222" stroke-width="1.20"/>
<text transform="translate(882.00,720.28) rotate(-90)" font-size="19.60" textLength="32.97" lengthAdjust="spacingAndGlyphs">-40</text>
<line x1="887.90" y1="757.24" x2="896.30" y2="757.24" stroke="#222" stroke-width="1.20"/>
<text transform="translate(882.00,773.49) rotate(-90)" font-size="19.60" textLength="32.97" lengthAdjust="spacingAndGlyphs">-20</text>
<line x1="887.90" y1="810.45" x2="896.30" y2="810.45" stroke="#222" stroke-width="1.20"/>
<text transform="translate(882.00,816.86) rotate(-90)" font-size="19.60" textLength="12.84" lengthAdjust="spacingAndGlyphs">0</text>
<line x1="887.90" y1="863.66" x2="896.30" y2="863.66" stroke="#222" stroke-width="1.20"/>
<text transform="translate(882.00,876.53) rotate(-90)" font-size="19.60" textLength="25.69" lengthAdjust="spacingAndGlyphs">20</text>
<line x1="887.90" y1="916.87" x2="896.30" y2="916.87" stroke="#222" stroke-width="1.20"/>
<text transform="translate(882.00,929.49) rotate(-90)" font-size="19.60" textLength="25.69" lengthAdjust="spacingAndGlyphs">40</text>
<line x1="887.90" y1="970.09" x2="896.30" y2="970.09" stroke="#222" stroke-width="1.20"/>
<text transform="translate(882.00,982.91) rotate(-90)" font-size="19.60" textLength="25.69" lengthAdjust="spacingAndGlyphs">60</text>
<line x1="887.90" y1="1023.30" x2="896.30" y2="1023.30" stroke="#222" stroke-width="1.20"/>
<text transform="translate(882.00,1036.12) rotate(-90)" font-size="19.60" textLength="25.69" lengthAdjust="spacingAndGlyphs">80</text>
<line x1="887.90" y1="1076.51" x2="896.30" y2="1076.51" stroke="#222" stroke-width="1.20"/>
<text transform="translate(882.00,1096.19) rotate(-90)" font-size="19.60" textLength="38.53" lengthAdjust="spacingAndGlyphs">100</text>
<line x1="887.90" y1="1129.72" x2="896.30" y2="1129.72" stroke="#222" stroke-width="1.20"/>
<text transform="translate(882.00,1149.41) rotate(-90)" font-size="19.60" textLength="38.53" lengthAdjust="spacingAndGlyphs">120</text>
<line x1="887.90" y1="1182.93" x2="896.30" y2="1182.93" stroke="#222" stroke-width="1.20"/>
<text transform="translate(882.00,1202.62) rotate(-90)" font-size="19.60" textLength="38.53" lengthAdjust="spacingAndGlyphs">140</text>
<text transform="translate(856.10,1207.61) rotate(-90) scale(0.9975,1)" font-size="20.30">Changes of POC storage during 1984-2023 (t C yr<tspan font-size="14.21" dy="-7.5">-1</tspan><tspan dy="7.5">)</tspan></text>
<text x="1164.49" y="1197.50" font-size="36.50" textLength="27.07" lengthAdjust="spacingAndGlyphs" font-weight="bold" fill="#000">d</text>
</svg></body></html>
